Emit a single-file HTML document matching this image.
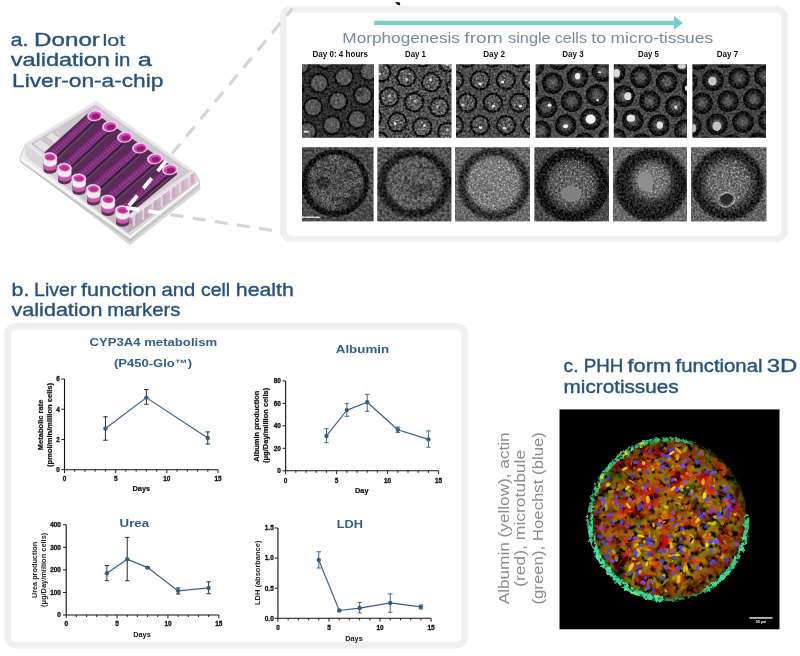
<!DOCTYPE html>
<html lang="en"><head><meta charset="utf-8"><title>Liver-on-a-chip donor lot validation</title>
<style>
html,body{margin:0;padding:0;background:#fff;}
svg{display:block;font-family:'Liberation Sans', sans-serif;}
</style></head><body>
<svg width="800" height="656" viewBox="0 0 800 656">
<rect width="800" height="656" fill="#fff"/>
<defs><filter id="bl05" x="-0.05" y="-0.05" width="1.1" height="1.1"><feGaussianBlur stdDeviation="0.5"/></filter>
<radialGradient id="wg4"><stop offset="0" stop-color="#646464"/><stop offset="0.4" stop-color="#4a4a4a"/><stop offset="0.68" stop-color="#1e1e1e"/><stop offset="0.92" stop-color="#0a0a0a"/><stop offset="1" stop-color="#1a1a1a"/></radialGradient>
<radialGradient id="wg5"><stop offset="0" stop-color="#6a6a6a"/><stop offset="0.4" stop-color="#484848"/><stop offset="0.68" stop-color="#1c1c1c"/><stop offset="0.92" stop-color="#080808"/><stop offset="1" stop-color="#181818"/></radialGradient>
<radialGradient id="wg6"><stop offset="0" stop-color="#666"/><stop offset="0.4" stop-color="#464646"/><stop offset="0.68" stop-color="#1c1c1c"/><stop offset="0.92" stop-color="#0a0a0a"/><stop offset="1" stop-color="#181818"/></radialGradient>
<filter id="nA" x="0" y="0" width="1" height="1" color-interpolation-filters="sRGB"><feTurbulence type="fractalNoise" baseFrequency="0.45" numOctaves="2" seed="3" result="t"/><feColorMatrix in="t" type="matrix" values="1 0 0 0 0 1 0 0 0 0 1 0 0 0 0 0 0 0 0 1" result="g"/><feComposite in="SourceGraphic" in2="g" operator="arithmetic" k1="0" k2="1" k3="0.42" k4="-0.210" result="c"/><feGaussianBlur in="c" stdDeviation="0.55"/></filter>
<filter id="nB" x="0" y="0" width="1" height="1" color-interpolation-filters="sRGB"><feTurbulence type="fractalNoise" baseFrequency="0.45" numOctaves="2" seed="8" result="t"/><feColorMatrix in="t" type="matrix" values="1 0 0 0 0 1 0 0 0 0 1 0 0 0 0 0 0 0 0 1" result="g"/><feComposite in="SourceGraphic" in2="g" operator="arithmetic" k1="0" k2="1" k3="0.7" k4="-0.350" result="c"/><feGaussianBlur in="c" stdDeviation="0.55"/></filter>
<filter id="nC" x="0" y="0" width="1" height="1" color-interpolation-filters="sRGB"><feTurbulence type="fractalNoise" baseFrequency="0.45" numOctaves="2" seed="13" result="t"/><feColorMatrix in="t" type="matrix" values="1 0 0 0 0 1 0 0 0 0 1 0 0 0 0 0 0 0 0 1" result="g"/><feComposite in="SourceGraphic" in2="g" operator="arithmetic" k1="0" k2="1" k3="0.6" k4="-0.300" result="c"/><feGaussianBlur in="c" stdDeviation="0.55"/></filter>
<filter id="nD" x="0" y="0" width="1" height="1" color-interpolation-filters="sRGB"><feTurbulence type="fractalNoise" baseFrequency="0.45" numOctaves="2" seed="21" result="t"/><feColorMatrix in="t" type="matrix" values="1 0 0 0 0 1 0 0 0 0 1 0 0 0 0 0 0 0 0 1" result="g"/><feComposite in="SourceGraphic" in2="g" operator="arithmetic" k1="0" k2="1" k3="0.45" k4="-0.225" result="c"/><feGaussianBlur in="c" stdDeviation="0.55"/></filter>
<filter id="nE" x="0" y="0" width="1" height="1" color-interpolation-filters="sRGB"><feTurbulence type="fractalNoise" baseFrequency="0.45" numOctaves="2" seed="34" result="t"/><feColorMatrix in="t" type="matrix" values="1 0 0 0 0 1 0 0 0 0 1 0 0 0 0 0 0 0 0 1" result="g"/><feComposite in="SourceGraphic" in2="g" operator="arithmetic" k1="0" k2="1" k3="0.45" k4="-0.225" result="c"/><feGaussianBlur in="c" stdDeviation="0.55"/></filter>
<filter id="nF" x="0" y="0" width="1" height="1" color-interpolation-filters="sRGB"><feTurbulence type="fractalNoise" baseFrequency="0.45" numOctaves="2" seed="55" result="t"/><feColorMatrix in="t" type="matrix" values="1 0 0 0 0 1 0 0 0 0 1 0 0 0 0 0 0 0 0 1" result="g"/><feComposite in="SourceGraphic" in2="g" operator="arithmetic" k1="0" k2="1" k3="0.42" k4="-0.210" result="c"/><feGaussianBlur in="c" stdDeviation="0.55"/></filter>
<filter id="sp1" x="0" y="0" width="1" height="1" color-interpolation-filters="sRGB"><feTurbulence type="fractalNoise" baseFrequency="0.45" numOctaves="2" seed="4" result="t"/><feColorMatrix in="t" type="matrix" values="0 0 0 0 1 0 0 0 0 1 0 0 0 0 1 6 0 0 0 -3.720" result="g"/><feComposite in="g" in2="SourceGraphic" operator="in"/></filter>
<filter id="sp2" x="0" y="0" width="1" height="1" color-interpolation-filters="sRGB"><feTurbulence type="fractalNoise" baseFrequency="0.5" numOctaves="2" seed="9" result="t"/><feColorMatrix in="t" type="matrix" values="0 0 0 0 1 0 0 0 0 1 0 0 0 0 1 6 0 0 0 -3.600" result="g"/><feComposite in="g" in2="SourceGraphic" operator="in"/></filter>
<clipPath id="mc1"><rect x="0" y="0" width="72" height="73.6"/></clipPath>
<clipPath id="mc2"><rect x="0" y="0" width="72.8" height="73.6"/></clipPath>
<clipPath id="mc3"><rect x="0" y="0" width="74" height="73.6"/></clipPath>
<clipPath id="mc4"><rect x="0" y="0" width="73.2" height="73.6"/></clipPath>
<clipPath id="mc5"><rect x="0" y="0" width="73.2" height="73.6"/></clipPath>
<clipPath id="mc6"><rect x="0" y="0" width="73.6" height="73.6"/></clipPath>
<filter id="nG" x="0" y="0" width="1" height="1" color-interpolation-filters="sRGB"><feTurbulence type="fractalNoise" baseFrequency="0.4" numOctaves="2" seed="5" result="t"/><feColorMatrix in="t" type="matrix" values="1 0 0 0 0 1 0 0 0 0 1 0 0 0 0 0 0 0 0 1" result="g"/><feComposite in="SourceGraphic" in2="g" operator="arithmetic" k1="0" k2="1" k3="0.45" k4="-0.225" result="c"/><feGaussianBlur in="c" stdDeviation="0.5"/></filter>
<filter id="nH" x="0" y="0" width="1" height="1" color-interpolation-filters="sRGB"><feTurbulence type="fractalNoise" baseFrequency="0.4" numOctaves="2" seed="15" result="t"/><feColorMatrix in="t" type="matrix" values="1 0 0 0 0 1 0 0 0 0 1 0 0 0 0 0 0 0 0 1" result="g"/><feComposite in="SourceGraphic" in2="g" operator="arithmetic" k1="0" k2="1" k3="0.5" k4="-0.250" result="c"/><feGaussianBlur in="c" stdDeviation="0.55"/></filter>
<filter id="nI" x="0" y="0" width="1" height="1" color-interpolation-filters="sRGB"><feTurbulence type="fractalNoise" baseFrequency="0.45" numOctaves="2" seed="25" result="t"/><feColorMatrix in="t" type="matrix" values="1 0 0 0 0 1 0 0 0 0 1 0 0 0 0 0 0 0 0 1" result="g"/><feComposite in="SourceGraphic" in2="g" operator="arithmetic" k1="0" k2="1" k3="0.55" k4="-0.275" result="c"/><feGaussianBlur in="c" stdDeviation="0.6"/></filter>
<filter id="nJ" x="0" y="0" width="1" height="1" color-interpolation-filters="sRGB"><feTurbulence type="fractalNoise" baseFrequency="0.45" numOctaves="2" seed="35" result="t"/><feColorMatrix in="t" type="matrix" values="1 0 0 0 0 1 0 0 0 0 1 0 0 0 0 0 0 0 0 1" result="g"/><feComposite in="SourceGraphic" in2="g" operator="arithmetic" k1="0" k2="1" k3="0.55" k4="-0.275" result="c"/><feGaussianBlur in="c" stdDeviation="0.6"/></filter>
<filter id="nK" x="0" y="0" width="1" height="1" color-interpolation-filters="sRGB"><feTurbulence type="fractalNoise" baseFrequency="0.45" numOctaves="2" seed="45" result="t"/><feColorMatrix in="t" type="matrix" values="1 0 0 0 0 1 0 0 0 0 1 0 0 0 0 0 0 0 0 1" result="g"/><feComposite in="SourceGraphic" in2="g" operator="arithmetic" k1="0" k2="1" k3="0.55" k4="-0.275" result="c"/><feGaussianBlur in="c" stdDeviation="0.6"/></filter>
<filter id="nL" x="0" y="0" width="1" height="1" color-interpolation-filters="sRGB"><feTurbulence type="fractalNoise" baseFrequency="0.45" numOctaves="2" seed="65" result="t"/><feColorMatrix in="t" type="matrix" values="1 0 0 0 0 1 0 0 0 0 1 0 0 0 0 0 0 0 0 1" result="g"/><feComposite in="SourceGraphic" in2="g" operator="arithmetic" k1="0" k2="1" k3="0.55" k4="-0.275" result="c"/><feGaussianBlur in="c" stdDeviation="0.6"/></filter>
<filter id="sp3" x="0" y="0" width="1" height="1" color-interpolation-filters="sRGB"><feTurbulence type="fractalNoise" baseFrequency="0.5" numOctaves="2" seed="14" result="t"/><feColorMatrix in="t" type="matrix" values="0 0 0 0 1 0 0 0 0 1 0 0 0 0 1 5 0 0 0 -2.900" result="g"/><feComposite in="g" in2="SourceGraphic" operator="in"/></filter>
<filter id="sp4" x="0" y="0" width="1" height="1" color-interpolation-filters="sRGB"><feTurbulence type="fractalNoise" baseFrequency="0.55" numOctaves="2" seed="24" result="t"/><feColorMatrix in="t" type="matrix" values="0 0 0 0 1 0 0 0 0 1 0 0 0 0 1 5 0 0 0 -2.800" result="g"/><feComposite in="g" in2="SourceGraphic" operator="in"/></filter>
<filter id="bl1" x="-0.2" y="-0.2" width="1.4" height="1.4"><feGaussianBlur stdDeviation="1"/></filter>
<filter id="bl2" x="-0.2" y="-0.2" width="1.4" height="1.4"><feGaussianBlur stdDeviation="2"/></filter>
<filter id="bl3" x="-0.3" y="-0.3" width="1.6" height="1.6"><feGaussianBlur stdDeviation="3"/></filter>
<clipPath id="mc7"><rect x="0" y="0" width="71.6" height="74.2"/></clipPath>
<clipPath id="mc8"><rect x="0" y="0" width="74.2" height="74.2"/></clipPath>
<radialGradient id="rg3"><stop offset="0" stop-color="#7c7c7c"/><stop offset="0.7" stop-color="#767676"/><stop offset="0.8" stop-color="#323232"/><stop offset="0.95" stop-color="#262626"/><stop offset="1" stop-color="#444"/></radialGradient>
<clipPath id="mc9"><rect x="0" y="0" width="75" height="74.2"/></clipPath>
<radialGradient id="rg4"><stop offset="0" stop-color="#5e5e5e"/><stop offset="0.5" stop-color="#585858"/><stop offset="0.66" stop-color="#3c3c3c"/><stop offset="0.78" stop-color="#181818"/><stop offset="0.96" stop-color="#151515"/><stop offset="1" stop-color="#303030"/></radialGradient>
<clipPath id="mc10"><rect x="0" y="0" width="74.6" height="74.2"/></clipPath>
<radialGradient id="rg5"><stop offset="0" stop-color="#464646"/><stop offset="0.55" stop-color="#303030"/><stop offset="0.75" stop-color="#1e1e1e"/><stop offset="0.93" stop-color="#1e1e1e"/><stop offset="1" stop-color="#3c3c3c"/></radialGradient>
<radialGradient id="rg5b"><stop offset="0" stop-color="#787878"/><stop offset="0.6" stop-color="#6e6e6e"/><stop offset="1" stop-color="#6e6e6e" stop-opacity="0"/></radialGradient>
<clipPath id="mc11"><rect x="0" y="0" width="74" height="74.2"/></clipPath>
<radialGradient id="rg6"><stop offset="0" stop-color="#6c6c6c"/><stop offset="0.5" stop-color="#646464"/><stop offset="0.7" stop-color="#3c3c3c"/><stop offset="0.82" stop-color="#202020"/><stop offset="0.95" stop-color="#1e1e1e"/><stop offset="1" stop-color="#3c3c3c"/></radialGradient>
<clipPath id="mc12"><rect x="0" y="0" width="75.5" height="74.2"/></clipPath>
<filter id="chipbl" x="-0.05" y="-0.05" width="1.1" height="1.1"><feGaussianBlur stdDeviation="0.55"/></filter>
<linearGradient id="chipbase" x1="0" y1="0" x2="1" y2="1"><stop offset="0" stop-color="#f2f2f2"/><stop offset="0.5" stop-color="#e2e2e2"/><stop offset="1" stop-color="#cfcfcf"/></linearGradient>
<linearGradient id="chipwallL" x1="0" y1="0" x2="0" y2="1"><stop offset="0" stop-color="#dedade"/><stop offset="1" stop-color="#bdb9bd"/></linearGradient>
<linearGradient id="chipwallR" x1="0" y1="0" x2="0" y2="1"><stop offset="0" stop-color="#d6c3d3"/><stop offset="1" stop-color="#bba8b8"/></linearGradient>
<clipPath id="chipclip"><path d="M96 101 L26 143 L20 157 L21 163 L130 242 L199.500 187 L199.500 181 L194.500 172 Z"/></clipPath>
<clipPath id="dgR"><rect x="168" y="0" width="140" height="250"/></clipPath>
<clipPath id="dgL"><rect x="100" y="140" width="68" height="100"/></clipPath>
<clipPath id="flclip"><rect x="559.3" y="409.2" width="220.4" height="220.4"/></clipPath>
<clipPath id="tisclip"><ellipse cx="668.0" cy="519.4" rx="78.5" ry="80.5"/></clipPath>
<filter id="flb1" x="-0.1" y="-0.1" width="1.2" height="1.2" color-interpolation-filters="sRGB"><feGaussianBlur stdDeviation="0.7"/></filter>
<filter id="flb2" x="-0.1" y="-0.1" width="1.2" height="1.2" color-interpolation-filters="sRGB"><feGaussianBlur stdDeviation="1.6"/></filter>
<filter id="flb3" x="-0.2" y="-0.2" width="1.4" height="1.4" color-interpolation-filters="sRGB"><feGaussianBlur stdDeviation="4"/></filter>
<radialGradient id="tisbg" gradientUnits="userSpaceOnUse" cx="668.0" cy="519.4" r="80.5"><stop offset="0" stop-color="#6a2a10"/><stop offset="0.8" stop-color="#5a200c"/><stop offset="1" stop-color="#2a1006"/></radialGradient>
<filter id="tistex" x="0" y="0" width="1" height="1" color-interpolation-filters="sRGB"><feTurbulence type="fractalNoise" baseFrequency="0.07" numOctaves="2" seed="12" result="t"/><feColorMatrix in="t" type="matrix" values="2.2 0 0 0 -0.56  0.85 1.8 0 0 -1.1  0 0 0 0 0  0 0 0 0 1" result="c"/><feComposite in="c" in2="SourceGraphic" operator="in"/></filter>
<filter id="tistex2" x="0" y="0" width="1" height="1" color-interpolation-filters="sRGB"><feTurbulence type="fractalNoise" baseFrequency="0.16" numOctaves="2" seed="31" result="t"/><feColorMatrix in="t" type="matrix" values="0 0 0 0 0  0 0 0 0 0  0 0 0 0 0  0 0 4 0 -2.0" result="c"/><feComposite in="c" in2="SourceGraphic" operator="in"/></filter>
<filter id="tistex3" x="0" y="0" width="1" height="1" color-interpolation-filters="sRGB"><feTurbulence type="fractalNoise" baseFrequency="0.085" numOctaves="3" seed="77" result="t"/><feColorMatrix in="t" type="matrix" values="0 0 0 0 0.62  0 0 0 0 0.54  0 0 0 0 0.07  0 3.4 0 0 -1.25" result="c"/><feComposite in="c" in2="SourceGraphic" operator="in"/></filter>
<radialGradient id="tisvig" gradientUnits="userSpaceOnUse" cx="668.0" cy="519.4" r="80.5"><stop offset="0" stop-color="#000" stop-opacity="0.04"/><stop offset="0.7" stop-color="#000" stop-opacity="0.1"/><stop offset="1" stop-color="#000" stop-opacity="0.42"/></radialGradient>
<filter id="rimf" x="-0.1" y="-0.1" width="1.2" height="1.2" color-interpolation-filters="sRGB"><feTurbulence type="fractalNoise" baseFrequency="0.25" numOctaves="2" seed="7" result="t"/><feDisplacementMap in="SourceGraphic" in2="t" scale="3.5" xChannelSelector="R" yChannelSelector="G" result="d"/><feColorMatrix in="t" type="matrix" values="0 0 0 0 0  0 0 0 0 0  0 0 0 0 0  0 0 0 4 -1.0" result="m"/><feComposite in="d" in2="m" operator="in" result="e"/><feGaussianBlur in="e" stdDeviation="0.6"/></filter></defs>
<rect x="283.45" y="9.1" width="500.95" height="229.95" rx="8" ry="8" fill="#fff" stroke="#eef1f0" stroke-width="6.6"/>
<rect x="7.65" y="326.35" width="456.95" height="318.75" rx="8" ry="8" fill="#fff" stroke="#eef1f0" stroke-width="6.6"/>
<path d="M395 2.100 Q397.200 1.700 399.500 2.600 Q400.700 3.700 400 5 Q398 5.500 396.800 4.100 Q396.200 3 395 2.100 Z" fill="#050505"/>
<text x="10.7" y="45.75" font-size="18.5" fill="#245180" textLength="17.6" lengthAdjust="spacingAndGlyphs" stroke="#245180" stroke-width="0.35">a.</text>
<text x="34.1" y="45.75" font-size="18.5" fill="#245180" textLength="65.8" lengthAdjust="spacingAndGlyphs" stroke="#245180" stroke-width="0.35">Donor</text>
<text x="102.5" y="45.75" font-size="17" fill="#245180" textLength="22.8" lengthAdjust="spacingAndGlyphs" stroke="#245180" stroke-width="0.15">lot</text>
<text x="10.7" y="66.25" font-size="18.5" fill="#245180" textLength="99.2" lengthAdjust="spacingAndGlyphs" stroke="#245180" stroke-width="0.35">validation</text>
<text x="114.5" y="66.25" font-size="18.5" fill="#245180" textLength="15.8" lengthAdjust="spacingAndGlyphs" stroke="#245180" stroke-width="0.35">in</text>
<text x="137.7" y="66.25" font-size="18.5" fill="#245180" textLength="14.2" lengthAdjust="spacingAndGlyphs" stroke="#245180" stroke-width="0.35">a</text>
<text x="12.1" y="87" font-size="18.5" fill="#245180" textLength="151.3" lengthAdjust="spacingAndGlyphs" stroke="#245180" stroke-width="0.35">Liver-on-a-chip</text>
<text x="11.6" y="295.5" font-size="18.2" fill="#245180" textLength="17.7" lengthAdjust="spacingAndGlyphs" stroke="#245180" stroke-width="0.35">b.</text>
<text x="34.1" y="295.5" font-size="18.2" fill="#245180" textLength="42.3" lengthAdjust="spacingAndGlyphs" stroke="#245180" stroke-width="0.35">Liver</text>
<text x="81.0" y="295.5" font-size="18.2" fill="#245180" textLength="75.6" lengthAdjust="spacingAndGlyphs" stroke="#245180" stroke-width="0.35">function</text>
<text x="161.6" y="295.5" font-size="18.2" fill="#245180" textLength="33.7" lengthAdjust="spacingAndGlyphs" stroke="#245180" stroke-width="0.35">and</text>
<text x="201.0" y="295.5" font-size="18.2" fill="#245180" textLength="29.1" lengthAdjust="spacingAndGlyphs" stroke="#245180" stroke-width="0.35">cell</text>
<text x="235.8" y="295.5" font-size="18.2" fill="#245180" textLength="58.1" lengthAdjust="spacingAndGlyphs" stroke="#245180" stroke-width="0.35">health</text>
<text x="11.6" y="315.8" font-size="18.2" fill="#245180" textLength="91.0" lengthAdjust="spacingAndGlyphs" stroke="#245180" stroke-width="0.35">validation</text>
<text x="107.2" y="315.8" font-size="18.2" fill="#245180" textLength="73.1" lengthAdjust="spacingAndGlyphs" stroke="#245180" stroke-width="0.35">markers</text>
<text x="563.6" y="372" font-size="17.5" fill="#245180" textLength="14.9" lengthAdjust="spacingAndGlyphs" stroke="#245180" stroke-width="0.35">c.</text>
<text x="583.7" y="372" font-size="17.5" fill="#245180" textLength="39.6" lengthAdjust="spacingAndGlyphs" stroke="#245180" stroke-width="0.35">PHH</text>
<text x="627.5" y="372" font-size="17.5" fill="#245180" textLength="43.8" lengthAdjust="spacingAndGlyphs" stroke="#245180" stroke-width="0.35">form</text>
<text x="675.5" y="372" font-size="17.5" fill="#245180" textLength="87.0" lengthAdjust="spacingAndGlyphs" stroke="#245180" stroke-width="0.35">functional</text>
<text x="766.7" y="372" font-size="17.5" fill="#245180" textLength="30.6" lengthAdjust="spacingAndGlyphs" stroke="#245180" stroke-width="0.35">3D</text>
<text x="563.6" y="392.8" font-size="17.5" fill="#245180" textLength="114.9" lengthAdjust="spacingAndGlyphs" stroke="#245180" stroke-width="0.35">microtissues</text>
<path d="M374.200 20.800 H674 V16 L682.700 22.900 L674 29.800 V25.100 H374.200 Z" fill="#7ac9cb"/>
<text x="342.3" y="43.4" font-size="14.6" fill="#788a9f" textLength="117.65" lengthAdjust="spacingAndGlyphs">Morphogenesis</text>
<text x="464.3" y="43.4" font-size="14.6" fill="#788a9f" textLength="38.4" lengthAdjust="spacingAndGlyphs">from</text>
<text x="508.05" y="43.4" font-size="14.6" fill="#788a9f" textLength="42.65" lengthAdjust="spacingAndGlyphs">single</text>
<text x="554.8" y="43.4" font-size="14.6" fill="#788a9f" textLength="32.15" lengthAdjust="spacingAndGlyphs">cells</text>
<text x="591.3" y="43.4" font-size="14.6" fill="#788a9f" textLength="14.9" lengthAdjust="spacingAndGlyphs">to</text>
<text x="610.55" y="43.4" font-size="14.6" fill="#788a9f" textLength="102.65" lengthAdjust="spacingAndGlyphs">micro-tissues</text>
<text x="312.5" y="57.2" font-size="8.3" fill="#111" font-weight="bold" textLength="55.4" lengthAdjust="spacingAndGlyphs">Day 0: 4 hours</text>
<text x="405.0" y="57.2" font-size="8.3" fill="#111" font-weight="bold" textLength="21" lengthAdjust="spacingAndGlyphs">Day 1</text>
<text x="483.25" y="57.2" font-size="8.3" fill="#111" font-weight="bold" textLength="21.7" lengthAdjust="spacingAndGlyphs">Day 2</text>
<text x="562.3" y="57.2" font-size="8.3" fill="#111" font-weight="bold" textLength="21.4" lengthAdjust="spacingAndGlyphs">Day 3</text>
<text x="638.05" y="57.2" font-size="8.3" fill="#111" font-weight="bold" textLength="20.7" lengthAdjust="spacingAndGlyphs">Day 5</text>
<text x="716.8" y="57.2" font-size="8.3" fill="#111" font-weight="bold" textLength="21.4" lengthAdjust="spacingAndGlyphs">Day 7</text>
<text x="508.7" y="604.3" font-size="14.6" fill="#8c8c8c" textLength="172" lengthAdjust="spacingAndGlyphs" transform="rotate(-90 508.7 604.3)">Albumin (yellow), actin</text>
<text x="525.3" y="586.8" font-size="14.6" fill="#8c8c8c" textLength="137" lengthAdjust="spacingAndGlyphs" transform="rotate(-90 525.3 586.8)">(red), microtubule</text>
<text x="543.5" y="604.55" font-size="14.6" fill="#8c8c8c" textLength="172.5" lengthAdjust="spacingAndGlyphs" transform="rotate(-90 543.5 604.55)">(green), Hoechst (blue)</text>
<path d="M64.5 379 V469.7 H218" fill="none" stroke="#111" stroke-width="1.1"/>
<path d="M64.5 469.7v3.4M74.73 469.7v2.0M84.97 469.7v2.0M95.2 469.7v2.0M105.43 469.7v2.0M115.67 469.7v3.4M125.9 469.7v2.0M136.13 469.7v2.0M146.37 469.7v2.0M156.6 469.7v2.0M166.83 469.7v3.4M177.07 469.7v2.0M187.3 469.7v2.0M197.53 469.7v2.0M207.77 469.7v2.0M218.0 469.7v3.4M64.5 469.7h-3.2M64.5 439.47h-3.2M64.5 409.23h-3.2M64.5 379.0h-3.2" fill="none" stroke="#111" stroke-width="0.95"/>
<polyline points="105.43,428.58 146.37,397.59 207.77,437.95" fill="none" stroke="#335f85" stroke-width="1.15"/>
<path d="M105.43 416.79V440.22M103.23 416.79h4.4M103.23 440.22h4.4M146.37 389.58V404.24M144.17000000000002 389.58h4.4M144.17000000000002 404.24h4.4M207.77 431.91V444.0M205.57000000000002 431.91h4.4M205.57000000000002 444.0h4.4" fill="none" stroke="#222" stroke-width="0.95"/>
<circle cx="105.43" cy="428.58" r="2.2" fill="#335f85"/>
<circle cx="146.37" cy="397.59" r="2.2" fill="#335f85"/>
<circle cx="207.77" cy="437.95" r="2.2" fill="#335f85"/>
<text x="64.5" y="480.6" font-size="6.4" fill="#111" font-weight="bold" text-anchor="middle" stroke="#111" stroke-width="0.3">0</text>
<text x="115.67" y="480.6" font-size="6.4" fill="#111" font-weight="bold" text-anchor="middle" stroke="#111" stroke-width="0.3">5</text>
<text x="166.83" y="480.6" font-size="6.4" fill="#111" font-weight="bold" text-anchor="middle" stroke="#111" stroke-width="0.3">10</text>
<text x="218.0" y="480.6" font-size="6.4" fill="#111" font-weight="bold" text-anchor="middle" stroke="#111" stroke-width="0.3">15</text>
<text x="59.8" y="472.0" font-size="6.4" fill="#111" font-weight="bold" text-anchor="end" stroke="#111" stroke-width="0.3">0</text>
<text x="59.8" y="441.77" font-size="6.4" fill="#111" font-weight="bold" text-anchor="end" stroke="#111" stroke-width="0.3">2</text>
<text x="59.8" y="411.54" font-size="6.4" fill="#111" font-weight="bold" text-anchor="end" stroke="#111" stroke-width="0.3">4</text>
<text x="59.8" y="381.3" font-size="6.4" fill="#111" font-weight="bold" text-anchor="end" stroke="#111" stroke-width="0.3">6</text>
<text x="89.4" y="346.4" font-size="10.6" fill="#2f5f8c" font-weight="bold" textLength="127.8" lengthAdjust="spacingAndGlyphs">CYP3A4 metabolism</text>
<text x="113.9" y="367.4" font-size="10.6" fill="#2f5f8c" font-weight="bold" textLength="78.3" lengthAdjust="spacingAndGlyphs">(P450-Glo™)</text>
<text x="43.3" y="424.9" font-size="7.1" fill="#111" font-weight="bold" text-anchor="middle" textLength="50.5" lengthAdjust="spacingAndGlyphs" transform="rotate(-90 43.3 424.9)" stroke="#111" stroke-width="0.2">Metabolic rate</text>
<text x="52.2" y="424.9" font-size="7.1" fill="#111" font-weight="bold" text-anchor="middle" textLength="84" lengthAdjust="spacingAndGlyphs" transform="rotate(-90 52.2 424.9)" stroke="#111" stroke-width="0.2">(pmol/min/million cells)</text>
<text x="141.3" y="490.5" font-size="7.2" fill="#111" font-weight="bold" text-anchor="middle" textLength="17.5" lengthAdjust="spacingAndGlyphs" stroke="#111" stroke-width="0.2">Days</text>
<path d="M285.65 380.9 V470.8 H438.6" fill="none" stroke="#111" stroke-width="1.1"/>
<path d="M285.65 470.8v3.4M295.85 470.8v2.0M306.04 470.8v2.0M316.24 470.8v2.0M326.44 470.8v2.0M336.63 470.8v3.4M346.83 470.8v2.0M357.03 470.8v2.0M367.22 470.8v2.0M377.42 470.8v2.0M387.62 470.8v3.4M397.81 470.8v2.0M408.01 470.8v2.0M418.21 470.8v2.0M428.4 470.8v2.0M438.6 470.8v3.4M285.65 470.8h-3.2M285.65 448.32h-3.2M285.65 425.85h-3.2M285.65 403.38h-3.2M285.65 380.9h-3.2" fill="none" stroke="#111" stroke-width="0.95"/>
<polyline points="326.44,435.96 346.83,410.12 367.22,402.25 397.81,429.78 428.4,439.33" fill="none" stroke="#335f85" stroke-width="1.15"/>
<path d="M326.44 428.66V442.71M324.24 428.66h4.4M324.24 442.71h4.4M346.83 403.38V416.3M344.63 403.38h4.4M344.63 416.3h4.4M367.22 394.38V411.24M365.02000000000004 394.38h4.4M365.02000000000004 411.24h4.4M397.81 426.97V432.59M395.61 426.97h4.4M395.61 432.59h4.4M428.4 430.91V447.2M426.2 430.91h4.4M426.2 447.2h4.4" fill="none" stroke="#335f85" stroke-width="0.95"/>
<circle cx="326.44" cy="435.96" r="2.2" fill="#335f85"/>
<circle cx="346.83" cy="410.12" r="2.2" fill="#335f85"/>
<circle cx="367.22" cy="402.25" r="2.2" fill="#335f85"/>
<circle cx="397.81" cy="429.78" r="2.2" fill="#335f85"/>
<circle cx="428.4" cy="439.33" r="2.2" fill="#335f85"/>
<text x="285.65" y="482.8" font-size="6.4" fill="#111" font-weight="bold" text-anchor="middle" stroke="#111" stroke-width="0.3">0</text>
<text x="336.63" y="482.8" font-size="6.4" fill="#111" font-weight="bold" text-anchor="middle" stroke="#111" stroke-width="0.3">5</text>
<text x="387.62" y="482.8" font-size="6.4" fill="#111" font-weight="bold" text-anchor="middle" stroke="#111" stroke-width="0.3">10</text>
<text x="438.6" y="482.8" font-size="6.4" fill="#111" font-weight="bold" text-anchor="middle" stroke="#111" stroke-width="0.3">15</text>
<text x="280.8" y="473.1" font-size="6.4" fill="#111" font-weight="bold" text-anchor="end" stroke="#111" stroke-width="0.3">0</text>
<text x="280.8" y="450.63" font-size="6.4" fill="#111" font-weight="bold" text-anchor="end" stroke="#111" stroke-width="0.3">20</text>
<text x="280.8" y="428.15" font-size="6.4" fill="#111" font-weight="bold" text-anchor="end" stroke="#111" stroke-width="0.3">40</text>
<text x="280.8" y="405.68" font-size="6.4" fill="#111" font-weight="bold" text-anchor="end" stroke="#111" stroke-width="0.3">60</text>
<text x="280.8" y="383.2" font-size="6.4" fill="#111" font-weight="bold" text-anchor="end" stroke="#111" stroke-width="0.3">80</text>
<text x="335.8" y="353.4" font-size="11" fill="#2f5f8c" font-weight="bold" textLength="53.3" lengthAdjust="spacingAndGlyphs">Albumin</text>
<text x="259.3" y="426.2" font-size="7.1" fill="#111" font-weight="bold" text-anchor="middle" textLength="71.3" lengthAdjust="spacingAndGlyphs" transform="rotate(-90 259.3 426.2)" stroke="#111" stroke-width="0.2">Albumin production</text>
<text x="268.2" y="425.4" font-size="7.1" fill="#111" font-weight="bold" text-anchor="middle" textLength="75.2" lengthAdjust="spacingAndGlyphs" transform="rotate(-90 268.2 425.4)" stroke="#111" stroke-width="0.2">(μg/Day/million cells)</text>
<text x="361.8" y="492.6" font-size="7.2" fill="#111" font-weight="bold" text-anchor="middle" textLength="13.5" lengthAdjust="spacingAndGlyphs" stroke="#111" stroke-width="0.2">Day</text>
<path d="M66.2 524.75 V615 H218.8" fill="none" stroke="#111" stroke-width="1.1"/>
<path d="M66.2 615v3.4M76.37 615v2.0M86.55 615v2.0M96.72 615v2.0M106.89 615v2.0M117.07 615v3.4M127.24 615v2.0M137.41 615v2.0M147.59 615v2.0M157.76 615v2.0M167.93 615v3.4M178.11 615v2.0M188.28 615v2.0M198.45 615v2.0M208.63 615v2.0M218.8 615v3.4M66.2 615.0h-3.2M66.2 592.44h-3.2M66.2 569.88h-3.2M66.2 547.31h-3.2M66.2 524.75h-3.2" fill="none" stroke="#111" stroke-width="0.95"/>
<polyline points="106.89,573.26 127.24,559.27 147.59,567.62 178.11,590.86 208.63,587.92" fill="none" stroke="#335f85" stroke-width="1.15"/>
<path d="M106.89 565.59V580.71M104.69 565.59h4.4M104.69 580.71h4.4M127.24 537.38V580.71M125.03999999999999 537.38h4.4M125.03999999999999 580.71h4.4M147.59 566.94V568.3M145.39000000000001 566.94h4.4M145.39000000000001 568.3h4.4M178.11 587.92V594.02M175.91000000000003 587.92h4.4M175.91000000000003 594.02h4.4M208.63 581.83V593.79M206.43 581.83h4.4M206.43 593.79h4.4" fill="none" stroke="#222" stroke-width="0.95"/>
<circle cx="106.89" cy="573.26" r="2.2" fill="#335f85"/>
<circle cx="127.24" cy="559.27" r="2.2" fill="#335f85"/>
<circle cx="147.59" cy="567.62" r="2.2" fill="#335f85"/>
<circle cx="178.11" cy="590.86" r="2.2" fill="#335f85"/>
<circle cx="208.63" cy="587.92" r="2.2" fill="#335f85"/>
<text x="66.2" y="626" font-size="6.4" fill="#111" font-weight="bold" text-anchor="middle" stroke="#111" stroke-width="0.3">0</text>
<text x="117.07" y="626" font-size="6.4" fill="#111" font-weight="bold" text-anchor="middle" stroke="#111" stroke-width="0.3">5</text>
<text x="167.93" y="626" font-size="6.4" fill="#111" font-weight="bold" text-anchor="middle" stroke="#111" stroke-width="0.3">10</text>
<text x="218.8" y="626" font-size="6.4" fill="#111" font-weight="bold" text-anchor="middle" stroke="#111" stroke-width="0.3">15</text>
<text x="60.8" y="617.3" font-size="6.4" fill="#111" font-weight="bold" text-anchor="end" stroke="#111" stroke-width="0.3">0</text>
<text x="60.8" y="594.74" font-size="6.4" fill="#111" font-weight="bold" text-anchor="end" stroke="#111" stroke-width="0.3">100</text>
<text x="60.8" y="572.18" font-size="6.4" fill="#111" font-weight="bold" text-anchor="end" stroke="#111" stroke-width="0.3">200</text>
<text x="60.8" y="549.62" font-size="6.4" fill="#111" font-weight="bold" text-anchor="end" stroke="#111" stroke-width="0.3">300</text>
<text x="60.8" y="527.05" font-size="6.4" fill="#111" font-weight="bold" text-anchor="end" stroke="#111" stroke-width="0.3">400</text>
<text x="119.6" y="527" font-size="11.6" fill="#2f5f8c" font-weight="bold" textLength="29.4" lengthAdjust="spacingAndGlyphs">Urea</text>
<text x="37.3" y="569.9" font-size="7.1" fill="#222" font-weight="bold" text-anchor="middle" textLength="56.4" lengthAdjust="spacingAndGlyphs" transform="rotate(-90 37.3 569.9)">Urea production</text>
<text x="46.2" y="569.9" font-size="7.1" fill="#222" font-weight="bold" text-anchor="middle" textLength="74.3" lengthAdjust="spacingAndGlyphs" transform="rotate(-90 46.2 569.9)">(μg/Day/million cells)</text>
<text x="142" y="637.2" font-size="7.2" fill="#111" font-weight="bold" text-anchor="middle" textLength="17.5" lengthAdjust="spacingAndGlyphs">Days</text>
<path d="M277.95 528 V618.3 H431.1" fill="none" stroke="#111" stroke-width="1.1"/>
<path d="M277.95 618.3v3.4M288.16 618.3v2.0M298.37 618.3v2.0M308.58 618.3v2.0M318.79 618.3v2.0M329.0 618.3v3.4M339.21 618.3v2.0M349.42 618.3v2.0M359.63 618.3v2.0M369.84 618.3v2.0M380.05 618.3v3.4M390.26 618.3v2.0M400.47 618.3v2.0M410.68 618.3v2.0M420.89 618.3v2.0M431.1 618.3v3.4M277.95 618.3h-3.2M277.95 588.2h-3.2M277.95 558.1h-3.2M277.95 528.0h-3.2" fill="none" stroke="#111" stroke-width="0.95"/>
<polyline points="318.79,559.91 339.21,610.47 359.63,608.07 390.26,602.95 420.89,606.86" fill="none" stroke="#335f85" stroke-width="1.15"/>
<path d="M318.79 551.78V568.03M316.59000000000003 551.78h4.4M316.59000000000003 568.03h4.4M339.21 609.87V611.08M337.01 609.87h4.4M337.01 611.08h4.4M359.63 602.35V612.88M357.43 602.35h4.4M357.43 612.88h4.4M390.26 593.92V612.28M388.06 593.92h4.4M388.06 612.28h4.4M420.89 605.06V608.97M418.69 605.06h4.4M418.69 608.97h4.4" fill="none" stroke="#335f85" stroke-width="0.95"/>
<circle cx="318.79" cy="559.91" r="2.2" fill="#335f85"/>
<circle cx="339.21" cy="610.47" r="2.2" fill="#335f85"/>
<circle cx="359.63" cy="608.07" r="2.2" fill="#335f85"/>
<circle cx="390.26" cy="602.95" r="2.2" fill="#335f85"/>
<circle cx="420.89" cy="606.86" r="2.2" fill="#335f85"/>
<text x="277.95" y="629.5" font-size="6.4" fill="#111" font-weight="bold" text-anchor="middle" stroke="#111" stroke-width="0.3">0</text>
<text x="329.0" y="629.5" font-size="6.4" fill="#111" font-weight="bold" text-anchor="middle" stroke="#111" stroke-width="0.3">5</text>
<text x="380.05" y="629.5" font-size="6.4" fill="#111" font-weight="bold" text-anchor="middle" stroke="#111" stroke-width="0.3">10</text>
<text x="431.1" y="629.5" font-size="6.4" fill="#111" font-weight="bold" text-anchor="middle" stroke="#111" stroke-width="0.3">15</text>
<text x="273.7" y="620.6" font-size="6.4" fill="#111" font-weight="bold" text-anchor="end" stroke="#111" stroke-width="0.3">0.0</text>
<text x="273.7" y="590.5" font-size="6.4" fill="#111" font-weight="bold" text-anchor="end" stroke="#111" stroke-width="0.3">0.5</text>
<text x="273.7" y="560.4" font-size="6.4" fill="#111" font-weight="bold" text-anchor="end" stroke="#111" stroke-width="0.3">1.0</text>
<text x="273.7" y="530.3" font-size="6.4" fill="#111" font-weight="bold" text-anchor="end" stroke="#111" stroke-width="0.3">1.5</text>
<text x="336.8" y="527.5" font-size="11.6" fill="#2f5f8c" font-weight="bold" textLength="26.3" lengthAdjust="spacingAndGlyphs">LDH</text>
<text x="260.2" y="572.8" font-size="7.1" fill="#222" font-weight="bold" text-anchor="middle" textLength="64.4" lengthAdjust="spacingAndGlyphs" transform="rotate(-90 260.2 572.8)">LDH (absorbance)</text>
<text x="354" y="640.6" font-size="7.2" fill="#111" font-weight="bold" text-anchor="middle" textLength="17.5" lengthAdjust="spacingAndGlyphs">Days</text>
<g transform="translate(302 64.2)" clip-path="url(#mc1)"><g filter="url(#nA)">
<rect width="72" height="73.6" fill="#2d2d2d"/>
<path d="M13.5 27.2L49.8 57.6M19.2 26.1L46.5 49.0M-7.2 26.0L21.2 49.8M53.1 -9.4L72.8 7.0M-16.7 53.2L13.4 78.4M-24.8 66.3L12.5 97.6M42.3 41.0L58.0 54.2M-15.2 34.0L-2.1 44.9M1.4 7.5L13.6 17.8M15.6 16.9L49.7 45.5M25.3 39.5L50.2 60.4M41.5 24.9L60.4 40.8M64.8 68.9L98.8 97.5M46.3 12.1L63.9 26.9M0.6 -16.9L32.6 10.0M15.9 60.1L37.8 78.4M72.4 64.5L83.9 74.1M-2.8 65.1L21.3 85.3M73.5 21.6L86.9 32.8M38.5 55.0L57.3 70.7M-20.7 5.5L16.7 36.8M50.7 -6.5L68.8 8.6M-17.1 -18.2L15.7 9.4M-5.4 32.5L18.1 52.2M0.0 52.2L15.0 64.8M37.8 -8.6L60.6 10.5M-9.2 -0.5L28.3 31.0M46.3 3.7L81.5 33.2M-7.8 12.5L26.6 41.3M30.0 -16.6L68.1 15.3M-6.5 0.7L25.7 27.7M13.5 12.1L27.0 23.4M-10.7 37.0L7.3 52.1M33.5 14.9L57.1 34.7M64.8 24.0L91.7 46.6M61.9 0.6L77.5 13.7M64.5 58.9L82.7 74.2M-10.9 43.8L25.8 74.6M-9.5 64.2L25.7 93.7M38.4 23.5L52.7 35.4" stroke="#444" stroke-opacity="0.5" stroke-width="0.8" fill="none"/>
<circle cx="5" cy="67" r="9.1" fill="#585858" stroke="#101010" stroke-width="2.2"/>
<circle cx="-8" cy="25" r="9.1" fill="#585858" stroke="#101010" stroke-width="2.2"/>
<circle cx="11" cy="43" r="9.1" fill="#585858" stroke="#101010" stroke-width="2.2"/>
<circle cx="30" cy="61" r="9.1" fill="#585858" stroke="#101010" stroke-width="2.2"/>
<circle cx="49" cy="79" r="9.1" fill="#585858" stroke="#101010" stroke-width="2.2"/>
<circle cx="-2" cy="1" r="9.1" fill="#585858" stroke="#101010" stroke-width="2.2"/>
<circle cx="17" cy="19" r="9.1" fill="#585858" stroke="#101010" stroke-width="2.2"/>
<circle cx="36" cy="37" r="9.1" fill="#585858" stroke="#101010" stroke-width="2.2"/>
<circle cx="55" cy="55" r="9.1" fill="#585858" stroke="#101010" stroke-width="2.2"/>
<circle cx="74" cy="73" r="9.1" fill="#585858" stroke="#101010" stroke-width="2.2"/>
<circle cx="23" cy="-5" r="9.1" fill="#585858" stroke="#101010" stroke-width="2.2"/>
<circle cx="42" cy="13" r="9.1" fill="#585858" stroke="#101010" stroke-width="2.2"/>
<circle cx="61" cy="31" r="9.1" fill="#585858" stroke="#101010" stroke-width="2.2"/>
<circle cx="80" cy="49" r="9.1" fill="#585858" stroke="#101010" stroke-width="2.2"/>
<circle cx="67" cy="7" r="9.1" fill="#585858" stroke="#101010" stroke-width="2.2"/>
<ellipse cx="58" cy="29" rx="4" ry="3" fill="#3a3a3a"/>
<rect x="2" y="66.6" width="4.4" height="1.8" fill="#eee"/>
</g></g>
<g transform="translate(378.7 64.2)" clip-path="url(#mc2)"><g filter="url(#nB)">
<rect width="72.8" height="73.6" fill="#505050"/>
<circle cx="-6.5" cy="53" r="9.2" fill="#585858" stroke="#121212" stroke-width="2.3"/>
<circle cx="1.5" cy="78" r="9.2" fill="#585858" stroke="#121212" stroke-width="2.3"/>
<circle cx="2.5" cy="8" r="9.2" fill="#585858" stroke="#121212" stroke-width="2.3"/>
<circle cx="10.5" cy="33" r="9.2" fill="#585858" stroke="#121212" stroke-width="2.3"/>
<circle cx="18.5" cy="58" r="9.2" fill="#585858" stroke="#121212" stroke-width="2.3"/>
<circle cx="26.5" cy="83" r="9.2" fill="#585858" stroke="#121212" stroke-width="2.3"/>
<circle cx="27.5" cy="13" r="9.2" fill="#585858" stroke="#121212" stroke-width="2.3"/>
<circle cx="35.5" cy="38" r="9.2" fill="#585858" stroke="#121212" stroke-width="2.3"/>
<circle cx="43.5" cy="63" r="9.2" fill="#585858" stroke="#121212" stroke-width="2.3"/>
<circle cx="44.5" cy="-7" r="9.2" fill="#585858" stroke="#121212" stroke-width="2.3"/>
<circle cx="52.5" cy="18" r="9.2" fill="#585858" stroke="#121212" stroke-width="2.3"/>
<circle cx="60.5" cy="43" r="9.2" fill="#585858" stroke="#121212" stroke-width="2.3"/>
<circle cx="68.5" cy="68" r="9.2" fill="#585858" stroke="#121212" stroke-width="2.3"/>
<circle cx="69.5" cy="-2" r="9.2" fill="#585858" stroke="#121212" stroke-width="2.3"/>
<circle cx="77.5" cy="23" r="9.2" fill="#585858" stroke="#121212" stroke-width="2.3"/>
<circle cx="-6.5" cy="53" r="7.5" fill="#fff" filter="url(#sp1)" opacity="0.5"/>
<circle cx="-9.3" cy="55.8" r="1.5" fill="#ddd" fill-opacity="0.8"/>
<circle cx="1.5" cy="78" r="7.5" fill="#fff" filter="url(#sp1)" opacity="0.5"/>
<circle cx="-0.1" cy="79.2" r="1.5" fill="#ddd" fill-opacity="0.8"/>
<circle cx="2.5" cy="8" r="7.5" fill="#fff" filter="url(#sp1)" opacity="0.5"/>
<circle cx="1.0" cy="9.9" r="1.5" fill="#ddd" fill-opacity="0.8"/>
<circle cx="10.5" cy="33" r="7.5" fill="#fff" filter="url(#sp1)" opacity="0.5"/>
<circle cx="11.1" cy="31.8" r="1.5" fill="#ddd" fill-opacity="0.8"/>
<circle cx="18.5" cy="58" r="7.5" fill="#fff" filter="url(#sp1)" opacity="0.5"/>
<circle cx="16.6" cy="59.3" r="1.5" fill="#ddd" fill-opacity="0.8"/>
<circle cx="26.5" cy="83" r="7.5" fill="#fff" filter="url(#sp1)" opacity="0.5"/>
<circle cx="23.9" cy="81.4" r="1.5" fill="#ddd" fill-opacity="0.8"/>
<circle cx="27.5" cy="13" r="7.5" fill="#fff" filter="url(#sp1)" opacity="0.5"/>
<circle cx="27.9" cy="15.1" r="1.5" fill="#ddd" fill-opacity="0.8"/>
<circle cx="35.5" cy="38" r="7.5" fill="#fff" filter="url(#sp1)" opacity="0.5"/>
<circle cx="36.2" cy="36.7" r="1.5" fill="#ddd" fill-opacity="0.8"/>
<circle cx="43.5" cy="63" r="7.5" fill="#fff" filter="url(#sp1)" opacity="0.5"/>
<circle cx="46.0" cy="61.2" r="1.5" fill="#ddd" fill-opacity="0.8"/>
<circle cx="44.5" cy="-7" r="7.5" fill="#fff" filter="url(#sp1)" opacity="0.5"/>
<circle cx="41.6" cy="-8.4" r="1.5" fill="#ddd" fill-opacity="0.8"/>
<circle cx="52.5" cy="18" r="7.5" fill="#fff" filter="url(#sp1)" opacity="0.5"/>
<circle cx="52.2" cy="15.4" r="1.5" fill="#ddd" fill-opacity="0.8"/>
<circle cx="60.5" cy="43" r="7.5" fill="#fff" filter="url(#sp1)" opacity="0.5"/>
<circle cx="58.6" cy="42.2" r="1.5" fill="#ddd" fill-opacity="0.8"/>
<circle cx="68.5" cy="68" r="7.5" fill="#fff" filter="url(#sp1)" opacity="0.5"/>
<circle cx="68.9" cy="65.8" r="1.5" fill="#ddd" fill-opacity="0.8"/>
<circle cx="69.5" cy="-2" r="7.5" fill="#fff" filter="url(#sp1)" opacity="0.5"/>
<circle cx="68.7" cy="0.3" r="1.5" fill="#ddd" fill-opacity="0.8"/>
<circle cx="77.5" cy="23" r="7.5" fill="#fff" filter="url(#sp1)" opacity="0.5"/>
<circle cx="80.4" cy="23.9" r="1.5" fill="#ddd" fill-opacity="0.8"/>
</g></g>
<g transform="translate(456 64.2)" clip-path="url(#mc3)"><g filter="url(#nC)">
<rect width="74" height="73.6" fill="#4c4c4c"/>
<circle cx="11" cy="-6.5" r="9.1" fill="#525252" stroke="#101010" stroke-width="2.4"/>
<circle cx="-2" cy="16.0" r="9.1" fill="#525252" stroke="#101010" stroke-width="2.4"/>
<circle cx="37" cy="-6.5" r="9.1" fill="#525252" stroke="#101010" stroke-width="2.4"/>
<circle cx="24" cy="16.0" r="9.1" fill="#525252" stroke="#101010" stroke-width="2.4"/>
<circle cx="11" cy="38.5" r="9.1" fill="#525252" stroke="#101010" stroke-width="2.4"/>
<circle cx="-2" cy="61.0" r="9.1" fill="#525252" stroke="#101010" stroke-width="2.4"/>
<circle cx="63" cy="-6.5" r="9.1" fill="#525252" stroke="#101010" stroke-width="2.4"/>
<circle cx="50" cy="16.0" r="9.1" fill="#525252" stroke="#101010" stroke-width="2.4"/>
<circle cx="37" cy="38.5" r="9.1" fill="#525252" stroke="#101010" stroke-width="2.4"/>
<circle cx="24" cy="61.0" r="9.1" fill="#525252" stroke="#101010" stroke-width="2.4"/>
<circle cx="11" cy="83.5" r="9.1" fill="#525252" stroke="#101010" stroke-width="2.4"/>
<circle cx="76" cy="16.0" r="9.1" fill="#525252" stroke="#101010" stroke-width="2.4"/>
<circle cx="63" cy="38.5" r="9.1" fill="#525252" stroke="#101010" stroke-width="2.4"/>
<circle cx="50" cy="61.0" r="9.1" fill="#525252" stroke="#101010" stroke-width="2.4"/>
<circle cx="37" cy="83.5" r="9.1" fill="#525252" stroke="#101010" stroke-width="2.4"/>
<circle cx="76" cy="61.0" r="9.1" fill="#525252" stroke="#101010" stroke-width="2.4"/>
<circle cx="63" cy="83.5" r="9.1" fill="#525252" stroke="#101010" stroke-width="2.4"/>
<circle cx="11" cy="-6.5" r="7.5" fill="#fff" filter="url(#sp2)" opacity="0.4"/>
<ellipse cx="11.1" cy="-4.6" rx="1.7" ry="1.3" fill="#e6e6e6"/>
<circle cx="-2" cy="16.0" r="7.5" fill="#fff" filter="url(#sp2)" opacity="0.4"/>
<ellipse cx="-5.2" cy="15.2" rx="1.7" ry="1.3" fill="#e6e6e6"/>
<circle cx="37" cy="-6.5" r="7.5" fill="#fff" filter="url(#sp2)" opacity="0.4"/>
<ellipse cx="33.1" cy="-2.9" rx="1.7" ry="1.3" fill="#e6e6e6"/>
<circle cx="24" cy="16.0" r="7.5" fill="#fff" filter="url(#sp2)" opacity="0.4"/>
<ellipse cx="24.2" cy="19.8" rx="1.7" ry="1.3" fill="#e6e6e6"/>
<circle cx="11" cy="38.5" r="7.5" fill="#fff" filter="url(#sp2)" opacity="0.4"/>
<ellipse cx="7.1" cy="40.7" rx="1.7" ry="1.3" fill="#e6e6e6"/>
<circle cx="-2" cy="61.0" r="7.5" fill="#fff" filter="url(#sp2)" opacity="0.4"/>
<ellipse cx="-3.1" cy="63.7" rx="1.7" ry="1.3" fill="#e6e6e6"/>
<circle cx="63" cy="-6.5" r="7.5" fill="#fff" filter="url(#sp2)" opacity="0.4"/>
<ellipse cx="60.9" cy="-2.5" rx="1.7" ry="1.3" fill="#e6e6e6"/>
<circle cx="50" cy="16.0" r="7.5" fill="#fff" filter="url(#sp2)" opacity="0.4"/>
<ellipse cx="46.5" cy="17.7" rx="1.7" ry="1.3" fill="#e6e6e6"/>
<circle cx="37" cy="38.5" r="7.5" fill="#fff" filter="url(#sp2)" opacity="0.4"/>
<ellipse cx="37.4" cy="42.0" rx="1.7" ry="1.3" fill="#e6e6e6"/>
<circle cx="24" cy="61.0" r="7.5" fill="#fff" filter="url(#sp2)" opacity="0.4"/>
<ellipse cx="24.4" cy="63.5" rx="1.7" ry="1.3" fill="#e6e6e6"/>
<circle cx="11" cy="83.5" r="7.5" fill="#fff" filter="url(#sp2)" opacity="0.4"/>
<ellipse cx="11.8" cy="87.1" rx="1.7" ry="1.3" fill="#e6e6e6"/>
<circle cx="76" cy="16.0" r="7.5" fill="#fff" filter="url(#sp2)" opacity="0.4"/>
<ellipse cx="74.1" cy="18.4" rx="1.7" ry="1.3" fill="#e6e6e6"/>
<circle cx="63" cy="38.5" r="7.5" fill="#fff" filter="url(#sp2)" opacity="0.4"/>
<ellipse cx="64.4" cy="41.9" rx="1.7" ry="1.3" fill="#e6e6e6"/>
<circle cx="50" cy="61.0" r="7.5" fill="#fff" filter="url(#sp2)" opacity="0.4"/>
<ellipse cx="48.5" cy="64.0" rx="1.7" ry="1.3" fill="#e6e6e6"/>
<circle cx="37" cy="83.5" r="7.5" fill="#fff" filter="url(#sp2)" opacity="0.4"/>
<ellipse cx="38.2" cy="85.4" rx="1.7" ry="1.3" fill="#e6e6e6"/>
<circle cx="76" cy="61.0" r="7.5" fill="#fff" filter="url(#sp2)" opacity="0.4"/>
<ellipse cx="75.7" cy="61.9" rx="1.7" ry="1.3" fill="#e6e6e6"/>
<circle cx="63" cy="83.5" r="7.5" fill="#fff" filter="url(#sp2)" opacity="0.4"/>
<ellipse cx="62.5" cy="85.5" rx="1.7" ry="1.3" fill="#e6e6e6"/>
</g></g>
<g transform="translate(535.6 64.2)" clip-path="url(#mc4)"><g filter="url(#nD)">
<rect width="73.2" height="73.6" fill="#4c4c4c"/>
<circle cx="5" cy="67" r="10.9" fill="url(#wg4)"/>
<circle cx="-8" cy="25" r="10.9" fill="url(#wg4)"/>
<circle cx="11" cy="43" r="10.9" fill="url(#wg4)"/>
<circle cx="30" cy="61" r="10.9" fill="url(#wg4)"/>
<circle cx="49" cy="79" r="10.9" fill="url(#wg4)"/>
<circle cx="-2" cy="1" r="10.9" fill="url(#wg4)"/>
<circle cx="17" cy="19" r="10.9" fill="url(#wg4)"/>
<circle cx="36" cy="37" r="10.9" fill="url(#wg4)"/>
<circle cx="55" cy="55" r="10.9" fill="url(#wg4)"/>
<circle cx="74" cy="73" r="10.9" fill="url(#wg4)"/>
<circle cx="23" cy="-5" r="10.9" fill="url(#wg4)"/>
<circle cx="42" cy="13" r="10.9" fill="url(#wg4)"/>
<circle cx="61" cy="31" r="10.9" fill="url(#wg4)"/>
<circle cx="80" cy="49" r="10.9" fill="url(#wg4)"/>
<circle cx="67" cy="7" r="10.9" fill="url(#wg4)"/>
</g><g filter="url(#bl05)"><ellipse cx="42" cy="12" rx="2.6" ry="3.2" fill="#eee"/><ellipse cx="55" cy="55" rx="5" ry="4.6" fill="#f0f0f0"/><ellipse cx="30" cy="62" rx="2.6" ry="2" fill="#f4f4f4"/><ellipse cx="14" cy="41" rx="2" ry="1.6" fill="#f4f4f4"/><ellipse cx="62" cy="36" rx="1.2" ry="1.2" fill="#ddd"/><ellipse cx="64" cy="8" rx="1.8" ry="1" fill="#ddd"/></g></g>
<g transform="translate(613.8 64.2)" clip-path="url(#mc5)"><g filter="url(#nE)">
<rect width="73.2" height="73.6" fill="#484848"/>
<path d="M-21.0 66.5L16.0 33.2M61.4 67.7L82.6 48.6M47.2 54.6L69.8 34.2M52.8 11.6L83.5 -16.0M-19.1 56.9L4.6 35.6M-0.6 66.2L23.5 44.5M38.4 84.2L56.2 68.1M-23.3 31.1L5.4 5.2M-8.5 21.5L26.2 -9.7M34.3 46.8L68.7 15.9M12.3 59.7L28.6 45.0M12.7 81.2L47.6 49.7M58.9 37.8L85.2 14.1M7.5 13.6L31.5 -8.1M53.2 82.8L82.8 56.1M70.8 22.9L86.3 8.9M23.6 23.3L40.4 8.2M16.6 59.4L40.6 37.8M1.0 85.1L37.7 52.0M26.2 2.4L38.2 -8.4M56.6 7.2L86.1 -19.4M27.3 33.2L59.0 4.6M-19.7 13.1L3.3 -7.6M-16.4 75.5L1.0 59.9M-10.6 6.8L16.9 -18.0M17.5 61.7L45.7 36.3M50.8 92.7L79.7 66.7M0.7 41.6L16.5 27.4M-23.9 47.6L5.9 20.8M-3.4 24.6L16.8 6.4M41.4 50.9L68.6 26.5M44.6 41.1L76.4 12.5M56.8 14.1L92.2 -17.8M45.9 12.5L68.8 -8.2M37.8 84.6L58.8 65.7M27.1 86.7L58.9 58.0M64.0 46.0L92.0 20.8M-7.1 72.2L25.3 43.0M41.5 64.7L58.1 49.7M55.6 98.2L92.2 65.3M30.3 72.8L49.8 55.2M64.7 79.2L84.9 61.0M-15.0 42.7L10.4 19.8M55.7 41.0L67.5 30.3M49.4 10.4L81.4 -18.4" stroke="#6a6a6a" stroke-opacity="0.5" stroke-width="0.8" fill="none"/>
<circle cx="1" cy="8" r="10.9" fill="url(#wg5)"/>
<circle cx="44" cy="-6" r="10.9" fill="url(#wg5)"/>
<circle cx="27" cy="13" r="10.9" fill="url(#wg5)"/>
<circle cx="10" cy="32" r="10.9" fill="url(#wg5)"/>
<circle cx="-7" cy="51" r="10.9" fill="url(#wg5)"/>
<circle cx="70" cy="-1" r="10.9" fill="url(#wg5)"/>
<circle cx="53" cy="18" r="10.9" fill="url(#wg5)"/>
<circle cx="36" cy="37" r="10.9" fill="url(#wg5)"/>
<circle cx="19" cy="56" r="10.9" fill="url(#wg5)"/>
<circle cx="2" cy="75" r="10.9" fill="url(#wg5)"/>
<circle cx="79" cy="23" r="10.9" fill="url(#wg5)"/>
<circle cx="62" cy="42" r="10.9" fill="url(#wg5)"/>
<circle cx="45" cy="61" r="10.9" fill="url(#wg5)"/>
<circle cx="28" cy="80" r="10.9" fill="url(#wg5)"/>
<circle cx="71" cy="66" r="10.9" fill="url(#wg5)"/>
</g><g filter="url(#bl05)"><ellipse cx="3" cy="9" rx="3.2" ry="4.2" fill="#d8d8d8"/><ellipse cx="14" cy="32" rx="3.6" ry="4" fill="#dcdcdc"/><ellipse cx="17" cy="54" rx="4.2" ry="3.6" fill="#e2e2e2"/><ellipse cx="46" cy="61" rx="3.2" ry="3.6" fill="#dedede"/><ellipse cx="68" cy="2" rx="4" ry="2.6" fill="#d0d0d0"/><ellipse cx="62" cy="43" rx="1.6" ry="2" fill="#ccc"/><ellipse cx="72.5" cy="24" rx="1.2" ry="2.6" fill="#eee"/></g></g>
<g transform="translate(692.4 64.2)" clip-path="url(#mc6)"><g filter="url(#nF)">
<rect width="73.6" height="73.6" fill="#424242"/>
<path d="M-10.1 35.0L22.5 7.7M-9.5 14.5L15.8 -6.7M42.7 81.2L72.7 56.0M60.1 51.6L97.0 20.6M-14.8 21.5L10.9 -0.0M2.8 70.2L31.5 46.2M25.7 80.1L52.2 57.8M2.1 40.0L36.3 11.4M57.1 23.9L91.4 -4.9M67.2 50.3L94.1 27.8M-3.7 50.6L21.3 29.7M27.9 8.3L65.4 -23.1M21.8 41.3L54.8 13.7M27.7 48.6L57.7 23.4M-15.1 49.9L7.5 30.9M70.2 84.3L88.9 68.6M22.7 11.6L45.8 -7.8M54.2 84.5L78.5 64.1M5.7 19.7L33.7 -3.9M60.4 15.7L92.8 -11.5M-16.7 15.5L0.9 0.8M43.8 29.0L64.8 11.3M32.5 12.9L63.6 -13.2M-7.6 45.4L10.6 30.1M-3.1 49.4L20.1 29.9M12.3 39.5L38.0 17.9M-9.3 21.0L19.2 -2.8M32.6 54.0L66.9 25.2M38.4 77.6L56.1 62.8M41.5 80.8L77.2 50.9" stroke="#5a5a5a" stroke-opacity="0.4" stroke-width="0.8" fill="none"/>
<circle cx="5.6" cy="-5" r="10.9" fill="url(#wg6)"/>
<circle cx="-5.4" cy="18" r="10.9" fill="url(#wg6)"/>
<circle cx="31.6" cy="-7" r="10.9" fill="url(#wg6)"/>
<circle cx="20.6" cy="16" r="10.9" fill="url(#wg6)"/>
<circle cx="9.6" cy="39" r="10.9" fill="url(#wg6)"/>
<circle cx="-1.4" cy="62" r="10.9" fill="url(#wg6)"/>
<circle cx="57.6" cy="-9" r="10.9" fill="url(#wg6)"/>
<circle cx="46.6" cy="14" r="10.9" fill="url(#wg6)"/>
<circle cx="35.6" cy="37" r="10.9" fill="url(#wg6)"/>
<circle cx="24.6" cy="60" r="10.9" fill="url(#wg6)"/>
<circle cx="13.6" cy="83" r="10.9" fill="url(#wg6)"/>
<circle cx="72.6" cy="12" r="10.9" fill="url(#wg6)"/>
<circle cx="61.6" cy="35" r="10.9" fill="url(#wg6)"/>
<circle cx="50.6" cy="58" r="10.9" fill="url(#wg6)"/>
<circle cx="39.6" cy="81" r="10.9" fill="url(#wg6)"/>
<circle cx="76.6" cy="56" r="10.9" fill="url(#wg6)"/>
<circle cx="65.6" cy="79" r="10.9" fill="url(#wg6)"/>
</g><g filter="url(#bl05)"><ellipse cx="20" cy="17" rx="4.2" ry="4.4" fill="#c6c6c6"/><ellipse cx="24.5" cy="62" rx="4.4" ry="4.8" fill="#c0c0c0"/><ellipse cx="1.5" cy="64" rx="2.2" ry="4" fill="#c0c0c0"/></g></g>
<g transform="translate(302 147.2)" clip-path="url(#mc7)"><g filter="url(#nG)">
<rect width="71.6" height="74.2" fill="#484848"/>
<path d="M3.1 2.1L34.8 37.2M-5.4 66.9L25.4 101.2M-11.3 -2.5L15.8 27.6M-1.0 -17.3L28.5 15.5M22.1 57.2L35.1 71.6M21.7 48.7L32.1 60.4M-7.3 36.9L24.1 71.7M67.8 -11.3L89.6 13.0M46.4 22.9L72.5 51.9M1.1 -10.3L13.6 3.6M-17.6 29.7L4.5 54.2M34.9 -4.2L49.3 11.8M-7.9 50.7L25.3 87.6M69.2 -7.4L80.6 5.4M63.2 18.0L91.1 49.0M8.9 21.7L31.0 46.3M24.2 40.9L34.6 52.4M47.1 61.6L61.4 77.5M21.8 48.8L41.3 70.5M-3.1 -6.7L18.9 17.8M-23.0 58.1L5.8 90.1M42.2 57.3L66.9 84.8M16.1 34.4L38.0 58.6M72.0 56.9L88.1 74.7M59.3 44.4L87.6 75.8M49.1 11.0L80.1 45.4M56.6 39.9L84.6 71.0M46.6 13.2L73.6 43.2M-14.0 10.5L7.0 33.9M-21.5 9.6L3.5 37.4M31.1 -6.0L63.2 29.7M38.3 7.7L63.8 36.0M32.6 29.6L51.8 50.9M68.4 35.8L94.8 65.2M54.5 76.5L65.1 88.2M38.3 50.7L54.4 68.5M19.5 -13.4L34.1 2.9M16.5 -9.6L32.4 8.1M62.0 29.6L83.9 54.0M61.9 25.0L95.3 62.0M42.5 59.7L54.4 72.8M39.2 55.4L50.3 67.7M64.7 -6.6L85.7 16.8M-6.7 23.2L17.7 50.2M-14.6 68.0L5.3 90.1M29.0 36.0L47.6 56.6M4.6 38.8L27.8 64.6M7.5 48.1L24.5 66.9M-14.2 7.0L-3.2 19.2M-5.2 50.4L13.9 71.7M66.6 54.3L77.8 66.7M74.7 72.4L86.5 85.5M62.3 18.7L83.6 42.2M68.0 0.6L90.3 25.3M65.4 46.4L86.4 69.7M67.6 53.5L91.7 80.4M-9.8 37.3L10.9 60.3M-2.5 -17.5L19.9 7.3M-11.5 17.5L14.2 46.0M19.9 1.5L43.6 27.8" stroke="#707070" stroke-opacity="0.45" stroke-width="0.8" fill="none"/>
<circle cx="33" cy="36" r="33.8" fill="#151515"/>
<circle cx="33.5" cy="35.5" r="28.2" fill="#3c3c3c"/>
<path d="M12 34 q6 -10 16 -6 q4 8 -4 12 q-8 4 -12 -6z M40 50 q10 -4 16 2 q-2 8 -12 6z M28 56 q4 -3 8 0 q-2 5 -8 0z" fill="#303030"/>
<g fill="#404040" stroke="#8c8c8c" stroke-width="0.5"><circle cx="13.1" cy="46.8" r="1.6"/><circle cx="59.4" cy="35.1" r="1.7"/><circle cx="34.2" cy="44.4" r="1.8"/><circle cx="38.0" cy="15.0" r="1.5"/><circle cx="30.5" cy="57.2" r="1.6"/><circle cx="15.8" cy="24.0" r="1.8"/><circle cx="38.4" cy="47.8" r="1.9"/><circle cx="54.9" cy="23.0" r="1.3"/><circle cx="46.3" cy="40.6" r="1.6"/><circle cx="27.4" cy="29.6" r="1.6"/><circle cx="40.5" cy="38.9" r="1.7"/><circle cx="13.5" cy="28.9" r="1.5"/><circle cx="20.8" cy="54.5" r="1.8"/><circle cx="41.7" cy="39.6" r="1.8"/><circle cx="16.9" cy="19.2" r="1.4"/><circle cx="39.4" cy="20.5" r="1.7"/><circle cx="48.6" cy="34.5" r="1.6"/><circle cx="32.9" cy="10.1" r="1.6"/><circle cx="27.9" cy="41.5" r="1.8"/><circle cx="40.2" cy="39.1" r="1.6"/><circle cx="11.7" cy="37.6" r="1.5"/><circle cx="34.7" cy="28.3" r="1.4"/><circle cx="29.5" cy="29.1" r="1.5"/><circle cx="30.0" cy="13.7" r="1.5"/><circle cx="43.4" cy="47.9" r="1.7"/><circle cx="27.4" cy="42.3" r="1.7"/><circle cx="10.5" cy="24.8" r="1.9"/><circle cx="48.5" cy="26.4" r="1.8"/><circle cx="28.5" cy="49.6" r="1.5"/><circle cx="56.5" cy="25.5" r="1.4"/><circle cx="23.2" cy="47.7" r="1.5"/><circle cx="20.4" cy="45.6" r="1.4"/><circle cx="11.7" cy="26.3" r="1.6"/><circle cx="43.8" cy="18.5" r="1.4"/><circle cx="34.9" cy="10.7" r="1.5"/><circle cx="52.3" cy="38.1" r="1.6"/><circle cx="9.8" cy="24.8" r="1.7"/><circle cx="35.7" cy="29.2" r="1.6"/><circle cx="35.3" cy="28.0" r="1.3"/><circle cx="31.5" cy="10.5" r="1.4"/><circle cx="26.8" cy="28.0" r="1.7"/><circle cx="25.7" cy="24.9" r="1.4"/><circle cx="35.3" cy="16.5" r="1.8"/><circle cx="21.4" cy="45.0" r="1.9"/><circle cx="24.8" cy="19.1" r="1.6"/><circle cx="29.5" cy="13.6" r="1.8"/><circle cx="13.1" cy="48.3" r="1.7"/><circle cx="47.9" cy="16.6" r="1.8"/><circle cx="53.3" cy="18.8" r="1.7"/><circle cx="11.4" cy="32.2" r="1.8"/><circle cx="18.4" cy="43.6" r="1.4"/><circle cx="32.0" cy="9.2" r="1.5"/><circle cx="39.4" cy="45.9" r="1.6"/><circle cx="26.7" cy="60.7" r="1.3"/><circle cx="30.3" cy="43.9" r="1.7"/><circle cx="35.3" cy="24.4" r="1.3"/><circle cx="13.9" cy="40.7" r="1.8"/><circle cx="42.0" cy="37.5" r="1.4"/><circle cx="36.1" cy="48.1" r="1.7"/><circle cx="23.1" cy="28.5" r="1.4"/><circle cx="31.4" cy="46.3" r="1.8"/><circle cx="26.1" cy="53.7" r="1.8"/><circle cx="52.8" cy="19.0" r="1.5"/><circle cx="8.7" cy="27.9" r="1.6"/><circle cx="34.6" cy="41.3" r="1.9"/><circle cx="38.7" cy="19.9" r="1.6"/><circle cx="54.9" cy="34.2" r="1.4"/><circle cx="51.7" cy="36.7" r="1.5"/><circle cx="40.0" cy="14.1" r="1.7"/><circle cx="39.3" cy="44.3" r="1.5"/><circle cx="32.0" cy="60.2" r="1.6"/><circle cx="16.3" cy="15.5" r="1.5"/><circle cx="33.6" cy="34.5" r="1.8"/><circle cx="47.2" cy="15.7" r="1.3"/><circle cx="30.7" cy="57.8" r="1.4"/><circle cx="53.0" cy="29.9" r="1.8"/><circle cx="25.7" cy="57.7" r="1.6"/><circle cx="40.4" cy="31.5" r="1.8"/><circle cx="38.5" cy="54.4" r="1.6"/><circle cx="27.9" cy="49.2" r="1.3"/><circle cx="27.3" cy="52.5" r="1.7"/><circle cx="19.5" cy="52.5" r="1.4"/><circle cx="19.3" cy="46.6" r="1.9"/><circle cx="43.8" cy="16.7" r="1.3"/><circle cx="17.5" cy="51.1" r="1.4"/><circle cx="17.0" cy="28.5" r="1.3"/><circle cx="57.2" cy="34.3" r="1.4"/><circle cx="22.9" cy="26.0" r="1.5"/><circle cx="24.8" cy="49.7" r="1.7"/><circle cx="33.0" cy="47.3" r="1.7"/><circle cx="21.2" cy="58.1" r="1.6"/><circle cx="31.0" cy="20.4" r="1.8"/><circle cx="41.8" cy="40.9" r="1.4"/><circle cx="23.7" cy="15.5" r="1.4"/><circle cx="13.7" cy="49.5" r="1.7"/><circle cx="44.1" cy="42.3" r="1.4"/><circle cx="45.5" cy="47.4" r="1.3"/><circle cx="48.7" cy="27.2" r="1.6"/><circle cx="19.5" cy="17.0" r="1.8"/><circle cx="22.0" cy="45.5" r="1.5"/><circle cx="50.2" cy="37.1" r="1.7"/><circle cx="56.9" cy="32.8" r="1.7"/><circle cx="30.7" cy="33.2" r="1.5"/><circle cx="21.8" cy="53.4" r="1.4"/><circle cx="19.9" cy="48.7" r="1.8"/><circle cx="42.9" cy="17.0" r="1.4"/><circle cx="36.1" cy="10.5" r="1.6"/><circle cx="22.2" cy="50.5" r="1.4"/><circle cx="27.5" cy="9.9" r="1.6"/><circle cx="28.3" cy="11.8" r="1.4"/><circle cx="53.2" cy="28.4" r="1.4"/><circle cx="44.9" cy="42.0" r="1.6"/><circle cx="28.5" cy="21.1" r="1.9"/><circle cx="21.9" cy="49.3" r="1.4"/><circle cx="43.1" cy="33.9" r="1.8"/><circle cx="14.4" cy="30.2" r="1.6"/><circle cx="31.2" cy="60.7" r="1.9"/><circle cx="42.0" cy="16.8" r="1.4"/><circle cx="39.9" cy="22.8" r="1.8"/><circle cx="34.7" cy="55.5" r="1.8"/><circle cx="37.7" cy="37.7" r="1.4"/><circle cx="59.1" cy="33.4" r="1.7"/><circle cx="25.8" cy="55.8" r="1.7"/><circle cx="18.5" cy="49.3" r="1.8"/><circle cx="45.3" cy="36.7" r="1.6"/><circle cx="43.8" cy="48.4" r="1.6"/><circle cx="31.8" cy="55.4" r="1.5"/><circle cx="30.3" cy="31.5" r="1.7"/><circle cx="18.8" cy="24.8" r="1.5"/><circle cx="17.8" cy="20.1" r="1.8"/><circle cx="33.7" cy="17.0" r="1.9"/><circle cx="46.4" cy="14.7" r="1.5"/><circle cx="15.3" cy="43.5" r="1.8"/><circle cx="10.6" cy="45.9" r="1.5"/><circle cx="54.8" cy="43.1" r="1.8"/><circle cx="31.2" cy="15.1" r="1.8"/><circle cx="26.6" cy="54.7" r="1.3"/><circle cx="46.1" cy="48.0" r="1.6"/><circle cx="28.7" cy="39.2" r="1.7"/><circle cx="27.7" cy="51.1" r="1.4"/></g>
<rect x="0" y="69.4" width="17.6" height="1.2" fill="#fff"/>
</g></g>
<g transform="translate(377.3 147.2)" clip-path="url(#mc8)"><g filter="url(#nH)">
<rect width="74.2" height="74.2" fill="#505050"/>
<path d="M-17.6 55.8L10.4 95.8M44.2 59.4L61.2 83.8M54.1 -6.0L77.7 27.7M38.1 67.5L48.7 82.7M54.9 -12.2L74.3 15.5M72.8 -19.6L86.3 -0.3M13.3 13.6L23.1 27.6M66.0 55.0L82.6 78.7M18.8 38.4L28.3 52.0M-14.5 64.1L0.3 85.2M22.8 57.8L51.1 98.1M27.3 -0.9L41.8 19.8M70.6 65.5L83.2 83.4M59.9 10.4L78.0 36.3M-8.1 52.5L20.5 93.3M2.8 40.7L15.3 58.5M67.5 -13.0L78.3 2.4M45.0 0.4L71.7 38.5M66.3 49.1L77.6 65.3M46.8 65.8L64.3 90.9M-9.9 0.5L4.8 21.6M50.8 -0.2L63.1 17.2M-0.1 35.1L24.4 70.1M11.9 33.5L38.3 71.2M38.2 1.1L52.9 22.0M70.2 42.7L84.4 62.9M36.1 -21.8L64.5 18.7M21.9 26.0L41.1 53.5M-12.9 36.3L1.4 56.7M8.5 58.3L18.8 73.1M10.1 51.5L23.6 70.9M10.1 32.8L22.5 50.4M69.9 76.4L79.1 89.7M25.3 49.0L41.6 72.4M71.4 28.4L83.6 45.8M34.5 39.5L50.3 62.1M42.5 50.2L61.5 77.3M26.5 53.7L48.8 85.6M33.0 71.0L45.1 88.3M53.0 -9.3L73.8 20.4M0.1 14.3L24.2 48.7M57.4 55.0L70.8 74.1M26.0 -3.6L46.2 25.3M26.7 -21.4L47.3 8.0M44.3 25.3L70.4 62.6M2.5 -2.1L11.4 10.7M28.0 18.5L45.5 43.4M9.7 58.0L19.8 72.4M65.7 29.7L85.2 57.5M58.8 4.2L70.3 20.7M11.8 -16.7L26.8 4.6M41.6 29.6L55.5 49.4M32.9 -19.6L58.0 16.2M0.3 5.6L12.1 22.4M42.9 50.9L67.3 85.7M-12.2 17.3L3.7 40.0M5.7 74.7L15.1 88.2M21.9 41.4L50.3 82.0M-8.2 16.1L15.4 49.7M-19.5 -6.2L6.9 31.6" stroke="#7a7a7a" stroke-opacity="0.45" stroke-width="0.8" fill="none"/>
<ellipse cx="37.5" cy="36.5" rx="36.8" ry="34" fill="#1c1c1c" filter="url(#bl1)"/>
<ellipse cx="37" cy="36" rx="29" ry="26.5" fill="#4c4c4c" filter="url(#bl1)"/>
<g fill="#4e4e4e" stroke="#909090" stroke-width="0.4"><circle cx="47.5" cy="48.9" r="1.0"/><circle cx="30.5" cy="39.4" r="0.9"/><circle cx="60.1" cy="35.4" r="1.3"/><circle cx="24.7" cy="31.8" r="1.1"/><circle cx="51.6" cy="29.4" r="1.1"/><circle cx="57.6" cy="33.6" r="0.9"/><circle cx="19.5" cy="48.2" r="0.9"/><circle cx="24.8" cy="54.4" r="1.3"/><circle cx="16.0" cy="22.5" r="1.1"/><circle cx="18.0" cy="51.2" r="1.1"/><circle cx="39.4" cy="23.9" r="1.1"/><circle cx="45.0" cy="54.0" r="1.0"/><circle cx="22.6" cy="39.0" r="1.1"/><circle cx="58.8" cy="35.1" r="1.3"/><circle cx="41.6" cy="51.7" r="0.9"/><circle cx="31.3" cy="21.1" r="1.0"/><circle cx="35.7" cy="52.6" r="1.4"/><circle cx="34.0" cy="22.6" r="1.1"/><circle cx="51.6" cy="57.1" r="1.1"/><circle cx="39.2" cy="13.6" r="1.4"/><circle cx="31.3" cy="41.1" r="1.3"/><circle cx="26.4" cy="56.7" r="1.2"/><circle cx="48.9" cy="52.6" r="0.9"/><circle cx="30.4" cy="52.0" r="1.2"/><circle cx="51.6" cy="52.8" r="1.0"/><circle cx="33.7" cy="14.6" r="1.0"/><circle cx="33.1" cy="19.6" r="1.1"/><circle cx="45.4" cy="26.6" r="1.0"/><circle cx="30.1" cy="46.2" r="0.9"/><circle cx="57.8" cy="39.2" r="1.2"/><circle cx="46.4" cy="11.6" r="1.0"/><circle cx="24.8" cy="13.7" r="1.0"/><circle cx="28.9" cy="15.9" r="1.4"/><circle cx="45.7" cy="26.6" r="1.2"/><circle cx="51.6" cy="45.3" r="1.1"/><circle cx="28.2" cy="52.5" r="1.0"/><circle cx="46.1" cy="50.1" r="1.1"/><circle cx="47.8" cy="54.7" r="1.0"/><circle cx="27.9" cy="40.8" r="1.2"/><circle cx="31.1" cy="17.2" r="1.3"/><circle cx="32.6" cy="41.0" r="1.1"/><circle cx="21.4" cy="26.7" r="1.1"/><circle cx="22.7" cy="56.5" r="1.2"/><circle cx="35.4" cy="57.6" r="1.0"/><circle cx="16.6" cy="40.0" r="1.4"/><circle cx="23.9" cy="51.3" r="1.4"/><circle cx="39.8" cy="15.2" r="1.2"/><circle cx="22.5" cy="45.1" r="1.0"/><circle cx="48.9" cy="14.2" r="1.1"/><circle cx="41.4" cy="33.2" r="1.0"/><circle cx="22.3" cy="35.3" r="1.1"/><circle cx="47.2" cy="34.5" r="1.0"/><circle cx="39.9" cy="57.7" r="1.0"/><circle cx="56.5" cy="36.1" r="1.1"/><circle cx="38.2" cy="54.6" r="1.2"/><circle cx="17.0" cy="29.8" r="1.2"/><circle cx="49.7" cy="13.2" r="1.1"/><circle cx="22.8" cy="56.5" r="1.1"/><circle cx="32.3" cy="14.4" r="1.2"/><circle cx="60.4" cy="30.6" r="1.0"/><circle cx="23.6" cy="23.2" r="1.2"/><circle cx="27.3" cy="46.4" r="1.3"/><circle cx="24.4" cy="33.3" r="1.0"/><circle cx="31.9" cy="46.0" r="1.2"/><circle cx="34.5" cy="27.5" r="1.1"/><circle cx="39.5" cy="17.8" r="1.0"/><circle cx="53.5" cy="17.6" r="0.9"/><circle cx="36.5" cy="54.9" r="1.3"/><circle cx="19.5" cy="50.0" r="1.0"/><circle cx="33.8" cy="21.2" r="1.1"/><circle cx="38.4" cy="11.7" r="1.3"/><circle cx="21.3" cy="28.9" r="1.3"/><circle cx="19.7" cy="19.1" r="1.3"/><circle cx="48.5" cy="47.5" r="1.2"/><circle cx="57.2" cy="37.7" r="1.4"/><circle cx="46.5" cy="34.2" r="1.2"/><circle cx="18.6" cy="46.2" r="1.1"/><circle cx="61.1" cy="25.3" r="0.9"/><circle cx="34.9" cy="27.1" r="0.9"/><circle cx="31.9" cy="58.1" r="1.4"/><circle cx="48.1" cy="46.4" r="0.9"/><circle cx="19.2" cy="31.1" r="1.1"/><circle cx="28.4" cy="58.1" r="1.3"/><circle cx="33.5" cy="52.2" r="1.2"/><circle cx="39.5" cy="9.9" r="1.1"/><circle cx="30.3" cy="17.6" r="1.3"/><circle cx="57.0" cy="52.0" r="1.0"/><circle cx="27.8" cy="36.7" r="1.1"/><circle cx="56.8" cy="38.4" r="1.0"/><circle cx="27.2" cy="26.2" r="1.0"/><circle cx="21.1" cy="37.8" r="1.0"/><circle cx="48.5" cy="26.8" r="0.9"/><circle cx="44.6" cy="52.8" r="1.4"/><circle cx="44.3" cy="59.6" r="1.1"/><circle cx="16.5" cy="48.2" r="1.1"/><circle cx="25.4" cy="18.6" r="1.0"/><circle cx="59.8" cy="26.8" r="1.4"/><circle cx="14.3" cy="44.5" r="1.3"/><circle cx="37.3" cy="21.2" r="1.2"/><circle cx="39.7" cy="35.3" r="1.2"/><circle cx="45.7" cy="14.1" r="1.3"/><circle cx="17.9" cy="50.0" r="1.3"/><circle cx="39.9" cy="9.8" r="1.0"/><circle cx="53.0" cy="30.8" r="1.3"/><circle cx="36.9" cy="61.3" r="0.9"/><circle cx="25.8" cy="30.1" r="1.1"/><circle cx="22.4" cy="51.7" r="1.3"/><circle cx="23.0" cy="51.9" r="1.1"/><circle cx="32.4" cy="60.8" r="1.1"/><circle cx="36.4" cy="23.8" r="1.3"/><circle cx="16.1" cy="29.7" r="1.0"/><circle cx="26.7" cy="50.0" r="0.9"/><circle cx="20.2" cy="35.7" r="1.1"/><circle cx="11.8" cy="30.0" r="1.0"/><circle cx="48.0" cy="25.8" r="1.3"/><circle cx="57.5" cy="52.6" r="1.1"/><circle cx="49.1" cy="33.1" r="1.1"/><circle cx="34.0" cy="25.2" r="1.0"/><circle cx="25.6" cy="12.9" r="1.1"/><circle cx="43.4" cy="50.5" r="1.4"/><circle cx="49.6" cy="52.9" r="1.1"/><circle cx="29.4" cy="26.4" r="1.2"/><circle cx="24.0" cy="22.4" r="1.2"/><circle cx="55.3" cy="51.9" r="1.2"/><circle cx="16.3" cy="42.3" r="1.1"/><circle cx="27.5" cy="44.4" r="1.2"/><circle cx="19.9" cy="27.6" r="0.9"/><circle cx="24.7" cy="23.3" r="1.2"/><circle cx="15.8" cy="21.7" r="1.0"/><circle cx="11.1" cy="41.2" r="1.3"/><circle cx="28.2" cy="57.0" r="1.4"/><circle cx="16.8" cy="50.2" r="1.0"/><circle cx="55.5" cy="34.8" r="1.0"/><circle cx="48.5" cy="18.0" r="1.4"/><circle cx="48.3" cy="15.2" r="1.2"/><circle cx="43.7" cy="35.7" r="1.3"/><circle cx="33.8" cy="23.1" r="1.3"/><circle cx="18.4" cy="41.5" r="1.3"/><circle cx="32.5" cy="30.4" r="1.2"/><circle cx="41.3" cy="17.9" r="1.0"/><circle cx="44.6" cy="12.7" r="1.3"/><circle cx="13.0" cy="28.3" r="1.3"/><circle cx="46.3" cy="49.1" r="1.0"/><circle cx="53.0" cy="17.8" r="1.0"/><circle cx="43.9" cy="51.0" r="1.3"/><circle cx="18.3" cy="19.1" r="0.9"/><circle cx="49.0" cy="35.1" r="1.2"/><circle cx="44.1" cy="56.5" r="1.1"/><circle cx="28.6" cy="55.3" r="1.0"/><circle cx="19.4" cy="22.7" r="1.0"/><circle cx="52.3" cy="51.9" r="1.1"/><circle cx="56.3" cy="28.5" r="1.1"/><circle cx="45.8" cy="60.9" r="1.2"/><circle cx="35.6" cy="20.2" r="1.1"/><circle cx="28.5" cy="41.5" r="1.2"/><circle cx="15.6" cy="46.9" r="1.1"/><circle cx="18.8" cy="41.1" r="1.4"/><circle cx="24.3" cy="54.3" r="1.0"/><circle cx="24.6" cy="29.2" r="1.3"/><circle cx="31.4" cy="59.9" r="1.2"/><circle cx="12.4" cy="43.2" r="1.1"/><circle cx="36.1" cy="15.5" r="1.1"/><circle cx="33.6" cy="53.3" r="1.4"/><circle cx="31.1" cy="57.3" r="1.2"/><circle cx="37.6" cy="53.0" r="1.0"/><circle cx="47.5" cy="27.9" r="1.1"/><circle cx="23.9" cy="56.1" r="1.3"/><circle cx="20.5" cy="25.4" r="0.9"/><circle cx="43.3" cy="31.2" r="1.1"/><circle cx="21.1" cy="52.0" r="1.2"/><circle cx="23.0" cy="56.9" r="1.4"/><circle cx="57.9" cy="39.1" r="1.1"/><circle cx="25.3" cy="49.8" r="1.1"/><circle cx="27.2" cy="17.9" r="1.4"/><circle cx="63.1" cy="32.1" r="1.1"/><circle cx="47.1" cy="17.2" r="1.3"/><circle cx="43.8" cy="35.9" r="1.1"/><circle cx="19.5" cy="48.5" r="1.0"/><circle cx="49.1" cy="35.2" r="1.1"/><circle cx="47.4" cy="49.0" r="1.3"/><circle cx="24.6" cy="19.2" r="1.3"/><circle cx="36.5" cy="59.9" r="1.3"/><circle cx="38.5" cy="27.0" r="1.1"/><circle cx="61.4" cy="38.4" r="1.4"/><circle cx="40.3" cy="33.5" r="1.1"/><circle cx="18.1" cy="31.7" r="1.0"/><circle cx="40.6" cy="21.9" r="1.2"/><circle cx="51.2" cy="50.1" r="1.0"/><circle cx="53.1" cy="46.0" r="1.0"/><circle cx="39.3" cy="23.0" r="1.1"/><circle cx="18.1" cy="41.9" r="1.1"/><circle cx="42.1" cy="29.1" r="1.3"/><circle cx="51.7" cy="57.6" r="1.2"/><circle cx="19.7" cy="47.5" r="1.3"/><circle cx="53.6" cy="32.2" r="0.9"/><circle cx="50.6" cy="55.7" r="1.3"/><circle cx="34.6" cy="25.8" r="1.2"/><circle cx="28.8" cy="60.7" r="1.2"/><circle cx="40.3" cy="31.3" r="1.1"/><circle cx="56.4" cy="52.4" r="1.1"/><circle cx="15.6" cy="37.5" r="1.3"/><circle cx="55.9" cy="29.4" r="1.2"/><circle cx="50.7" cy="26.5" r="1.0"/><circle cx="36.1" cy="22.6" r="1.1"/><circle cx="20.5" cy="43.9" r="1.1"/><circle cx="20.9" cy="43.5" r="0.9"/><circle cx="40.4" cy="30.3" r="1.2"/><circle cx="21.0" cy="31.1" r="1.0"/><circle cx="50.1" cy="45.4" r="1.1"/><circle cx="24.3" cy="37.3" r="1.3"/><circle cx="34.5" cy="36.2" r="1.1"/><circle cx="39.2" cy="35.5" r="1.2"/><circle cx="52.5" cy="32.1" r="1.2"/><circle cx="27.1" cy="46.7" r="1.2"/><circle cx="24.4" cy="28.1" r="1.1"/><circle cx="14.1" cy="33.7" r="0.9"/><circle cx="34.0" cy="59.4" r="1.1"/><circle cx="47.7" cy="23.1" r="1.0"/><circle cx="33.7" cy="29.0" r="1.4"/><circle cx="44.4" cy="22.8" r="1.1"/><circle cx="46.9" cy="14.7" r="1.2"/><circle cx="58.7" cy="44.1" r="0.9"/><circle cx="23.1" cy="22.1" r="1.4"/><circle cx="34.4" cy="33.0" r="1.4"/><circle cx="37.3" cy="15.8" r="0.9"/><circle cx="35.6" cy="18.9" r="1.2"/><circle cx="62.2" cy="33.4" r="0.9"/><circle cx="40.4" cy="18.8" r="1.3"/><circle cx="24.2" cy="48.3" r="1.1"/><circle cx="48.1" cy="46.1" r="1.3"/><circle cx="47.9" cy="17.3" r="1.2"/><circle cx="27.5" cy="60.1" r="1.2"/><circle cx="47.8" cy="30.3" r="1.1"/><circle cx="13.4" cy="30.5" r="1.0"/><circle cx="49.8" cy="23.0" r="0.9"/><circle cx="22.2" cy="42.8" r="1.2"/><circle cx="53.8" cy="27.9" r="1.2"/><circle cx="19.2" cy="51.1" r="1.0"/><circle cx="36.5" cy="25.2" r="1.2"/><circle cx="41.6" cy="50.9" r="1.0"/></g>
<path d="M35 38 q10 -3 20 0 q2 5 -6 6 q-4 0 -6 6 q-6 -2 -4 -7 q-4 -1 -4 -5z" fill="#3e3e3e"/>
</g></g>
<g transform="translate(455 147.2)" clip-path="url(#mc9)"><g filter="url(#nI)">
<rect width="75" height="74.2" fill="#696969"/>
<path d="M20.3 29.4L26.1 62.1M23.1 22.2L30.8 66.0M21.3 29.3L26.8 60.7M79.7 1.5L86.6 40.3M8.7 -5.4L15.7 34.6M43.1 5.7L46.1 22.7M64.9 5.8L71.8 45.3M28.1 31.2L34.1 65.2M80.0 60.4L85.4 90.9M32.7 -8.6L39.8 32.2M-4.2 -3.1L3.6 40.9M-9.7 38.6L-3.6 73.0M40.6 11.4L44.2 31.4M76.6 40.8L84.1 83.3M-2.7 52.7L1.2 75.0M5.8 22.5L12.1 58.3M-1.6 44.6L4.5 79.5M72.0 57.8L78.8 96.3M21.1 59.8L28.1 99.4M14.1 50.9L21.1 90.7M13.8 5.7L16.5 21.2M38.8 1.4L43.2 26.3M11.2 -13.3L16.8 18.1M13.8 4.7L18.0 29.0M36.6 62.2L40.2 82.5M68.5 52.6L74.8 88.4M38.7 42.5L44.6 75.7M49.0 55.8L56.4 97.3M10.5 -28.4L18.8 18.6M22.4 52.8L26.5 75.6" stroke="#858585" stroke-opacity="0.4" stroke-width="0.8" fill="none"/>
<circle cx="39" cy="36.5" r="36.5" fill="url(#rg3)" filter="url(#bl1)"/>
<circle cx="39" cy="36.5" r="26" fill="#fff" filter="url(#sp4)" opacity="0.45"/>
<ellipse cx="30" cy="40" rx="8" ry="7" fill="#747474" opacity="0.8" filter="url(#bl1)"/>
</g></g>
<g transform="translate(534.4 147.2)" clip-path="url(#mc10)"><g filter="url(#nJ)">
<rect width="74.6" height="74.2" fill="#494949"/>
<path d="M22.7 7.4L43.0 42.4M70.6 22.6L88.0 52.7M10.9 -9.0L35.1 32.8M-9.1 62.1L9.9 95.0M-7.9 66.9L1.4 83.0M31.1 -20.2L55.9 22.8M15.0 64.7L23.5 79.6M49.0 -10.6L57.0 3.3M34.3 65.7L53.8 99.5M62.6 49.5L79.2 78.3M-8.1 30.4L2.7 48.9M31.7 9.3L47.9 37.4M1.3 43.6L16.1 69.2M28.0 -16.5L44.0 11.3M34.1 66.6L51.4 96.6M-3.9 6.7L9.4 29.9M44.1 57.2L68.7 99.7M68.6 57.7L91.1 96.7M70.4 -22.0L86.5 5.8M36.8 38.8L55.0 70.4M43.5 70.1L52.5 85.7M35.1 73.4L43.1 87.4M-11.6 50.9L12.7 92.9M-18.7 -26.1L3.3 12.1M46.3 23.7L64.0 54.2M57.9 59.6L65.4 72.6M-15.9 43.5L8.7 86.1M62.2 16.8L75.5 40.0M12.3 -26.8L33.3 9.6M6.5 30.7L23.2 59.6M14.0 40.2L29.5 67.0M6.9 63.9L17.5 82.2M-3.8 0.1L12.1 27.6M58.3 11.3L70.0 31.5M43.6 0.1L60.2 28.9M8.8 63.3L19.5 81.9M5.3 6.9L18.6 29.9M48.1 35.0L69.4 72.0M30.7 -20.7L51.5 15.5M5.7 -2.3L20.5 23.3" stroke="#6c6c6c" stroke-opacity="0.4" stroke-width="0.8" fill="none"/>
<circle cx="37.6" cy="38" r="37" fill="url(#rg4)" filter="url(#bl1)"/>
<circle cx="37.6" cy="36" r="24" fill="#fff" filter="url(#sp4)" opacity="0.38"/>
</g><g filter="url(#bl05)"><ellipse cx="37" cy="46.6" rx="10" ry="7.4" fill="#808080" stroke="#9a9a9a" stroke-width="0.5"/></g></g>
<g transform="translate(613 147.2)" clip-path="url(#mc11)"><g filter="url(#nK)">
<rect width="74" height="74.2" fill="#6b6b6b"/>
<circle cx="38" cy="37.5" r="37" fill="url(#rg5)" filter="url(#bl1)"/>
<circle cx="39" cy="33" r="23" fill="url(#rg5b)"/>
<circle cx="39" cy="33" r="18" fill="#fff" filter="url(#sp4)" opacity="0.38"/>
</g><g filter="url(#bl05)"><path d="M31 25 q7 0 8.5 8 q1 8 -4 12 q-6 -3 -10 -7 q-3 -11 5.500 -13z" fill="#8e8e8e" stroke="#a4a4a4" stroke-width="0.5"/></g></g>
<g transform="translate(691 147.2)" clip-path="url(#mc12)"><g filter="url(#nL)">
<rect width="75.5" height="74.2" fill="#646464"/>
<circle cx="37" cy="36.5" r="36.5" fill="url(#rg6)" filter="url(#bl1)"/>
<circle cx="37" cy="34" r="22" fill="#fff" filter="url(#sp4)" opacity="0.38"/>
<ellipse cx="35.5" cy="52.5" rx="8.6" ry="7" fill="none" stroke="#a8a8a8" stroke-width="1.2" transform="rotate(-15 35.5 52.5)"/>
</g><g filter="url(#bl05)"><path d="M29.500 51 q2 -5 8 -4.500 q5 1 4.500 5.500 q-2 5 -8 5 q-5 -1 -4.500 -6z" fill="#2c2c2c"/></g></g>
<g filter="url(#chipbl)"><path d="M24 164 L130 245 L201 189 L199 186 L130 240 Z" fill="#c8c8c8" opacity="0.7"/><path d="M96 101.500 L26 143.500 L20 157 L20.500 162 L130 241 L199.500 186 L199.500 181 L194.500 172 Z" fill="url(#chipbase)" stroke="#bdbdbd" stroke-width="0.8"/><path d="M20.500 158 L130 237 L199 182" fill="none" stroke="#fafafa" stroke-width="1.6"/><path d="M20.500 161.500 L130 240.500 L199.500 185.500" fill="none" stroke="#b4b4b4" stroke-width="0.9"/><path d="M26 144 L128 219.500 L128 233 L26 156 Z" fill="url(#chipwallL)" stroke="#c4c0c4" stroke-width="0.5"/><path d="M128 219.500 L194 172 L194.500 183 L128 233 Z" fill="url(#chipwallR)" stroke="#b8b4b8" stroke-width="0.5"/><path d="M96 102 L26 144 L128 219.500 L194 172 Z" fill="#e2dee2" stroke="#f4f4f4" stroke-width="1"/><path d="M95.500 105.500 L32 144 L127.500 214.500 L188.500 171.500 Z" fill="#cfc8cf" stroke="#b8b1b8" stroke-width="0.6"/><path d="M40 139 L33 144 L44 152 L51 147 Z M52 132 L45 136.500 L56 144.500 L63 140 Z" fill="#e4e2e4" stroke="#aeabb0" stroke-width="0.6"/><path d="M91.0 110.5 L176.0 169.0 L177.0 174.5 L129.5 214.0 L120.5 215.0 L44.0 158.0 L45.0 152.0 Z" fill="#5b2a58"/><path d="M51.9 153.6 L91.2 117.3" stroke="#7f2c7a" stroke-width="6.200" stroke-linecap="round" fill="none"/><path d="M51.9 153.6 L91.2 117.3" stroke="#b25aab" stroke-width="3" stroke-dasharray="1 2.200" fill="none" opacity="0.6"/><path d="M56.5 156.7 L92.9 122.1" stroke="#43243f" stroke-width="3.400" stroke-linecap="round" fill="none"/><path d="M55.2 155.3 L91.6 120.7 M57.8 158.1 L94.2 123.5" stroke="#a58ea6" stroke-width="0.550" fill="none" opacity="0.9"/><path d="M66.4 164.2 L106.2 128.1" stroke="#7f2c7a" stroke-width="6.200" stroke-linecap="round" fill="none"/><path d="M66.4 164.2 L106.2 128.1" stroke="#b25aab" stroke-width="3" stroke-dasharray="1 2.200" fill="none" opacity="0.6"/><path d="M71.0 167.3 L107.9 132.9" stroke="#43243f" stroke-width="3.400" stroke-linecap="round" fill="none"/><path d="M69.7 165.9 L106.6 131.5 M72.3 168.7 L109.2 134.3" stroke="#a58ea6" stroke-width="0.550" fill="none" opacity="0.9"/><path d="M80.9 174.8 L121.2 138.9" stroke="#7f2c7a" stroke-width="6.200" stroke-linecap="round" fill="none"/><path d="M80.9 174.8 L121.2 138.9" stroke="#b25aab" stroke-width="3" stroke-dasharray="1 2.200" fill="none" opacity="0.6"/><path d="M85.5 177.9 L122.9 143.7" stroke="#43243f" stroke-width="3.400" stroke-linecap="round" fill="none"/><path d="M84.2 176.5 L121.6 142.3 M86.8 179.3 L124.2 145.1" stroke="#a58ea6" stroke-width="0.550" fill="none" opacity="0.9"/><path d="M95.4 185.4 L136.2 149.7" stroke="#7f2c7a" stroke-width="6.200" stroke-linecap="round" fill="none"/><path d="M95.4 185.4 L136.2 149.7" stroke="#b25aab" stroke-width="3" stroke-dasharray="1 2.200" fill="none" opacity="0.6"/><path d="M100.0 188.5 L137.9 154.5" stroke="#43243f" stroke-width="3.400" stroke-linecap="round" fill="none"/><path d="M98.7 187.1 L136.6 153.1 M101.3 189.9 L139.2 155.9" stroke="#a58ea6" stroke-width="0.550" fill="none" opacity="0.9"/><path d="M109.9 196.0 L151.2 160.5" stroke="#7f2c7a" stroke-width="6.200" stroke-linecap="round" fill="none"/><path d="M109.9 196.0 L151.2 160.5" stroke="#b25aab" stroke-width="3" stroke-dasharray="1 2.200" fill="none" opacity="0.6"/><path d="M114.5 199.1 L152.9 165.3" stroke="#43243f" stroke-width="3.400" stroke-linecap="round" fill="none"/><path d="M113.2 197.7 L151.6 163.9 M115.8 200.5 L154.2 166.7" stroke="#a58ea6" stroke-width="0.550" fill="none" opacity="0.9"/><path d="M124.4 206.6 L166.2 171.3" stroke="#7f2c7a" stroke-width="6.200" stroke-linecap="round" fill="none"/><path d="M124.4 206.6 L166.2 171.3" stroke="#b25aab" stroke-width="3" stroke-dasharray="1 2.200" fill="none" opacity="0.6"/><path d="M129.0 209.7 L167.9 176.1" stroke="#43243f" stroke-width="3.400" stroke-linecap="round" fill="none"/><path d="M127.7 208.3 L166.6 174.7 M130.3 211.1 L169.2 177.5" stroke="#a58ea6" stroke-width="0.550" fill="none" opacity="0.9"/><path d="M56.5 164.0 l2.500 1.800 v6 l-2.500 -1.800 Z" fill="#8d868d" opacity="0.8"/><path d="M71.0 174.6 l2.500 1.800 v6 l-2.500 -1.800 Z" fill="#8d868d" opacity="0.8"/><path d="M85.5 185.2 l2.500 1.800 v6 l-2.500 -1.800 Z" fill="#8d868d" opacity="0.8"/><path d="M100.0 195.8 l2.500 1.800 v6 l-2.500 -1.800 Z" fill="#8d868d" opacity="0.8"/><path d="M114.5 206.4 l2.500 1.800 v6 l-2.500 -1.800 Z" fill="#8d868d" opacity="0.8"/><path d="M129.0 217.0 l2.500 1.800 v6 l-2.500 -1.800 Z" fill="#8d868d" opacity="0.8"/><path d="M43.5 158.0 v12 a6.500 3.800 0 0 0 13 0 v-12 Z" fill="#5e3355"/><path d="M43.5 158.0 v9 a6.500 3.800 0 0 0 13 0 v-9 Z" fill="#cf55b4"/><path d="M43.2 157.5 v5 a6.800 4 0 0 0 13.600 0 v-5 Z" fill="#ededed" stroke="#cfcfcf" stroke-width="0.4"/><path d="M58.0 168.6 v12 a6.500 3.800 0 0 0 13 0 v-12 Z" fill="#5e3355"/><path d="M58.0 168.6 v9 a6.500 3.800 0 0 0 13 0 v-9 Z" fill="#cf55b4"/><path d="M57.7 168.1 v5 a6.800 4 0 0 0 13.600 0 v-5 Z" fill="#ededed" stroke="#cfcfcf" stroke-width="0.4"/><path d="M72.5 179.2 v12 a6.500 3.800 0 0 0 13 0 v-12 Z" fill="#5e3355"/><path d="M72.5 179.2 v9 a6.500 3.800 0 0 0 13 0 v-9 Z" fill="#cf55b4"/><path d="M72.2 178.7 v5 a6.800 4 0 0 0 13.600 0 v-5 Z" fill="#ededed" stroke="#cfcfcf" stroke-width="0.4"/><path d="M87.0 189.8 v12 a6.500 3.800 0 0 0 13 0 v-12 Z" fill="#5e3355"/><path d="M87.0 189.8 v9 a6.500 3.800 0 0 0 13 0 v-9 Z" fill="#cf55b4"/><path d="M86.7 189.3 v5 a6.800 4 0 0 0 13.600 0 v-5 Z" fill="#ededed" stroke="#cfcfcf" stroke-width="0.4"/><path d="M101.5 200.4 v12 a6.500 3.800 0 0 0 13 0 v-12 Z" fill="#5e3355"/><path d="M101.5 200.4 v9 a6.500 3.800 0 0 0 13 0 v-9 Z" fill="#cf55b4"/><path d="M101.2 199.9 v5 a6.800 4 0 0 0 13.600 0 v-5 Z" fill="#ededed" stroke="#cfcfcf" stroke-width="0.4"/><path d="M116.0 211.0 v12 a6.500 3.800 0 0 0 13 0 v-12 Z" fill="#5e3355"/><path d="M116.0 211.0 v9 a6.500 3.800 0 0 0 13 0 v-9 Z" fill="#cf55b4"/><path d="M115.7 210.5 v5 a6.800 4 0 0 0 13.600 0 v-5 Z" fill="#ededed" stroke="#cfcfcf" stroke-width="0.4"/><g transform="rotate(-8 95.0 115.5)"><ellipse cx="95.0" cy="115.5" rx="8" ry="5.600" fill="#e6d3e4" opacity="0.95"/><ellipse cx="95.0" cy="115.8" rx="6.300" ry="4.300" fill="#e040c4"/><ellipse cx="95.6" cy="116.5" rx="4.200" ry="2.600" fill="#8f2162"/></g><g transform="rotate(6 50.0 157.0)"><ellipse cx="50.0" cy="157.0" rx="7" ry="4.400" fill="#f1e4f0" stroke="#d8cfd8" stroke-width="0.5"/><ellipse cx="50.0" cy="157.2" rx="5.600" ry="3.400" fill="#e047bd"/><ellipse cx="50.3" cy="157.6" rx="3.800" ry="2.100" fill="#b7307f"/></g><g transform="rotate(-8 110.0 126.3)"><ellipse cx="110.0" cy="126.3" rx="8" ry="5.600" fill="#e6d3e4" opacity="0.95"/><ellipse cx="110.0" cy="126.6" rx="6.300" ry="4.300" fill="#e040c4"/><ellipse cx="110.6" cy="127.3" rx="4.200" ry="2.600" fill="#8f2162"/></g><g transform="rotate(6 64.5 167.6)"><ellipse cx="64.5" cy="167.6" rx="7" ry="4.400" fill="#f1e4f0" stroke="#d8cfd8" stroke-width="0.5"/><ellipse cx="64.5" cy="167.79999999999998" rx="5.600" ry="3.400" fill="#e047bd"/><ellipse cx="64.8" cy="168.2" rx="3.800" ry="2.100" fill="#b7307f"/></g><g transform="rotate(-8 125.0 137.1)"><ellipse cx="125.0" cy="137.1" rx="8" ry="5.600" fill="#e6d3e4" opacity="0.95"/><ellipse cx="125.0" cy="137.4" rx="6.300" ry="4.300" fill="#e040c4"/><ellipse cx="125.6" cy="138.1" rx="4.200" ry="2.600" fill="#8f2162"/></g><g transform="rotate(6 79.0 178.2)"><ellipse cx="79.0" cy="178.2" rx="7" ry="4.400" fill="#f1e4f0" stroke="#d8cfd8" stroke-width="0.5"/><ellipse cx="79.0" cy="178.39999999999998" rx="5.600" ry="3.400" fill="#e047bd"/><ellipse cx="79.3" cy="178.79999999999998" rx="3.800" ry="2.100" fill="#b7307f"/></g><g transform="rotate(-8 140.0 147.9)"><ellipse cx="140.0" cy="147.9" rx="8" ry="5.600" fill="#e6d3e4" opacity="0.95"/><ellipse cx="140.0" cy="148.20000000000002" rx="6.300" ry="4.300" fill="#e040c4"/><ellipse cx="140.6" cy="148.9" rx="4.200" ry="2.600" fill="#8f2162"/></g><g transform="rotate(6 93.5 188.8)"><ellipse cx="93.5" cy="188.8" rx="7" ry="4.400" fill="#f1e4f0" stroke="#d8cfd8" stroke-width="0.5"/><ellipse cx="93.5" cy="189.0" rx="5.600" ry="3.400" fill="#e047bd"/><ellipse cx="93.8" cy="189.4" rx="3.800" ry="2.100" fill="#b7307f"/></g><g transform="rotate(-8 155.0 158.7)"><ellipse cx="155.0" cy="158.7" rx="8" ry="5.600" fill="#e6d3e4" opacity="0.95"/><ellipse cx="155.0" cy="159.0" rx="6.300" ry="4.300" fill="#e040c4"/><ellipse cx="155.6" cy="159.7" rx="4.200" ry="2.600" fill="#8f2162"/></g><g transform="rotate(6 108.0 199.4)"><ellipse cx="108.0" cy="199.4" rx="7" ry="4.400" fill="#f1e4f0" stroke="#d8cfd8" stroke-width="0.5"/><ellipse cx="108.0" cy="199.6" rx="5.600" ry="3.400" fill="#e047bd"/><ellipse cx="108.3" cy="200.0" rx="3.800" ry="2.100" fill="#b7307f"/></g><g transform="rotate(-8 170.0 169.5)"><ellipse cx="170.0" cy="169.5" rx="8" ry="5.600" fill="#e6d3e4" opacity="0.95"/><ellipse cx="170.0" cy="169.8" rx="6.300" ry="4.300" fill="#e040c4"/><ellipse cx="170.6" cy="170.5" rx="4.200" ry="2.600" fill="#8f2162"/></g><g transform="rotate(6 122.5 210.0)"><ellipse cx="122.5" cy="210.0" rx="7" ry="4.400" fill="#f1e4f0" stroke="#d8cfd8" stroke-width="0.5"/><ellipse cx="122.5" cy="210.2" rx="5.600" ry="3.400" fill="#e047bd"/><ellipse cx="122.8" cy="210.6" rx="3.800" ry="2.100" fill="#b7307f"/></g><path d="M134.0 215.5 v11" stroke="#e9e6e9" stroke-width="1.600" opacity="0.8"/><path d="M137.0 213.5 v10" stroke="#d987c6" stroke-width="2.200" opacity="0.45"/><path d="M143.2 208.9 v11" stroke="#e9e6e9" stroke-width="1.600" opacity="0.8"/><path d="M146.2 206.9 v10" stroke="#d987c6" stroke-width="2.200" opacity="0.45"/><path d="M152.4 202.3 v11" stroke="#e9e6e9" stroke-width="1.600" opacity="0.8"/><path d="M155.4 200.3 v10" stroke="#d987c6" stroke-width="2.200" opacity="0.45"/><path d="M161.6 195.7 v11" stroke="#e9e6e9" stroke-width="1.600" opacity="0.8"/><path d="M164.6 193.7 v10" stroke="#d987c6" stroke-width="2.200" opacity="0.45"/><path d="M170.8 189.1 v11" stroke="#e9e6e9" stroke-width="1.600" opacity="0.8"/><path d="M173.8 187.1 v10" stroke="#d987c6" stroke-width="2.200" opacity="0.45"/><path d="M180.0 182.5 v11" stroke="#e9e6e9" stroke-width="1.600" opacity="0.8"/><path d="M183.0 180.5 v10" stroke="#d987c6" stroke-width="2.200" opacity="0.45"/><path d="M189.2 175.9 v11" stroke="#e9e6e9" stroke-width="1.600" opacity="0.8"/><path d="M192.2 173.9 v10" stroke="#d987c6" stroke-width="2.200" opacity="0.45"/></g>
<g clip-path="url(#dgR)" stroke="#d6d6d6" stroke-width="3.200" fill="none" stroke-dasharray="13 9.4"><path d="M292.500 8.500 L127.200 207.800" stroke-dashoffset="3.400"/><path d="M126.200 207.700 L281.500 231.900"/></g>
<g clip-path="url(#dgL)" stroke="#fff" stroke-width="3.700" fill="none" stroke-dasharray="13 9.4"><path d="M292.500 8.500 L127.200 207.800" stroke-dashoffset="3.400"/><path d="M126.200 207.700 L281.500 231.900"/></g>
<g clip-path="url(#flclip)"><rect x="559.3" y="409.2" width="220.4" height="220.4" fill="#000"/><ellipse cx="668.0" cy="519.4" rx="78.5" ry="80.5" fill="url(#tisbg)" filter="url(#flb2)"/><ellipse cx="668.0" cy="519.4" rx="77.5" ry="79.5" fill="#fff" filter="url(#tistex)"/><ellipse cx="668.0" cy="519.4" rx="77.5" ry="79.5" fill="#fff" filter="url(#tistex3)"/><g clip-path="url(#tisclip)"><g filter="url(#flb3)"><ellipse cx="607.2" cy="531.3" rx="6.4" ry="7.6" fill="#c85a0c" opacity="0.39" transform="rotate(136 607.2 531.3)"/><ellipse cx="611.4" cy="507.1" rx="7.5" ry="6.6" fill="#d84a10" opacity="0.25" transform="rotate(111 611.4 507.1)"/><ellipse cx="627.9" cy="507.8" rx="10.1" ry="9.0" fill="#d02810" opacity="0.39" transform="rotate(37 627.9 507.8)"/><ellipse cx="608.1" cy="531.7" rx="8.7" ry="8.3" fill="#a8780a" opacity="0.39" transform="rotate(176 608.1 531.7)"/><ellipse cx="633.8" cy="482.7" rx="10.3" ry="6.0" fill="#a8780a" opacity="0.25" transform="rotate(62 633.8 482.7)"/><ellipse cx="631.5" cy="538.0" rx="11.3" ry="6.0" fill="#b89010" opacity="0.39" transform="rotate(37 631.5 538.0)"/><ellipse cx="673.3" cy="446.3" rx="10.9" ry="5.6" fill="#c85a0c" opacity="0.40" transform="rotate(173 673.3 446.3)"/><ellipse cx="646.7" cy="531.2" rx="6.7" ry="6.3" fill="#b89010" opacity="0.29" transform="rotate(24 646.7 531.2)"/><ellipse cx="620.6" cy="486.1" rx="7.7" ry="5.7" fill="#c85a0c" opacity="0.45" transform="rotate(169 620.6 486.1)"/><ellipse cx="638.8" cy="526.1" rx="7.3" ry="5.0" fill="#a8780a" opacity="0.22" transform="rotate(124 638.8 526.1)"/><ellipse cx="670.6" cy="515.3" rx="8.1" ry="5.2" fill="#a8780a" opacity="0.25" transform="rotate(41 670.6 515.3)"/><ellipse cx="655.1" cy="580.0" rx="8.4" ry="8.4" fill="#c85a0c" opacity="0.30" transform="rotate(119 655.1 580.0)"/><ellipse cx="689.9" cy="485.3" rx="6.0" ry="7.3" fill="#c85a0c" opacity="0.23" transform="rotate(45 689.9 485.3)"/><ellipse cx="674.3" cy="551.6" rx="6.2" ry="8.3" fill="#b01a14" opacity="0.39" transform="rotate(58 674.3 551.6)"/><ellipse cx="680.0" cy="509.4" rx="11.6" ry="7.6" fill="#b01a14" opacity="0.23" transform="rotate(114 680.0 509.4)"/><ellipse cx="692.1" cy="528.4" rx="11.3" ry="7.1" fill="#b89010" opacity="0.33" transform="rotate(16 692.1 528.4)"/><ellipse cx="672.8" cy="576.0" rx="6.1" ry="4.6" fill="#a8780a" opacity="0.44" transform="rotate(19 672.8 576.0)"/><ellipse cx="601.1" cy="491.4" rx="9.2" ry="6.8" fill="#c81e10" opacity="0.28" transform="rotate(98 601.1 491.4)"/><ellipse cx="676.8" cy="528.2" rx="5.7" ry="8.3" fill="#c81e10" opacity="0.38" transform="rotate(121 676.8 528.2)"/><ellipse cx="616.8" cy="490.9" rx="6.3" ry="5.6" fill="#d84a10" opacity="0.36" transform="rotate(132 616.8 490.9)"/><ellipse cx="701.0" cy="461.9" rx="7.8" ry="8.3" fill="#b89010" opacity="0.35" transform="rotate(155 701.0 461.9)"/><ellipse cx="690.1" cy="544.8" rx="7.8" ry="7.8" fill="#c85a0c" opacity="0.37" transform="rotate(64 690.1 544.8)"/><ellipse cx="711.6" cy="561.0" rx="10.3" ry="6.1" fill="#b89010" opacity="0.25" transform="rotate(176 711.6 561.0)"/><ellipse cx="618.2" cy="530.9" rx="8.0" ry="4.1" fill="#c81e10" opacity="0.44" transform="rotate(61 618.2 530.9)"/><ellipse cx="701.9" cy="505.2" rx="6.6" ry="8.8" fill="#a8780a" opacity="0.41" transform="rotate(149 701.9 505.2)"/><ellipse cx="730.1" cy="548.2" rx="5.2" ry="5.7" fill="#a8780a" opacity="0.26" transform="rotate(171 730.1 548.2)"/><ellipse cx="703.0" cy="577.0" rx="11.6" ry="7.1" fill="#b01a14" opacity="0.39" transform="rotate(29 703.0 577.0)"/><ellipse cx="702.6" cy="552.4" rx="8.5" ry="4.5" fill="#a8780a" opacity="0.42" transform="rotate(119 702.6 552.4)"/><ellipse cx="693.3" cy="454.2" rx="6.6" ry="5.6" fill="#c85a0c" opacity="0.23" transform="rotate(157 693.3 454.2)"/><ellipse cx="646.4" cy="509.0" rx="11.6" ry="7.5" fill="#d02810" opacity="0.34" transform="rotate(48 646.4 509.0)"/><ellipse cx="674.1" cy="447.6" rx="6.4" ry="6.7" fill="#d02810" opacity="0.34" transform="rotate(73 674.1 447.6)"/><ellipse cx="695.1" cy="572.2" rx="8.9" ry="7.8" fill="#b89010" opacity="0.27" transform="rotate(162 695.1 572.2)"/><ellipse cx="632.0" cy="565.9" rx="7.8" ry="5.4" fill="#b01a14" opacity="0.26" transform="rotate(90 632.0 565.9)"/><ellipse cx="696.7" cy="459.5" rx="7.9" ry="6.3" fill="#b89010" opacity="0.44" transform="rotate(56 696.7 459.5)"/><ellipse cx="655.4" cy="489.3" rx="6.8" ry="8.1" fill="#c81e10" opacity="0.30" transform="rotate(38 655.4 489.3)"/><ellipse cx="695.0" cy="550.7" rx="10.3" ry="6.5" fill="#a8780a" opacity="0.27" transform="rotate(83 695.0 550.7)"/><ellipse cx="668.9" cy="572.9" rx="11.7" ry="8.8" fill="#c85a0c" opacity="0.32" transform="rotate(164 668.9 572.9)"/><ellipse cx="659.6" cy="529.2" rx="9.9" ry="7.8" fill="#b01a14" opacity="0.23" transform="rotate(163 659.6 529.2)"/><ellipse cx="643.9" cy="498.3" rx="10.3" ry="5.3" fill="#d02810" opacity="0.39" transform="rotate(145 643.9 498.3)"/><ellipse cx="643.1" cy="472.3" rx="6.2" ry="7.6" fill="#b01a14" opacity="0.22" transform="rotate(149 643.1 472.3)"/><ellipse cx="707.7" cy="559.7" rx="10.2" ry="7.9" fill="#a8780a" opacity="0.36" transform="rotate(106 707.7 559.7)"/><ellipse cx="677.5" cy="575.4" rx="7.1" ry="8.5" fill="#a8780a" opacity="0.43" transform="rotate(147 677.5 575.4)"/><ellipse cx="650.1" cy="535.5" rx="7.4" ry="5.6" fill="#a8780a" opacity="0.34" transform="rotate(126 650.1 535.5)"/><ellipse cx="668.1" cy="508.9" rx="7.7" ry="6.8" fill="#c85a0c" opacity="0.40" transform="rotate(31 668.1 508.9)"/><ellipse cx="664.8" cy="589.1" rx="9.9" ry="7.7" fill="#a8780a" opacity="0.40" transform="rotate(34 664.8 589.1)"/><ellipse cx="652.1" cy="487.5" rx="9.5" ry="7.4" fill="#c81e10" opacity="0.33" transform="rotate(177 652.1 487.5)"/><ellipse cx="696.0" cy="525.6" rx="8.2" ry="5.5" fill="#8a7a10" opacity="0.35" transform="rotate(160 696.0 525.6)"/><ellipse cx="716.6" cy="486.4" rx="6.3" ry="7.3" fill="#c85a0c" opacity="0.29" transform="rotate(89 716.6 486.4)"/><ellipse cx="598.0" cy="525.6" rx="8.6" ry="8.9" fill="#d02810" opacity="0.25" transform="rotate(99 598.0 525.6)"/><ellipse cx="629.5" cy="535.1" rx="6.0" ry="4.6" fill="#c81e10" opacity="0.39" transform="rotate(9 629.5 535.1)"/><ellipse cx="667.0" cy="456.8" rx="9.7" ry="6.3" fill="#d02810" opacity="0.33" transform="rotate(38 667.0 456.8)"/><ellipse cx="667.9" cy="483.5" rx="9.6" ry="7.2" fill="#8a7a10" opacity="0.34" transform="rotate(88 667.9 483.5)"/><ellipse cx="641.6" cy="464.7" rx="10.0" ry="5.5" fill="#d84a10" opacity="0.26" transform="rotate(180 641.6 464.7)"/><ellipse cx="723.5" cy="533.7" rx="7.4" ry="4.8" fill="#c85a0c" opacity="0.36" transform="rotate(63 723.5 533.7)"/><ellipse cx="668.1" cy="486.5" rx="10.6" ry="6.7" fill="#c85a0c" opacity="0.22" transform="rotate(177 668.1 486.5)"/><ellipse cx="631.0" cy="523.4" rx="7.9" ry="7.4" fill="#c81e10" opacity="0.20" transform="rotate(24 631.0 523.4)"/><ellipse cx="638.2" cy="556.2" rx="5.9" ry="8.3" fill="#b89010" opacity="0.20" transform="rotate(81 638.2 556.2)"/><ellipse cx="637.4" cy="459.4" rx="10.0" ry="7.9" fill="#b01a14" opacity="0.41" transform="rotate(36 637.4 459.4)"/><ellipse cx="608.3" cy="516.1" rx="8.5" ry="6.0" fill="#b01a14" opacity="0.26" transform="rotate(82 608.3 516.1)"/><ellipse cx="726.3" cy="536.4" rx="10.9" ry="7.2" fill="#d84a10" opacity="0.44" transform="rotate(147 726.3 536.4)"/><ellipse cx="718.7" cy="480.7" rx="9.4" ry="6.7" fill="#8a7a10" opacity="0.28" transform="rotate(65 718.7 480.7)"/><ellipse cx="683.0" cy="463.4" rx="11.0" ry="7.9" fill="#d84a10" opacity="0.43" transform="rotate(170 683.0 463.4)"/><ellipse cx="629.6" cy="469.9" rx="8.5" ry="5.3" fill="#b01a14" opacity="0.26" transform="rotate(20 629.6 469.9)"/><ellipse cx="599.0" cy="508.4" rx="6.1" ry="4.8" fill="#b01a14" opacity="0.20" transform="rotate(3 599.0 508.4)"/><ellipse cx="706.9" cy="535.3" rx="6.7" ry="6.6" fill="#b89010" opacity="0.24" transform="rotate(140 706.9 535.3)"/><ellipse cx="675.4" cy="506.3" rx="5.6" ry="5.9" fill="#8a7a10" opacity="0.29" transform="rotate(31 675.4 506.3)"/><ellipse cx="681.9" cy="454.1" rx="8.1" ry="7.8" fill="#b01a14" opacity="0.37" transform="rotate(141 681.9 454.1)"/><ellipse cx="710.4" cy="573.3" rx="8.8" ry="6.3" fill="#c85a0c" opacity="0.29" transform="rotate(163 710.4 573.3)"/><ellipse cx="699.0" cy="531.5" rx="9.1" ry="4.6" fill="#d02810" opacity="0.38" transform="rotate(14 699.0 531.5)"/><ellipse cx="676.2" cy="583.5" rx="9.4" ry="5.0" fill="#a8780a" opacity="0.26" transform="rotate(126 676.2 583.5)"/></g></g><ellipse cx="668.0" cy="519.4" rx="77.5" ry="79.5" fill="#fff" filter="url(#tistex2)"/><g clip-path="url(#tisclip)"><g filter="url(#flb1)"><ellipse cx="702.9" cy="452.9" rx="3.3" ry="1.6" fill="#c8b818" opacity="0.88" transform="rotate(94 702.9 452.9)"/><ellipse cx="714.1" cy="480.0" rx="2.2" ry="0.9" fill="#f0d820" opacity="0.83" transform="rotate(86 714.1 480.0)"/><ellipse cx="695.1" cy="518.9" rx="3.1" ry="1.2" fill="#f03018" opacity="0.70" transform="rotate(123 695.1 518.9)"/><ellipse cx="614.3" cy="539.3" rx="2.7" ry="1.4" fill="#d81818" opacity="0.80" transform="rotate(59 614.3 539.3)"/><ellipse cx="639.4" cy="554.3" rx="1.6" ry="0.9" fill="#f03018" opacity="0.79" transform="rotate(83 639.4 554.3)"/><ellipse cx="616.4" cy="558.4" rx="3.3" ry="1.9" fill="#c8b818" opacity="0.92" transform="rotate(88 616.4 558.4)"/><ellipse cx="642.8" cy="574.4" rx="3.9" ry="1.4" fill="#f03018" opacity="0.72" transform="rotate(171 642.8 574.4)"/><ellipse cx="603.0" cy="515.4" rx="3.3" ry="0.9" fill="#d8a810" opacity="0.78" transform="rotate(164 603.0 515.4)"/><ellipse cx="675.0" cy="577.3" rx="3.9" ry="1.8" fill="#c8b818" opacity="0.69" transform="rotate(143 675.0 577.3)"/><ellipse cx="686.6" cy="507.0" rx="2.1" ry="0.7" fill="#d8a810" opacity="0.85" transform="rotate(111 686.6 507.0)"/><ellipse cx="726.7" cy="504.2" rx="3.9" ry="0.9" fill="#c81410" opacity="0.72" transform="rotate(117 726.7 504.2)"/><ellipse cx="660.0" cy="584.6" rx="1.7" ry="1.3" fill="#f0d820" opacity="0.56" transform="rotate(114 660.0 584.6)"/><ellipse cx="642.5" cy="461.5" rx="3.3" ry="0.9" fill="#d86010" opacity="0.61" transform="rotate(46 642.5 461.5)"/><ellipse cx="721.4" cy="505.1" rx="3.0" ry="1.1" fill="#d81818" opacity="0.73" transform="rotate(174 721.4 505.1)"/><ellipse cx="672.1" cy="467.6" rx="1.3" ry="1.0" fill="#e8c814" opacity="0.89" transform="rotate(123 672.1 467.6)"/><ellipse cx="680.2" cy="497.2" rx="3.8" ry="1.7" fill="#f03018" opacity="0.60" transform="rotate(34 680.2 497.2)"/><ellipse cx="634.1" cy="575.4" rx="3.6" ry="1.7" fill="#f0d820" opacity="0.73" transform="rotate(109 634.1 575.4)"/><ellipse cx="659.9" cy="520.6" rx="2.3" ry="1.9" fill="#d8a810" opacity="0.89" transform="rotate(5 659.9 520.6)"/><ellipse cx="665.3" cy="448.7" rx="2.1" ry="1.8" fill="#d8a810" opacity="0.73" transform="rotate(36 665.3 448.7)"/><ellipse cx="722.4" cy="556.2" rx="3.1" ry="1.7" fill="#f0d820" opacity="0.92" transform="rotate(112 722.4 556.2)"/><ellipse cx="631.1" cy="512.6" rx="3.3" ry="0.9" fill="#d81818" opacity="0.58" transform="rotate(120 631.1 512.6)"/><ellipse cx="669.1" cy="588.9" rx="3.2" ry="1.5" fill="#e82010" opacity="0.69" transform="rotate(45 669.1 588.9)"/><ellipse cx="634.2" cy="454.6" rx="2.0" ry="1.6" fill="#e82010" opacity="0.87" transform="rotate(80 634.2 454.6)"/><ellipse cx="681.9" cy="588.5" rx="2.7" ry="1.3" fill="#e8c814" opacity="0.76" transform="rotate(136 681.9 588.5)"/><ellipse cx="728.1" cy="519.1" rx="3.4" ry="1.2" fill="#c81410" opacity="0.72" transform="rotate(74 728.1 519.1)"/><ellipse cx="697.0" cy="531.7" rx="3.2" ry="1.0" fill="#d86010" opacity="0.60" transform="rotate(159 697.0 531.7)"/><ellipse cx="639.2" cy="466.8" rx="3.7" ry="1.8" fill="#c81410" opacity="0.64" transform="rotate(90 639.2 466.8)"/><ellipse cx="644.5" cy="541.9" rx="1.4" ry="1.8" fill="#f0d820" opacity="0.89" transform="rotate(161 644.5 541.9)"/><ellipse cx="715.4" cy="484.2" rx="1.8" ry="1.5" fill="#e87010" opacity="0.66" transform="rotate(166 715.4 484.2)"/><ellipse cx="665.8" cy="525.5" rx="2.2" ry="0.8" fill="#ff4020" opacity="0.75" transform="rotate(50 665.8 525.5)"/><ellipse cx="741.9" cy="509.1" rx="1.7" ry="1.0" fill="#d86010" opacity="0.78" transform="rotate(85 741.9 509.1)"/><ellipse cx="659.1" cy="519.2" rx="1.3" ry="1.3" fill="#e87010" opacity="0.79" transform="rotate(9 659.1 519.2)"/><ellipse cx="652.6" cy="557.8" rx="3.7" ry="1.6" fill="#c81410" opacity="0.57" transform="rotate(90 652.6 557.8)"/><ellipse cx="710.1" cy="558.9" rx="1.4" ry="1.1" fill="#e87010" opacity="0.56" transform="rotate(15 710.1 558.9)"/><ellipse cx="666.1" cy="580.6" rx="3.5" ry="1.2" fill="#e0b010" opacity="0.86" transform="rotate(143 666.1 580.6)"/><ellipse cx="679.6" cy="443.6" rx="2.5" ry="1.3" fill="#ff4020" opacity="0.76" transform="rotate(69 679.6 443.6)"/><ellipse cx="685.4" cy="563.7" rx="1.6" ry="1.8" fill="#e0b010" opacity="0.75" transform="rotate(9 685.4 563.7)"/><ellipse cx="648.7" cy="582.1" rx="3.3" ry="1.8" fill="#f08818" opacity="0.88" transform="rotate(109 648.7 582.1)"/><ellipse cx="739.0" cy="545.5" rx="3.6" ry="1.1" fill="#f08818" opacity="0.60" transform="rotate(79 739.0 545.5)"/><ellipse cx="650.0" cy="466.5" rx="2.0" ry="1.8" fill="#ff4020" opacity="0.89" transform="rotate(80 650.0 466.5)"/><ellipse cx="679.8" cy="585.2" rx="1.5" ry="1.4" fill="#e82010" opacity="0.55" transform="rotate(10 679.8 585.2)"/><ellipse cx="705.1" cy="518.5" rx="2.6" ry="1.2" fill="#c81410" opacity="0.83" transform="rotate(9 705.1 518.5)"/><ellipse cx="698.1" cy="527.8" rx="3.5" ry="1.4" fill="#c8b818" opacity="0.72" transform="rotate(90 698.1 527.8)"/><ellipse cx="680.2" cy="444.3" rx="2.3" ry="0.8" fill="#d86010" opacity="0.77" transform="rotate(175 680.2 444.3)"/><ellipse cx="736.2" cy="507.3" rx="3.2" ry="1.8" fill="#c81410" opacity="0.67" transform="rotate(168 736.2 507.3)"/><ellipse cx="594.8" cy="534.0" rx="2.6" ry="1.0" fill="#c8b818" opacity="0.69" transform="rotate(120 594.8 534.0)"/><ellipse cx="681.7" cy="524.6" rx="2.2" ry="1.6" fill="#e0b010" opacity="0.58" transform="rotate(2 681.7 524.6)"/><ellipse cx="730.3" cy="533.4" rx="2.7" ry="1.5" fill="#d8a810" opacity="0.56" transform="rotate(43 730.3 533.4)"/><ellipse cx="688.9" cy="519.8" rx="1.3" ry="0.8" fill="#d81818" opacity="0.93" transform="rotate(106 688.9 519.8)"/><ellipse cx="657.6" cy="585.1" rx="3.0" ry="1.4" fill="#e8c814" opacity="0.84" transform="rotate(85 657.6 585.1)"/><ellipse cx="633.9" cy="558.7" rx="2.4" ry="1.6" fill="#e8c814" opacity="0.87" transform="rotate(9 633.9 558.7)"/><ellipse cx="639.2" cy="531.6" rx="3.7" ry="0.9" fill="#f0d820" opacity="0.57" transform="rotate(14 639.2 531.6)"/><ellipse cx="724.6" cy="472.9" rx="2.4" ry="0.7" fill="#e82010" opacity="0.70" transform="rotate(10 724.6 472.9)"/><ellipse cx="663.4" cy="584.1" rx="3.0" ry="0.9" fill="#c8b818" opacity="0.81" transform="rotate(144 663.4 584.1)"/><ellipse cx="714.7" cy="575.9" rx="2.0" ry="1.1" fill="#d86010" opacity="0.76" transform="rotate(127 714.7 575.9)"/><ellipse cx="614.2" cy="553.3" rx="1.9" ry="0.9" fill="#d8a810" opacity="0.56" transform="rotate(95 614.2 553.3)"/><ellipse cx="653.1" cy="573.6" rx="3.8" ry="1.2" fill="#e87010" opacity="0.71" transform="rotate(8 653.1 573.6)"/><ellipse cx="705.7" cy="491.1" rx="1.5" ry="1.8" fill="#e87010" opacity="0.87" transform="rotate(43 705.7 491.1)"/><ellipse cx="632.2" cy="583.7" rx="2.2" ry="1.2" fill="#e0b010" opacity="0.69" transform="rotate(26 632.2 583.7)"/><ellipse cx="700.6" cy="452.1" rx="3.4" ry="1.1" fill="#ff4020" opacity="0.84" transform="rotate(150 700.6 452.1)"/><ellipse cx="605.6" cy="550.5" rx="1.7" ry="1.0" fill="#d8a810" opacity="0.87" transform="rotate(61 605.6 550.5)"/><ellipse cx="700.8" cy="568.4" rx="2.2" ry="1.1" fill="#f0d820" opacity="0.83" transform="rotate(113 700.8 568.4)"/><ellipse cx="594.8" cy="537.1" rx="2.4" ry="1.1" fill="#f0d820" opacity="0.77" transform="rotate(81 594.8 537.1)"/><ellipse cx="652.3" cy="473.7" rx="4.0" ry="0.7" fill="#f03018" opacity="0.62" transform="rotate(66 652.3 473.7)"/><ellipse cx="709.8" cy="534.5" rx="1.7" ry="1.1" fill="#d8a810" opacity="0.83" transform="rotate(115 709.8 534.5)"/><ellipse cx="675.5" cy="489.5" rx="1.3" ry="1.4" fill="#e0b010" opacity="0.70" transform="rotate(16 675.5 489.5)"/><ellipse cx="633.0" cy="580.5" rx="3.7" ry="1.1" fill="#e8c814" opacity="0.72" transform="rotate(78 633.0 580.5)"/><ellipse cx="695.9" cy="516.8" rx="1.4" ry="1.5" fill="#e0b010" opacity="0.77" transform="rotate(61 695.9 516.8)"/><ellipse cx="650.0" cy="488.6" rx="1.5" ry="1.2" fill="#e8c814" opacity="0.86" transform="rotate(96 650.0 488.6)"/><ellipse cx="681.0" cy="456.1" rx="3.8" ry="1.0" fill="#d81818" opacity="0.82" transform="rotate(117 681.0 456.1)"/><ellipse cx="644.6" cy="455.7" rx="1.4" ry="0.8" fill="#e8c814" opacity="0.67" transform="rotate(121 644.6 455.7)"/><ellipse cx="682.9" cy="529.3" rx="1.7" ry="0.8" fill="#c8b818" opacity="0.55" transform="rotate(65 682.9 529.3)"/><ellipse cx="709.4" cy="511.9" rx="3.1" ry="1.5" fill="#d81818" opacity="0.79" transform="rotate(136 709.4 511.9)"/><ellipse cx="649.2" cy="508.5" rx="3.1" ry="1.5" fill="#f03018" opacity="0.59" transform="rotate(152 649.2 508.5)"/><ellipse cx="714.3" cy="543.1" rx="3.1" ry="1.9" fill="#d8a810" opacity="0.57" transform="rotate(115 714.3 543.1)"/><ellipse cx="627.6" cy="552.3" rx="4.0" ry="1.4" fill="#ff4020" opacity="0.93" transform="rotate(63 627.6 552.3)"/><ellipse cx="677.7" cy="445.4" rx="3.0" ry="1.7" fill="#d8a810" opacity="0.88" transform="rotate(3 677.7 445.4)"/><ellipse cx="606.0" cy="506.5" rx="3.9" ry="1.4" fill="#f0d820" opacity="0.77" transform="rotate(83 606.0 506.5)"/><ellipse cx="679.8" cy="465.4" rx="3.5" ry="0.9" fill="#d81818" opacity="0.86" transform="rotate(21 679.8 465.4)"/><ellipse cx="627.5" cy="541.9" rx="1.2" ry="0.8" fill="#e8c814" opacity="0.85" transform="rotate(70 627.5 541.9)"/><ellipse cx="638.2" cy="563.3" rx="2.8" ry="1.1" fill="#f0d820" opacity="0.79" transform="rotate(153 638.2 563.3)"/><ellipse cx="659.0" cy="527.7" rx="2.9" ry="1.5" fill="#f0d820" opacity="0.57" transform="rotate(166 659.0 527.7)"/><ellipse cx="682.0" cy="485.2" rx="1.5" ry="1.3" fill="#d81818" opacity="0.95" transform="rotate(50 682.0 485.2)"/><ellipse cx="676.5" cy="555.9" rx="1.8" ry="1.3" fill="#d86010" opacity="0.70" transform="rotate(99 676.5 555.9)"/><ellipse cx="634.3" cy="468.2" rx="1.5" ry="1.4" fill="#e8c814" opacity="0.58" transform="rotate(156 634.3 468.2)"/><ellipse cx="615.0" cy="545.7" rx="1.5" ry="0.8" fill="#f03018" opacity="0.90" transform="rotate(118 615.0 545.7)"/><ellipse cx="690.8" cy="537.2" rx="1.9" ry="1.1" fill="#d81818" opacity="0.68" transform="rotate(156 690.8 537.2)"/><ellipse cx="695.9" cy="590.4" rx="3.1" ry="1.9" fill="#ff4020" opacity="0.65" transform="rotate(42 695.9 590.4)"/><ellipse cx="621.4" cy="469.4" rx="1.3" ry="1.8" fill="#d81818" opacity="0.81" transform="rotate(81 621.4 469.4)"/><ellipse cx="726.7" cy="562.4" rx="2.4" ry="1.7" fill="#f03018" opacity="0.85" transform="rotate(108 726.7 562.4)"/><ellipse cx="663.3" cy="516.4" rx="3.6" ry="1.6" fill="#d8a810" opacity="0.58" transform="rotate(92 663.3 516.4)"/><ellipse cx="655.9" cy="500.3" rx="2.4" ry="1.8" fill="#e82010" opacity="0.79" transform="rotate(20 655.9 500.3)"/><ellipse cx="601.1" cy="497.8" rx="1.5" ry="0.9" fill="#d8a810" opacity="0.74" transform="rotate(100 601.1 497.8)"/><ellipse cx="632.0" cy="481.5" rx="4.0" ry="0.8" fill="#e8c814" opacity="0.85" transform="rotate(25 632.0 481.5)"/><ellipse cx="604.2" cy="505.8" rx="2.3" ry="1.8" fill="#f0d820" opacity="0.70" transform="rotate(30 604.2 505.8)"/><ellipse cx="727.3" cy="520.9" rx="2.9" ry="1.4" fill="#f03018" opacity="0.61" transform="rotate(22 727.3 520.9)"/><ellipse cx="724.4" cy="541.7" rx="2.5" ry="1.2" fill="#f08818" opacity="0.92" transform="rotate(55 724.4 541.7)"/><ellipse cx="672.2" cy="461.4" rx="1.5" ry="1.3" fill="#c8b818" opacity="0.60" transform="rotate(63 672.2 461.4)"/><ellipse cx="617.6" cy="489.8" rx="1.3" ry="1.5" fill="#e0b010" opacity="0.94" transform="rotate(100 617.6 489.8)"/><ellipse cx="689.6" cy="507.2" rx="3.8" ry="1.5" fill="#d86010" opacity="0.89" transform="rotate(97 689.6 507.2)"/><ellipse cx="637.9" cy="516.3" rx="1.6" ry="1.5" fill="#ff4020" opacity="0.79" transform="rotate(40 637.9 516.3)"/><ellipse cx="649.4" cy="450.8" rx="1.7" ry="1.4" fill="#ff4020" opacity="0.85" transform="rotate(132 649.4 450.8)"/><ellipse cx="641.1" cy="534.9" rx="3.8" ry="0.8" fill="#f08818" opacity="0.88" transform="rotate(155 641.1 534.9)"/><ellipse cx="647.6" cy="585.4" rx="1.5" ry="1.6" fill="#d8a810" opacity="0.57" transform="rotate(104 647.6 585.4)"/><ellipse cx="666.0" cy="507.0" rx="2.5" ry="1.6" fill="#f0d820" opacity="0.86" transform="rotate(21 666.0 507.0)"/><ellipse cx="707.5" cy="511.0" rx="1.8" ry="1.3" fill="#e0b010" opacity="0.62" transform="rotate(83 707.5 511.0)"/><ellipse cx="601.1" cy="486.5" rx="3.5" ry="1.4" fill="#ff4020" opacity="0.62" transform="rotate(139 601.1 486.5)"/><ellipse cx="675.4" cy="591.6" rx="1.5" ry="1.6" fill="#c81410" opacity="0.70" transform="rotate(31 675.4 591.6)"/><ellipse cx="650.1" cy="550.2" rx="3.1" ry="1.1" fill="#e8c814" opacity="0.85" transform="rotate(14 650.1 550.2)"/><ellipse cx="724.4" cy="517.1" rx="2.0" ry="1.6" fill="#e82010" opacity="0.68" transform="rotate(17 724.4 517.1)"/><ellipse cx="670.7" cy="574.3" rx="1.4" ry="1.4" fill="#e82010" opacity="0.81" transform="rotate(83 670.7 574.3)"/><ellipse cx="689.1" cy="553.7" rx="2.4" ry="0.8" fill="#d8a810" opacity="0.68" transform="rotate(77 689.1 553.7)"/><ellipse cx="661.9" cy="548.3" rx="2.9" ry="1.3" fill="#c81410" opacity="0.60" transform="rotate(145 661.9 548.3)"/><ellipse cx="673.4" cy="568.0" rx="3.9" ry="1.3" fill="#ff4020" opacity="0.63" transform="rotate(97 673.4 568.0)"/><ellipse cx="665.9" cy="451.7" rx="2.8" ry="1.4" fill="#c81410" opacity="0.88" transform="rotate(2 665.9 451.7)"/><ellipse cx="677.5" cy="457.3" rx="3.3" ry="1.7" fill="#f0d820" opacity="0.90" transform="rotate(89 677.5 457.3)"/><ellipse cx="596.9" cy="526.6" rx="3.6" ry="1.1" fill="#e87010" opacity="0.76" transform="rotate(17 596.9 526.6)"/><ellipse cx="631.7" cy="462.1" rx="3.7" ry="0.7" fill="#d8a810" opacity="0.80" transform="rotate(102 631.7 462.1)"/><ellipse cx="645.1" cy="533.8" rx="1.9" ry="1.3" fill="#c81410" opacity="0.81" transform="rotate(60 645.1 533.8)"/><ellipse cx="639.1" cy="499.7" rx="3.7" ry="1.9" fill="#c8b818" opacity="0.59" transform="rotate(113 639.1 499.7)"/><ellipse cx="615.3" cy="502.8" rx="3.9" ry="1.8" fill="#c8b818" opacity="0.75" transform="rotate(14 615.3 502.8)"/><ellipse cx="634.9" cy="481.1" rx="1.6" ry="1.5" fill="#e82010" opacity="0.65" transform="rotate(59 634.9 481.1)"/><ellipse cx="623.4" cy="515.6" rx="3.3" ry="1.6" fill="#f08818" opacity="0.59" transform="rotate(148 623.4 515.6)"/><ellipse cx="694.7" cy="478.8" rx="2.5" ry="0.8" fill="#c8b818" opacity="0.77" transform="rotate(119 694.7 478.8)"/><ellipse cx="654.4" cy="579.1" rx="2.3" ry="1.4" fill="#d8a810" opacity="0.72" transform="rotate(97 654.4 579.1)"/><ellipse cx="677.6" cy="503.2" rx="3.8" ry="1.2" fill="#d8a810" opacity="0.83" transform="rotate(24 677.6 503.2)"/><ellipse cx="602.3" cy="522.8" rx="1.3" ry="1.3" fill="#d8a810" opacity="0.78" transform="rotate(22 602.3 522.8)"/><ellipse cx="646.3" cy="579.9" rx="3.3" ry="0.8" fill="#c81410" opacity="0.71" transform="rotate(101 646.3 579.9)"/><ellipse cx="648.0" cy="486.4" rx="1.4" ry="1.3" fill="#f03018" opacity="0.85" transform="rotate(115 648.0 486.4)"/><ellipse cx="603.0" cy="503.5" rx="3.4" ry="0.8" fill="#c8b818" opacity="0.90" transform="rotate(46 603.0 503.5)"/><ellipse cx="706.6" cy="485.3" rx="2.0" ry="1.4" fill="#e82010" opacity="0.83" transform="rotate(176 706.6 485.3)"/><ellipse cx="661.3" cy="457.0" rx="2.3" ry="0.7" fill="#e87010" opacity="0.59" transform="rotate(83 661.3 457.0)"/><ellipse cx="711.3" cy="473.2" rx="2.1" ry="1.0" fill="#c8b818" opacity="0.80" transform="rotate(179 711.3 473.2)"/><ellipse cx="683.8" cy="533.1" rx="2.7" ry="1.2" fill="#e8c814" opacity="0.73" transform="rotate(47 683.8 533.1)"/><ellipse cx="689.2" cy="453.4" rx="2.9" ry="1.2" fill="#c8b818" opacity="0.55" transform="rotate(101 689.2 453.4)"/><ellipse cx="642.2" cy="499.5" rx="1.8" ry="1.8" fill="#d86010" opacity="0.78" transform="rotate(111 642.2 499.5)"/><ellipse cx="670.3" cy="555.6" rx="3.5" ry="1.3" fill="#e8c814" opacity="0.87" transform="rotate(9 670.3 555.6)"/><ellipse cx="730.7" cy="514.0" rx="2.4" ry="1.4" fill="#f08818" opacity="0.64" transform="rotate(147 730.7 514.0)"/><ellipse cx="716.3" cy="506.2" rx="1.4" ry="0.9" fill="#d86010" opacity="0.59" transform="rotate(79 716.3 506.2)"/><ellipse cx="652.8" cy="593.3" rx="3.4" ry="1.1" fill="#e0b010" opacity="0.74" transform="rotate(14 652.8 593.3)"/><ellipse cx="708.6" cy="539.2" rx="3.9" ry="0.9" fill="#ff4020" opacity="0.77" transform="rotate(3 708.6 539.2)"/><ellipse cx="611.1" cy="565.3" rx="3.0" ry="0.9" fill="#c8b818" opacity="0.69" transform="rotate(69 611.1 565.3)"/><ellipse cx="705.6" cy="494.6" rx="1.8" ry="0.9" fill="#d86010" opacity="0.88" transform="rotate(137 705.6 494.6)"/><ellipse cx="710.0" cy="509.6" rx="1.4" ry="1.1" fill="#f03018" opacity="0.86" transform="rotate(180 710.0 509.6)"/><ellipse cx="720.1" cy="511.2" rx="3.8" ry="1.4" fill="#c8b818" opacity="0.65" transform="rotate(104 720.1 511.2)"/><ellipse cx="683.8" cy="549.6" rx="2.9" ry="1.5" fill="#c8b818" opacity="0.90" transform="rotate(29 683.8 549.6)"/><ellipse cx="704.5" cy="535.7" rx="3.1" ry="1.4" fill="#f0d820" opacity="0.61" transform="rotate(128 704.5 535.7)"/><ellipse cx="656.7" cy="565.0" rx="3.5" ry="0.8" fill="#d81818" opacity="0.65" transform="rotate(132 656.7 565.0)"/><ellipse cx="656.9" cy="586.7" rx="2.4" ry="0.8" fill="#e0b010" opacity="0.65" transform="rotate(107 656.9 586.7)"/><ellipse cx="638.7" cy="490.7" rx="2.6" ry="1.6" fill="#f03018" opacity="0.69" transform="rotate(84 638.7 490.7)"/><ellipse cx="738.0" cy="506.9" rx="3.7" ry="1.0" fill="#e82010" opacity="0.66" transform="rotate(19 738.0 506.9)"/><ellipse cx="667.8" cy="480.3" rx="2.4" ry="1.7" fill="#d86010" opacity="0.70" transform="rotate(173 667.8 480.3)"/><ellipse cx="615.2" cy="492.4" rx="2.5" ry="1.8" fill="#c81410" opacity="0.62" transform="rotate(108 615.2 492.4)"/><ellipse cx="653.7" cy="465.5" rx="3.5" ry="1.0" fill="#c8b818" opacity="0.58" transform="rotate(106 653.7 465.5)"/><ellipse cx="612.4" cy="565.6" rx="3.1" ry="1.1" fill="#c8b818" opacity="0.58" transform="rotate(50 612.4 565.6)"/><ellipse cx="726.5" cy="502.1" rx="3.8" ry="1.8" fill="#d8a810" opacity="0.73" transform="rotate(61 726.5 502.1)"/><ellipse cx="684.7" cy="588.1" rx="2.1" ry="0.8" fill="#c8b818" opacity="0.90" transform="rotate(64 684.7 588.1)"/><ellipse cx="682.2" cy="476.7" rx="2.3" ry="1.7" fill="#f08818" opacity="0.76" transform="rotate(32 682.2 476.7)"/><ellipse cx="646.9" cy="448.4" rx="2.6" ry="1.0" fill="#e87010" opacity="0.90" transform="rotate(129 646.9 448.4)"/><ellipse cx="677.4" cy="553.5" rx="1.4" ry="1.5" fill="#f0d820" opacity="0.63" transform="rotate(76 677.4 553.5)"/><ellipse cx="673.3" cy="468.2" rx="3.1" ry="1.5" fill="#d8a810" opacity="0.65" transform="rotate(72 673.3 468.2)"/><ellipse cx="688.0" cy="475.3" rx="3.7" ry="1.7" fill="#e87010" opacity="0.90" transform="rotate(57 688.0 475.3)"/><ellipse cx="700.5" cy="517.9" rx="2.3" ry="1.5" fill="#d86010" opacity="0.88" transform="rotate(94 700.5 517.9)"/><ellipse cx="673.9" cy="532.4" rx="1.4" ry="1.1" fill="#e87010" opacity="0.75" transform="rotate(148 673.9 532.4)"/><ellipse cx="666.1" cy="550.7" rx="1.8" ry="1.1" fill="#e0b010" opacity="0.72" transform="rotate(14 666.1 550.7)"/><ellipse cx="686.9" cy="473.3" rx="1.4" ry="1.4" fill="#f08818" opacity="0.86" transform="rotate(132 686.9 473.3)"/><ellipse cx="683.6" cy="553.7" rx="2.3" ry="1.5" fill="#f03018" opacity="0.83" transform="rotate(173 683.6 553.7)"/><ellipse cx="704.8" cy="505.0" rx="1.9" ry="1.7" fill="#e87010" opacity="0.79" transform="rotate(129 704.8 505.0)"/><ellipse cx="672.9" cy="511.4" rx="1.6" ry="1.3" fill="#e82010" opacity="0.70" transform="rotate(123 672.9 511.4)"/><ellipse cx="685.2" cy="449.3" rx="3.9" ry="1.8" fill="#f0d820" opacity="0.90" transform="rotate(127 685.2 449.3)"/><ellipse cx="717.4" cy="516.5" rx="2.4" ry="1.9" fill="#f08818" opacity="0.94" transform="rotate(146 717.4 516.5)"/><ellipse cx="624.3" cy="534.4" rx="2.9" ry="1.7" fill="#e87010" opacity="0.75" transform="rotate(180 624.3 534.4)"/><ellipse cx="701.1" cy="450.9" rx="1.7" ry="1.5" fill="#f0d820" opacity="0.62" transform="rotate(34 701.1 450.9)"/><ellipse cx="635.2" cy="490.9" rx="3.6" ry="1.6" fill="#d81818" opacity="0.79" transform="rotate(110 635.2 490.9)"/><ellipse cx="680.1" cy="575.3" rx="4.0" ry="1.1" fill="#e8c814" opacity="0.83" transform="rotate(117 680.1 575.3)"/><ellipse cx="725.7" cy="481.0" rx="3.3" ry="1.3" fill="#d86010" opacity="0.72" transform="rotate(70 725.7 481.0)"/><ellipse cx="721.0" cy="474.1" rx="3.6" ry="1.9" fill="#e82010" opacity="0.90" transform="rotate(63 721.0 474.1)"/><ellipse cx="691.7" cy="535.7" rx="3.1" ry="1.3" fill="#e0b010" opacity="0.83" transform="rotate(47 691.7 535.7)"/><ellipse cx="701.3" cy="580.5" rx="2.7" ry="0.9" fill="#d8a810" opacity="0.77" transform="rotate(135 701.3 580.5)"/><ellipse cx="657.0" cy="507.3" rx="3.6" ry="1.9" fill="#f08818" opacity="0.59" transform="rotate(109 657.0 507.3)"/><ellipse cx="639.7" cy="480.5" rx="2.5" ry="1.2" fill="#f08818" opacity="0.62" transform="rotate(145 639.7 480.5)"/><ellipse cx="627.1" cy="455.7" rx="1.3" ry="1.0" fill="#e0b010" opacity="0.94" transform="rotate(17 627.1 455.7)"/><ellipse cx="636.3" cy="557.8" rx="2.2" ry="1.3" fill="#c81410" opacity="0.64" transform="rotate(1 636.3 557.8)"/><ellipse cx="670.2" cy="543.5" rx="2.1" ry="0.9" fill="#c8b818" opacity="0.72" transform="rotate(17 670.2 543.5)"/><ellipse cx="670.7" cy="540.8" rx="3.0" ry="1.7" fill="#f08818" opacity="0.60" transform="rotate(153 670.7 540.8)"/><ellipse cx="714.6" cy="506.3" rx="3.7" ry="1.1" fill="#d86010" opacity="0.92" transform="rotate(10 714.6 506.3)"/><ellipse cx="722.4" cy="523.8" rx="1.6" ry="1.6" fill="#d8a810" opacity="0.88" transform="rotate(95 722.4 523.8)"/><ellipse cx="666.0" cy="594.5" rx="3.0" ry="1.0" fill="#e87010" opacity="0.84" transform="rotate(167 666.0 594.5)"/><ellipse cx="629.0" cy="537.5" rx="2.6" ry="1.1" fill="#f03018" opacity="0.91" transform="rotate(174 629.0 537.5)"/><ellipse cx="672.6" cy="561.1" rx="1.6" ry="0.8" fill="#f0d820" opacity="0.64" transform="rotate(125 672.6 561.1)"/><ellipse cx="726.1" cy="535.7" rx="3.8" ry="0.9" fill="#e87010" opacity="0.70" transform="rotate(25 726.1 535.7)"/><ellipse cx="738.4" cy="514.5" rx="3.5" ry="1.3" fill="#c8b818" opacity="0.60" transform="rotate(55 738.4 514.5)"/><ellipse cx="639.0" cy="554.5" rx="3.3" ry="1.2" fill="#f0d820" opacity="0.84" transform="rotate(125 639.0 554.5)"/><ellipse cx="633.3" cy="477.6" rx="2.8" ry="1.3" fill="#e82010" opacity="0.68" transform="rotate(125 633.3 477.6)"/><ellipse cx="713.8" cy="486.3" rx="1.6" ry="1.3" fill="#f0d820" opacity="0.81" transform="rotate(179 713.8 486.3)"/><ellipse cx="722.2" cy="536.1" rx="2.0" ry="1.1" fill="#d8a810" opacity="0.57" transform="rotate(11 722.2 536.1)"/><ellipse cx="624.5" cy="482.6" rx="1.3" ry="0.9" fill="#e8c814" opacity="0.93" transform="rotate(61 624.5 482.6)"/><ellipse cx="672.4" cy="591.0" rx="2.5" ry="1.7" fill="#ff4020" opacity="0.83" transform="rotate(87 672.4 591.0)"/><ellipse cx="700.0" cy="501.3" rx="1.9" ry="1.7" fill="#d8a810" opacity="0.65" transform="rotate(23 700.0 501.3)"/><ellipse cx="619.4" cy="461.8" rx="2.7" ry="0.9" fill="#f03018" opacity="0.92" transform="rotate(61 619.4 461.8)"/><ellipse cx="733.9" cy="553.5" rx="2.5" ry="1.2" fill="#e82010" opacity="0.84" transform="rotate(114 733.9 553.5)"/><ellipse cx="664.3" cy="504.3" rx="3.1" ry="0.7" fill="#e0b010" opacity="0.63" transform="rotate(135 664.3 504.3)"/><ellipse cx="640.3" cy="567.3" rx="3.1" ry="0.8" fill="#c81410" opacity="0.81" transform="rotate(93 640.3 567.3)"/><ellipse cx="676.3" cy="525.4" rx="2.5" ry="0.9" fill="#c8b818" opacity="0.80" transform="rotate(100 676.3 525.4)"/><ellipse cx="724.2" cy="485.9" rx="2.1" ry="1.1" fill="#e8c814" opacity="0.81" transform="rotate(176 724.2 485.9)"/><ellipse cx="628.4" cy="485.5" rx="2.9" ry="0.7" fill="#e87010" opacity="0.71" transform="rotate(26 628.4 485.5)"/><ellipse cx="626.8" cy="574.6" rx="1.6" ry="0.9" fill="#f08818" opacity="0.91" transform="rotate(21 626.8 574.6)"/><ellipse cx="698.4" cy="520.0" rx="1.9" ry="1.1" fill="#f0d820" opacity="0.69" transform="rotate(66 698.4 520.0)"/><ellipse cx="688.3" cy="487.1" rx="1.6" ry="1.0" fill="#d81818" opacity="0.94" transform="rotate(42 688.3 487.1)"/><ellipse cx="687.7" cy="487.5" rx="1.5" ry="1.0" fill="#e8c814" opacity="0.88" transform="rotate(162 687.7 487.5)"/><ellipse cx="645.1" cy="527.2" rx="2.7" ry="1.2" fill="#d81818" opacity="0.60" transform="rotate(142 645.1 527.2)"/><ellipse cx="651.9" cy="581.3" rx="3.3" ry="0.9" fill="#e8c814" opacity="0.86" transform="rotate(72 651.9 581.3)"/><ellipse cx="661.6" cy="454.6" rx="3.0" ry="0.9" fill="#e82010" opacity="0.57" transform="rotate(86 661.6 454.6)"/><ellipse cx="654.7" cy="540.2" rx="2.7" ry="0.7" fill="#d86010" opacity="0.88" transform="rotate(25 654.7 540.2)"/><ellipse cx="619.0" cy="485.0" rx="1.7" ry="1.4" fill="#e87010" opacity="0.64" transform="rotate(31 619.0 485.0)"/><ellipse cx="593.6" cy="514.9" rx="3.4" ry="1.6" fill="#f03018" opacity="0.91" transform="rotate(154 593.6 514.9)"/><ellipse cx="655.2" cy="537.8" rx="3.7" ry="1.2" fill="#d8a810" opacity="0.75" transform="rotate(72 655.2 537.8)"/><ellipse cx="670.4" cy="548.3" rx="3.8" ry="0.7" fill="#f08818" opacity="0.56" transform="rotate(146 670.4 548.3)"/><ellipse cx="630.1" cy="511.2" rx="3.0" ry="1.0" fill="#d86010" opacity="0.87" transform="rotate(8 630.1 511.2)"/><ellipse cx="690.1" cy="466.5" rx="2.4" ry="1.4" fill="#d86010" opacity="0.83" transform="rotate(61 690.1 466.5)"/><ellipse cx="661.4" cy="591.7" rx="1.8" ry="1.2" fill="#e0b010" opacity="0.82" transform="rotate(134 661.4 591.7)"/><ellipse cx="695.3" cy="459.2" rx="1.3" ry="1.5" fill="#f03018" opacity="0.94" transform="rotate(94 695.3 459.2)"/><ellipse cx="680.8" cy="489.0" rx="3.2" ry="1.7" fill="#c8b818" opacity="0.93" transform="rotate(41 680.8 489.0)"/><ellipse cx="610.9" cy="491.5" rx="3.5" ry="1.6" fill="#f0d820" opacity="0.71" transform="rotate(173 610.9 491.5)"/><ellipse cx="604.1" cy="500.1" rx="3.8" ry="1.6" fill="#e8c814" opacity="0.56" transform="rotate(116 604.1 500.1)"/><ellipse cx="649.6" cy="535.2" rx="4.0" ry="0.8" fill="#e0b010" opacity="0.70" transform="rotate(86 649.6 535.2)"/><ellipse cx="603.7" cy="480.8" rx="2.9" ry="1.5" fill="#f08818" opacity="0.88" transform="rotate(151 603.7 480.8)"/><ellipse cx="600.8" cy="525.6" rx="3.2" ry="1.0" fill="#f08818" opacity="0.94" transform="rotate(119 600.8 525.6)"/><ellipse cx="650.5" cy="558.7" rx="3.5" ry="0.9" fill="#e8c814" opacity="0.75" transform="rotate(162 650.5 558.7)"/><ellipse cx="655.1" cy="581.2" rx="2.2" ry="1.9" fill="#d8a810" opacity="0.65" transform="rotate(28 655.1 581.2)"/><ellipse cx="697.6" cy="549.2" rx="3.6" ry="1.0" fill="#c81410" opacity="0.78" transform="rotate(144 697.6 549.2)"/><ellipse cx="669.2" cy="458.6" rx="2.2" ry="1.9" fill="#c8b818" opacity="0.92" transform="rotate(93 669.2 458.6)"/><ellipse cx="600.4" cy="498.3" rx="3.0" ry="1.8" fill="#f08818" opacity="0.91" transform="rotate(23 600.4 498.3)"/><ellipse cx="684.4" cy="587.1" rx="3.1" ry="0.8" fill="#f08818" opacity="0.78" transform="rotate(136 684.4 587.1)"/><ellipse cx="679.7" cy="466.0" rx="3.7" ry="1.2" fill="#e0b010" opacity="0.72" transform="rotate(13 679.7 466.0)"/><ellipse cx="713.1" cy="475.4" rx="1.8" ry="1.5" fill="#d81818" opacity="0.90" transform="rotate(145 713.1 475.4)"/><ellipse cx="694.8" cy="490.0" rx="1.3" ry="1.4" fill="#d81818" opacity="0.63" transform="rotate(88 694.8 490.0)"/><ellipse cx="607.2" cy="485.5" rx="1.8" ry="1.9" fill="#e8c814" opacity="0.93" transform="rotate(71 607.2 485.5)"/><ellipse cx="710.8" cy="523.4" rx="4.0" ry="1.6" fill="#f0d820" opacity="0.70" transform="rotate(9 710.8 523.4)"/><ellipse cx="702.6" cy="586.4" rx="3.1" ry="1.4" fill="#c81410" opacity="0.87" transform="rotate(30 702.6 586.4)"/><ellipse cx="681.5" cy="589.5" rx="1.3" ry="1.1" fill="#f03018" opacity="0.60" transform="rotate(78 681.5 589.5)"/><ellipse cx="675.4" cy="534.6" rx="1.6" ry="1.3" fill="#d8a810" opacity="0.87" transform="rotate(126 675.4 534.6)"/><ellipse cx="684.4" cy="559.7" rx="3.7" ry="1.7" fill="#e82010" opacity="0.88" transform="rotate(30 684.4 559.7)"/><ellipse cx="645.9" cy="490.4" rx="1.4" ry="1.3" fill="#e0b010" opacity="0.56" transform="rotate(115 645.9 490.4)"/><ellipse cx="728.8" cy="564.0" rx="1.8" ry="1.9" fill="#ff4020" opacity="0.59" transform="rotate(148 728.8 564.0)"/><ellipse cx="629.0" cy="549.6" rx="1.4" ry="1.0" fill="#f08818" opacity="0.93" transform="rotate(110 629.0 549.6)"/><ellipse cx="629.3" cy="580.7" rx="2.7" ry="1.0" fill="#e0b010" opacity="0.68" transform="rotate(171 629.3 580.7)"/><ellipse cx="651.7" cy="551.3" rx="2.8" ry="1.0" fill="#c81410" opacity="0.68" transform="rotate(100 651.7 551.3)"/><ellipse cx="731.5" cy="538.6" rx="2.8" ry="1.4" fill="#f08818" opacity="0.56" transform="rotate(173 731.5 538.6)"/><ellipse cx="641.1" cy="493.1" rx="1.9" ry="1.2" fill="#d81818" opacity="0.90" transform="rotate(14 641.1 493.1)"/><ellipse cx="711.3" cy="497.8" rx="3.6" ry="0.9" fill="#f03018" opacity="0.79" transform="rotate(51 711.3 497.8)"/><ellipse cx="739.9" cy="528.4" rx="3.6" ry="1.8" fill="#e82010" opacity="0.82" transform="rotate(17 739.9 528.4)"/><ellipse cx="629.3" cy="565.8" rx="2.3" ry="1.5" fill="#f08818" opacity="0.61" transform="rotate(142 629.3 565.8)"/><ellipse cx="691.7" cy="492.4" rx="3.1" ry="1.9" fill="#d8a810" opacity="0.92" transform="rotate(99 691.7 492.4)"/><ellipse cx="707.3" cy="470.5" rx="2.2" ry="1.4" fill="#e0b010" opacity="0.65" transform="rotate(138 707.3 470.5)"/><ellipse cx="738.7" cy="507.1" rx="3.0" ry="1.6" fill="#ff4020" opacity="0.56" transform="rotate(38 738.7 507.1)"/><ellipse cx="611.1" cy="539.9" rx="2.7" ry="0.7" fill="#f03018" opacity="0.86" transform="rotate(125 611.1 539.9)"/><ellipse cx="655.3" cy="590.8" rx="2.0" ry="1.7" fill="#d81818" opacity="0.90" transform="rotate(141 655.3 590.8)"/><ellipse cx="680.8" cy="582.8" rx="3.2" ry="1.3" fill="#ff4020" opacity="0.59" transform="rotate(7 680.8 582.8)"/><ellipse cx="702.2" cy="460.3" rx="3.8" ry="1.7" fill="#d86010" opacity="0.65" transform="rotate(170 702.2 460.3)"/><ellipse cx="648.8" cy="460.4" rx="2.3" ry="0.9" fill="#e87010" opacity="0.89" transform="rotate(178 648.8 460.4)"/><ellipse cx="625.4" cy="526.3" rx="1.3" ry="0.9" fill="#ff4020" opacity="0.89" transform="rotate(178 625.4 526.3)"/><ellipse cx="652.4" cy="468.2" rx="3.3" ry="1.3" fill="#f0d820" opacity="0.72" transform="rotate(70 652.4 468.2)"/><ellipse cx="675.3" cy="479.4" rx="1.7" ry="1.2" fill="#e8c814" opacity="0.80" transform="rotate(30 675.3 479.4)"/><ellipse cx="635.2" cy="500.9" rx="2.6" ry="1.9" fill="#d86010" opacity="0.75" transform="rotate(176 635.2 500.9)"/><ellipse cx="703.7" cy="578.8" rx="3.1" ry="1.0" fill="#c81410" opacity="0.85" transform="rotate(120 703.7 578.8)"/><ellipse cx="605.5" cy="530.4" rx="2.6" ry="1.7" fill="#d81818" opacity="0.80" transform="rotate(89 605.5 530.4)"/><ellipse cx="687.5" cy="476.7" rx="3.6" ry="1.4" fill="#d81818" opacity="0.83" transform="rotate(21 687.5 476.7)"/><ellipse cx="642.9" cy="487.8" rx="2.3" ry="1.6" fill="#f08818" opacity="0.94" transform="rotate(44 642.9 487.8)"/><ellipse cx="655.9" cy="472.3" rx="2.9" ry="1.1" fill="#e0b010" opacity="0.60" transform="rotate(96 655.9 472.3)"/><ellipse cx="713.6" cy="461.7" rx="1.7" ry="1.0" fill="#e82010" opacity="0.87" transform="rotate(73 713.6 461.7)"/><ellipse cx="645.7" cy="589.6" rx="1.4" ry="1.7" fill="#e8c814" opacity="0.74" transform="rotate(16 645.7 589.6)"/><ellipse cx="658.3" cy="465.1" rx="2.1" ry="1.7" fill="#e0b010" opacity="0.73" transform="rotate(118 658.3 465.1)"/><ellipse cx="684.6" cy="593.1" rx="3.4" ry="1.2" fill="#ff4020" opacity="0.88" transform="rotate(121 684.6 593.1)"/><ellipse cx="620.7" cy="510.0" rx="2.1" ry="1.0" fill="#e82010" opacity="0.91" transform="rotate(59 620.7 510.0)"/><ellipse cx="736.3" cy="510.0" rx="3.7" ry="1.5" fill="#f03018" opacity="0.81" transform="rotate(158 736.3 510.0)"/><ellipse cx="628.8" cy="572.5" rx="2.3" ry="1.3" fill="#e8c814" opacity="0.83" transform="rotate(49 628.8 572.5)"/><ellipse cx="648.2" cy="463.7" rx="1.8" ry="1.8" fill="#e82010" opacity="0.89" transform="rotate(114 648.2 463.7)"/><ellipse cx="688.7" cy="573.6" rx="2.6" ry="0.9" fill="#e0b010" opacity="0.90" transform="rotate(47 688.7 573.6)"/><ellipse cx="662.1" cy="514.4" rx="3.7" ry="0.9" fill="#e87010" opacity="0.70" transform="rotate(98 662.1 514.4)"/><ellipse cx="613.8" cy="552.4" rx="3.1" ry="1.8" fill="#e8c814" opacity="0.94" transform="rotate(76 613.8 552.4)"/><ellipse cx="722.1" cy="553.2" rx="3.4" ry="1.0" fill="#ff4020" opacity="0.77" transform="rotate(111 722.1 553.2)"/><ellipse cx="688.6" cy="538.1" rx="2.5" ry="1.8" fill="#f0d820" opacity="0.58" transform="rotate(68 688.6 538.1)"/><ellipse cx="602.7" cy="481.4" rx="2.9" ry="0.8" fill="#ff4020" opacity="0.68" transform="rotate(86 602.7 481.4)"/><ellipse cx="650.4" cy="548.2" rx="3.1" ry="0.8" fill="#e82010" opacity="0.83" transform="rotate(28 650.4 548.2)"/><ellipse cx="687.9" cy="538.8" rx="3.7" ry="0.8" fill="#ff4020" opacity="0.55" transform="rotate(73 687.9 538.8)"/><ellipse cx="694.0" cy="447.7" rx="3.3" ry="1.5" fill="#e82010" opacity="0.87" transform="rotate(106 694.0 447.7)"/><ellipse cx="714.3" cy="472.1" rx="3.1" ry="1.4" fill="#e8c814" opacity="0.82" transform="rotate(179 714.3 472.1)"/><ellipse cx="691.4" cy="513.2" rx="1.2" ry="1.6" fill="#f0d820" opacity="0.59" transform="rotate(60 691.4 513.2)"/><ellipse cx="606.4" cy="508.4" rx="3.4" ry="1.0" fill="#e0b010" opacity="0.65" transform="rotate(119 606.4 508.4)"/><ellipse cx="682.9" cy="508.2" rx="1.3" ry="0.8" fill="#f0d820" opacity="0.68" transform="rotate(77 682.9 508.2)"/><ellipse cx="662.8" cy="556.5" rx="1.5" ry="0.9" fill="#c81410" opacity="0.77" transform="rotate(26 662.8 556.5)"/><ellipse cx="608.9" cy="541.4" rx="2.9" ry="1.8" fill="#ff4020" opacity="0.79" transform="rotate(71 608.9 541.4)"/><ellipse cx="664.1" cy="515.3" rx="2.2" ry="1.9" fill="#d86010" opacity="0.72" transform="rotate(101 664.1 515.3)"/><ellipse cx="616.1" cy="501.8" rx="3.4" ry="1.2" fill="#f03018" opacity="0.77" transform="rotate(22 616.1 501.8)"/><ellipse cx="663.6" cy="576.7" rx="3.2" ry="1.9" fill="#e8c814" opacity="0.92" transform="rotate(103 663.6 576.7)"/><ellipse cx="629.3" cy="490.7" rx="1.7" ry="1.9" fill="#c8b818" opacity="0.75" transform="rotate(94 629.3 490.7)"/><ellipse cx="682.8" cy="496.8" rx="3.1" ry="1.0" fill="#c8b818" opacity="0.60" transform="rotate(110 682.8 496.8)"/><ellipse cx="704.8" cy="460.6" rx="1.6" ry="0.9" fill="#e87010" opacity="0.64" transform="rotate(171 704.8 460.6)"/><ellipse cx="625.3" cy="538.7" rx="2.6" ry="1.0" fill="#ff4020" opacity="0.93" transform="rotate(20 625.3 538.7)"/></g></g><g clip-path="url(#tisclip)"><path d="M620.0 531.9Q624.9 537.9 628.1 542.3M674.3 468.2Q665.6 468.0 659.9 468.8M662.4 453.7Q656.2 457.3 649.3 459.8M744.9 542.0Q734.6 547.9 724.8 549.8M624.1 482.5Q615.5 481.0 609.2 483.7M622.1 535.1Q626.3 541.4 625.2 549.6M708.3 497.6Q709.7 507.5 715.2 512.5M627.6 550.0Q628.9 553.0 628.4 560.4M662.0 499.8Q653.8 498.6 650.1 501.7M652.3 449.1Q655.5 453.5 663.0 453.5M626.5 490.7Q629.3 492.4 634.8 499.2M637.6 571.9Q639.8 572.6 645.9 577.3M652.8 566.4Q658.2 576.4 658.0 583.0M630.5 498.8Q625.7 503.8 619.8 503.3M724.8 559.4Q723.2 566.6 721.7 568.5M686.0 469.9Q684.0 479.9 686.6 486.2M664.1 486.4Q655.7 489.6 644.1 496.0M641.2 543.9Q629.7 551.1 623.3 557.9M643.7 467.5Q646.2 480.8 645.7 490.1M719.0 500.4Q730.6 500.7 742.1 505.8M619.6 554.5Q608.4 555.0 602.4 559.5M723.7 476.8Q717.9 482.7 709.0 486.4M655.0 470.3Q656.4 479.9 656.8 485.8M708.9 564.2Q714.0 565.3 719.8 570.2M652.0 482.5Q661.8 486.8 667.5 490.0M620.5 512.6Q613.1 514.2 610.7 519.0M704.2 554.5Q708.5 560.6 715.6 561.2M710.1 566.9Q706.5 576.1 700.6 579.5M648.1 480.6Q649.8 487.1 654.1 497.9M660.6 465.0Q652.5 467.9 643.7 468.7M717.7 564.3Q722.6 564.5 730.4 566.9M635.8 447.3Q642.4 454.0 653.2 456.4M647.3 532.4Q646.2 538.6 645.6 542.5M691.0 500.3Q700.4 502.9 713.5 504.1M646.8 456.4Q645.3 465.4 643.4 470.9M653.2 488.5Q645.8 495.7 644.4 501.1M653.5 549.8Q655.2 556.6 653.8 562.8M649.4 544.5Q642.3 547.1 637.4 545.6M630.4 498.2Q629.1 506.8 623.8 513.8M680.8 524.1Q686.4 531.3 686.6 538.0M684.7 517.3Q684.8 525.0 681.6 527.7M674.0 483.5Q669.3 485.9 660.0 488.5M602.3 520.1Q599.6 523.5 598.1 528.4M649.9 458.5Q657.0 469.3 658.5 478.4M688.2 498.9Q684.4 503.1 683.3 509.4M668.3 586.1Q671.9 593.7 670.9 603.0M603.0 548.1Q610.5 551.7 618.4 557.5M685.5 575.1Q681.6 582.8 675.6 594.6M604.9 526.4Q598.4 530.7 588.5 530.8M664.6 463.4Q667.4 461.3 675.9 464.6M719.8 529.2Q721.9 533.2 721.9 538.8M674.5 484.4Q668.0 489.5 660.5 490.9M624.8 510.5Q621.9 519.8 620.1 529.1M628.0 525.4Q617.6 525.5 611.1 529.7M714.3 493.8Q720.5 493.6 728.4 497.2M639.0 494.9Q627.9 501.3 617.3 503.6M650.2 446.5Q659.4 451.5 671.1 457.3M725.7 498.7Q734.8 504.8 745.8 505.5M603.0 506.0Q601.5 511.2 598.7 515.6M648.5 483.7Q642.3 491.9 637.4 497.7M629.5 548.3Q622.4 557.1 617.8 566.3M602.7 526.6Q597.8 535.4 596.0 543.4M662.6 520.2Q664.6 530.4 661.5 538.0M636.8 460.6Q626.3 463.5 617.7 461.0M706.7 556.7Q710.2 562.9 719.0 570.5M633.5 469.6Q621.4 474.6 613.9 475.3M646.7 542.3Q647.4 548.6 653.0 553.9M624.7 542.2Q634.1 543.2 640.1 542.4M718.2 541.0Q719.1 543.2 725.1 548.9M707.3 484.2Q709.7 492.4 710.6 497.5M678.5 492.7Q673.3 496.3 672.9 505.2M687.2 560.7Q692.7 559.3 702.9 563.1M737.2 536.4Q731.2 537.7 719.4 538.6M644.8 496.4Q632.4 502.9 626.0 511.3M654.4 551.0Q643.4 551.6 633.5 552.0M691.1 508.6Q693.2 511.1 696.6 514.8M620.7 481.5Q630.0 485.3 638.8 486.7M729.3 547.6Q726.7 548.8 720.5 549.2M687.0 469.4Q692.0 476.0 695.5 484.7M623.8 509.1Q617.0 511.3 615.5 513.7M644.4 455.6Q652.6 459.3 660.1 468.4M680.6 450.6Q679.8 453.1 683.9 460.9M689.7 560.3Q691.7 563.5 697.8 561.2M639.3 496.5Q646.5 507.3 649.3 512.3M653.7 585.5Q654.4 591.4 649.6 593.1M606.1 536.6Q606.6 543.2 610.7 545.2M687.3 568.9Q695.7 569.1 707.1 574.3M668.5 526.6Q663.6 535.0 654.0 538.8M710.1 459.6Q706.8 458.2 700.2 461.0M731.5 507.2Q727.1 515.0 722.3 524.6M681.6 484.3Q673.6 492.3 668.4 494.5M690.0 537.2Q695.8 538.1 697.0 544.2M739.7 533.6Q735.3 542.0 734.0 555.3M661.8 585.3Q660.1 592.3 664.3 604.4M643.7 489.9Q653.8 496.5 659.8 507.8M730.1 545.1Q722.9 546.4 718.5 551.1M721.7 508.0Q715.2 514.5 710.6 517.9M616.6 516.7Q607.8 518.8 598.4 518.3M688.8 464.9Q693.4 469.3 692.9 476.5M695.6 542.6Q695.0 550.2 699.4 554.1M656.5 465.3Q647.2 465.1 637.5 465.9M615.1 455.8Q624.2 460.7 638.2 461.9M662.2 576.3Q668.7 581.6 674.2 586.1M629.8 564.4Q633.0 563.7 638.6 565.7M710.4 489.6Q705.5 488.0 698.3 490.9M641.2 552.7Q653.9 557.2 663.6 556.3M704.9 463.1Q710.0 472.2 716.2 480.6M698.0 481.9Q705.8 482.1 712.2 482.6M644.9 513.4Q639.4 518.3 638.5 518.9M703.5 510.1Q697.3 516.7 692.3 523.8M651.7 513.5Q654.2 517.1 654.9 525.4M655.7 521.7Q661.3 524.2 667.9 526.2M687.9 547.8Q685.6 559.4 681.4 569.7M665.5 497.2Q669.6 505.3 674.5 515.8M692.7 477.9Q699.3 478.8 704.0 482.3M690.8 475.9Q696.5 485.4 699.1 495.8M624.3 480.7Q632.3 486.9 636.2 487.9M604.2 501.7Q603.7 507.7 598.2 508.9M617.9 544.6Q627.7 546.8 639.2 550.6M647.0 568.7Q647.9 577.0 650.5 586.7M641.3 494.2Q650.1 498.1 659.3 507.4M681.6 457.0Q680.6 463.8 682.8 467.9M664.5 589.2Q656.0 593.3 644.7 595.7M686.2 467.4Q691.7 472.5 700.4 481.6M615.6 524.5Q608.6 523.7 603.9 528.6M697.5 476.6Q698.0 482.0 702.0 485.3M633.3 540.3Q633.0 546.3 628.9 552.8M670.4 562.8Q677.8 568.7 682.6 578.9M672.8 470.8Q663.4 476.5 657.4 478.3M624.0 542.9Q617.4 543.5 606.4 548.9M717.8 493.2Q709.5 494.7 704.5 494.4M693.8 488.2Q694.2 490.1 691.8 496.5M614.3 550.0Q619.1 550.6 626.6 556.2M685.3 509.5Q684.8 511.9 689.1 518.5M642.9 452.2Q650.1 451.9 659.8 453.1M701.0 467.0Q706.1 473.6 708.2 479.1M716.7 485.1Q723.3 492.4 731.3 497.7M731.4 500.7Q728.3 506.3 727.2 512.6M614.8 554.3Q612.7 560.4 609.5 561.9M644.8 466.4Q635.7 473.8 625.3 478.2M678.9 513.6Q670.5 515.1 658.3 520.3M636.3 488.8Q645.6 492.2 656.6 492.3M717.7 462.1Q707.0 469.8 699.6 477.7M613.4 457.6Q614.8 467.1 613.9 479.4M687.7 446.4Q688.3 454.5 688.5 460.6M690.8 453.9Q703.7 459.4 712.7 461.3M705.2 482.7Q710.1 488.2 713.3 490.7M727.8 540.2Q728.4 549.5 731.0 562.8M671.1 546.1Q668.0 555.6 664.2 560.7M676.6 458.4Q669.6 464.2 659.6 465.9" fill="none" stroke="#f02818" stroke-width="0.9" opacity="0.85" filter="url(#flb1)"/></g><ellipse cx="668.0" cy="519.4" rx="79.5" ry="81.5" fill="url(#tisvig)"/><g filter="url(#flb1)"><ellipse cx="680.1" cy="497.4" rx="2.6" ry="1.2" fill="#eec414" opacity="0.90" transform="rotate(3 680.1 497.4)"/><ellipse cx="735.1" cy="514.3" rx="1.9" ry="1.7" fill="#f4dc18" opacity="0.78" transform="rotate(50 735.1 514.3)"/><ellipse cx="671.2" cy="545.4" rx="3.3" ry="1.6" fill="#f0d010" opacity="0.86" transform="rotate(85 671.2 545.4)"/><ellipse cx="704.5" cy="495.5" rx="3.6" ry="2.0" fill="#ffe820" opacity="0.94" transform="rotate(90 704.5 495.5)"/><ellipse cx="639.3" cy="469.5" rx="2.1" ry="1.5" fill="#f0d010" opacity="0.79" transform="rotate(173 639.3 469.5)"/><ellipse cx="640.0" cy="571.9" rx="2.4" ry="1.8" fill="#f4dc18" opacity="0.72" transform="rotate(126 640.0 571.9)"/><ellipse cx="671.5" cy="453.0" rx="3.5" ry="1.1" fill="#ffe820" opacity="0.91" transform="rotate(144 671.5 453.0)"/><ellipse cx="627.3" cy="488.0" rx="2.8" ry="1.5" fill="#ffe820" opacity="0.80" transform="rotate(137 627.3 488.0)"/><ellipse cx="692.7" cy="541.6" rx="3.4" ry="1.0" fill="#f0d010" opacity="0.94" transform="rotate(120 692.7 541.6)"/><ellipse cx="665.7" cy="590.7" rx="2.0" ry="1.0" fill="#f0d010" opacity="0.80" transform="rotate(68 665.7 590.7)"/><ellipse cx="681.7" cy="486.5" rx="2.0" ry="1.7" fill="#eec414" opacity="0.86" transform="rotate(66 681.7 486.5)"/><ellipse cx="706.9" cy="545.1" rx="2.3" ry="1.7" fill="#ffe820" opacity="0.94" transform="rotate(82 706.9 545.1)"/><ellipse cx="647.0" cy="563.7" rx="2.8" ry="1.2" fill="#f4dc18" opacity="0.87" transform="rotate(111 647.0 563.7)"/><ellipse cx="647.9" cy="499.5" rx="3.8" ry="1.9" fill="#f4dc18" opacity="0.79" transform="rotate(83 647.9 499.5)"/><ellipse cx="631.1" cy="566.8" rx="4.5" ry="1.8" fill="#ffe820" opacity="0.80" transform="rotate(118 631.1 566.8)"/><ellipse cx="608.4" cy="484.4" rx="2.2" ry="1.9" fill="#f0d010" opacity="0.78" transform="rotate(158 608.4 484.4)"/><ellipse cx="640.8" cy="535.9" rx="3.7" ry="1.2" fill="#f4dc18" opacity="0.92" transform="rotate(12 640.8 535.9)"/><ellipse cx="715.7" cy="517.0" rx="2.9" ry="1.7" fill="#f0d010" opacity="0.78" transform="rotate(173 715.7 517.0)"/><ellipse cx="675.9" cy="555.2" rx="4.1" ry="1.1" fill="#ffe820" opacity="0.74" transform="rotate(0 675.9 555.2)"/><ellipse cx="714.4" cy="523.0" rx="2.3" ry="1.8" fill="#f0d010" opacity="0.75" transform="rotate(109 714.4 523.0)"/><ellipse cx="638.3" cy="550.5" rx="2.5" ry="1.4" fill="#ffe820" opacity="0.75" transform="rotate(60 638.3 550.5)"/><ellipse cx="684.4" cy="569.1" rx="3.4" ry="1.2" fill="#f4dc18" opacity="0.72" transform="rotate(94 684.4 569.1)"/><ellipse cx="624.8" cy="468.7" rx="3.2" ry="1.2" fill="#ffe820" opacity="0.83" transform="rotate(153 624.8 468.7)"/><ellipse cx="686.7" cy="568.3" rx="3.4" ry="1.1" fill="#f4dc18" opacity="0.80" transform="rotate(85 686.7 568.3)"/><ellipse cx="673.4" cy="488.3" rx="3.1" ry="1.3" fill="#f4dc18" opacity="0.85" transform="rotate(136 673.4 488.3)"/><ellipse cx="643.6" cy="463.1" rx="1.9" ry="1.7" fill="#ffe820" opacity="0.76" transform="rotate(74 643.6 463.1)"/><ellipse cx="653.5" cy="525.0" rx="2.6" ry="1.1" fill="#f0d010" opacity="0.91" transform="rotate(77 653.5 525.0)"/><ellipse cx="698.2" cy="519.5" rx="4.4" ry="1.6" fill="#f4dc18" opacity="0.75" transform="rotate(127 698.2 519.5)"/><ellipse cx="678.4" cy="450.4" rx="4.5" ry="1.4" fill="#f0d010" opacity="0.75" transform="rotate(42 678.4 450.4)"/><ellipse cx="703.1" cy="481.8" rx="3.5" ry="1.7" fill="#f4dc18" opacity="0.72" transform="rotate(90 703.1 481.8)"/><ellipse cx="678.6" cy="579.2" rx="4.1" ry="1.8" fill="#f4dc18" opacity="0.76" transform="rotate(98 678.6 579.2)"/><ellipse cx="628.4" cy="505.9" rx="3.3" ry="1.6" fill="#ffe820" opacity="0.78" transform="rotate(55 628.4 505.9)"/><ellipse cx="663.9" cy="522.1" rx="2.0" ry="1.1" fill="#f4dc18" opacity="0.72" transform="rotate(152 663.9 522.1)"/><ellipse cx="714.4" cy="541.2" rx="3.9" ry="1.1" fill="#f4dc18" opacity="0.88" transform="rotate(133 714.4 541.2)"/></g><g filter="url(#rimf)"><path d="M661.2 599.1A78.0 80.0 0 0 1 590.3 512.4" fill="none" stroke="#38dc9a" stroke-width="5.500" stroke-linecap="round"/><path d="M590.3 512.4A78.0 80.0 0 0 1 657.1 440.2" fill="none" stroke="#2bb87a" stroke-width="4.600" stroke-linecap="round"/><path d="M657.1 439.7A78.5 80.5 0 0 1 692.3 442.8" fill="none" stroke="#35c27a" stroke-width="3" stroke-linecap="round" opacity="0.9"/><path d="M692.3 442.8A78.5 80.5 0 0 1 745.7 508.2" fill="none" stroke="#3aa860" stroke-width="0.900" opacity="0.4"/><path d="M747.0 516.6A79.0 80.5 0 0 1 705.1 590.5" fill="none" stroke="#2fd08a" stroke-width="4.500" stroke-linecap="round"/><path d="M704.9 590.5A78.5 80.5 0 0 1 661.2 599.6" fill="none" stroke="#38b070" stroke-width="2.500" opacity="0.8"/><circle cx="603.9" cy="562.4" r="1.2" fill="#28c888" opacity="0.85"/><circle cx="598.9" cy="487.0" r="1.7" fill="#46e6a6" opacity="0.85"/><circle cx="615.9" cy="458.0" r="0.9" fill="#46e6a6" opacity="0.85"/><circle cx="656.9" cy="441.2" r="0.8" fill="#5af0b0" opacity="0.85"/><circle cx="618.2" cy="459.7" r="1.3" fill="#30d890" opacity="0.85"/><circle cx="626.0" cy="453.1" r="1.8" fill="#5af0b0" opacity="0.85"/><circle cx="595.3" cy="484.6" r="1.2" fill="#5af0b0" opacity="0.85"/><circle cx="633.7" cy="592.3" r="1.6" fill="#5af0b0" opacity="0.85"/><circle cx="587.6" cy="516.3" r="1.8" fill="#9ae84a" opacity="0.85"/><circle cx="591.6" cy="516.3" r="1.7" fill="#28c888" opacity="0.85"/><circle cx="592.6" cy="511.0" r="1.9" fill="#9ae84a" opacity="0.85"/><circle cx="638.6" cy="443.8" r="0.8" fill="#5af0b0" opacity="0.85"/><circle cx="660.0" cy="598.2" r="1.8" fill="#28c888" opacity="0.85"/><circle cx="600.7" cy="562.7" r="1.3" fill="#46e6a6" opacity="0.85"/><circle cx="587.2" cy="520.3" r="1.3" fill="#28c888" opacity="0.85"/><circle cx="643.4" cy="597.0" r="1.0" fill="#9ae84a" opacity="0.85"/><circle cx="657.9" cy="596.1" r="1.3" fill="#9ae84a" opacity="0.85"/><circle cx="610.7" cy="577.0" r="1.0" fill="#28c888" opacity="0.85"/><circle cx="623.2" cy="457.2" r="1.1" fill="#30d890" opacity="0.85"/><circle cx="638.6" cy="445.5" r="1.7" fill="#9ae84a" opacity="0.85"/><circle cx="656.7" cy="597.2" r="1.3" fill="#9ae84a" opacity="0.85"/><circle cx="626.2" cy="453.8" r="1.3" fill="#30d890" opacity="0.85"/><circle cx="615.9" cy="582.1" r="1.7" fill="#28c888" opacity="0.85"/><circle cx="590.9" cy="519.0" r="0.8" fill="#28c888" opacity="0.85"/><circle cx="648.5" cy="595.5" r="1.8" fill="#30d890" opacity="0.85"/><circle cx="601.2" cy="476.5" r="1.1" fill="#46e6a6" opacity="0.85"/><circle cx="646.6" cy="595.0" r="0.8" fill="#5af0b0" opacity="0.85"/><circle cx="602.5" cy="475.0" r="1.2" fill="#30d890" opacity="0.85"/><circle cx="638.2" cy="593.7" r="1.3" fill="#9ae84a" opacity="0.85"/><circle cx="608.9" cy="466.9" r="1.0" fill="#9ae84a" opacity="0.85"/><circle cx="625.6" cy="589.2" r="1.7" fill="#9ae84a" opacity="0.85"/><circle cx="633.9" cy="593.2" r="1.6" fill="#9ae84a" opacity="0.85"/><circle cx="592.4" cy="528.1" r="0.9" fill="#46e6a6" opacity="0.85"/><circle cx="605.4" cy="473.0" r="1.8" fill="#28c888" opacity="0.85"/><circle cx="597.9" cy="552.7" r="1.0" fill="#30d890" opacity="0.85"/><circle cx="630.2" cy="449.7" r="1.7" fill="#28c888" opacity="0.85"/><circle cx="621.7" cy="452.2" r="1.4" fill="#9ae84a" opacity="0.85"/><circle cx="600.0" cy="561.1" r="1.2" fill="#5af0b0" opacity="0.85"/><circle cx="597.0" cy="556.8" r="1.7" fill="#5af0b0" opacity="0.85"/><circle cx="635.5" cy="591.3" r="1.0" fill="#28c888" opacity="0.85"/><circle cx="655.3" cy="596.3" r="1.9" fill="#9ae84a" opacity="0.85"/><circle cx="645.8" cy="594.4" r="1.0" fill="#5af0b0" opacity="0.85"/><circle cx="626.1" cy="583.5" r="1.6" fill="#5af0b0" opacity="0.85"/><circle cx="612.6" cy="575.6" r="1.6" fill="#9ae84a" opacity="0.85"/><circle cx="596.5" cy="547.6" r="0.8" fill="#9ae84a" opacity="0.85"/><circle cx="620.6" cy="579.5" r="1.6" fill="#28c888" opacity="0.85"/><circle cx="609.3" cy="568.5" r="1.9" fill="#5af0b0" opacity="0.85"/><circle cx="638.5" cy="592.6" r="1.9" fill="#30d890" opacity="0.85"/><circle cx="591.9" cy="538.6" r="2.0" fill="#5af0b0" opacity="0.85"/><circle cx="632.0" cy="449.6" r="1.6" fill="#5af0b0" opacity="0.85"/><circle cx="600.3" cy="556.0" r="1.0" fill="#9ae84a" opacity="0.85"/><circle cx="612.5" cy="574.4" r="1.2" fill="#30d890" opacity="0.85"/><circle cx="605.4" cy="570.7" r="0.9" fill="#5af0b0" opacity="0.85"/><circle cx="646.6" cy="594.0" r="1.6" fill="#30d890" opacity="0.85"/><circle cx="637.5" cy="592.9" r="1.0" fill="#5af0b0" opacity="0.85"/><circle cx="627.5" cy="453.3" r="1.8" fill="#46e6a6" opacity="0.85"/><circle cx="618.4" cy="456.0" r="1.5" fill="#9ae84a" opacity="0.85"/><circle cx="590.3" cy="540.1" r="1.7" fill="#46e6a6" opacity="0.85"/><circle cx="603.6" cy="563.7" r="1.5" fill="#5af0b0" opacity="0.85"/><circle cx="590.6" cy="517.6" r="1.6" fill="#28c888" opacity="0.85"/><circle cx="646.3" cy="593.4" r="1.5" fill="#5af0b0" opacity="0.85"/><circle cx="634.1" cy="446.8" r="1.4" fill="#28c888" opacity="0.85"/><circle cx="591.0" cy="537.9" r="1.8" fill="#28c888" opacity="0.85"/><circle cx="653.5" cy="596.9" r="1.1" fill="#5af0b0" opacity="0.85"/><circle cx="591.7" cy="511.2" r="0.9" fill="#30d890" opacity="0.85"/><circle cx="594.3" cy="551.8" r="1.1" fill="#46e6a6" opacity="0.85"/><circle cx="623.9" cy="451.7" r="1.6" fill="#28c888" opacity="0.85"/><circle cx="613.5" cy="460.0" r="1.5" fill="#30d890" opacity="0.85"/><circle cx="592.7" cy="506.7" r="1.1" fill="#9ae84a" opacity="0.85"/><circle cx="601.7" cy="476.9" r="1.8" fill="#9ae84a" opacity="0.85"/><circle cx="715.4" cy="583.9" r="1.5" fill="#46e6a6" opacity="0.85"/><circle cx="744.7" cy="524.6" r="1.3" fill="#46e6a6" opacity="0.85"/><circle cx="743.9" cy="537.2" r="1.7" fill="#46e6a6" opacity="0.85"/><circle cx="728.7" cy="572.1" r="1.3" fill="#46e6a6" opacity="0.85"/><circle cx="743.9" cy="541.4" r="0.8" fill="#46e6a6" opacity="0.85"/><circle cx="711.0" cy="584.2" r="1.7" fill="#46e6a6" opacity="0.85"/><circle cx="731.1" cy="564.5" r="0.8" fill="#46e6a6" opacity="0.85"/><circle cx="708.0" cy="586.6" r="1.6" fill="#46e6a6" opacity="0.85"/><circle cx="742.6" cy="550.9" r="1.4" fill="#46e6a6" opacity="0.85"/><circle cx="744.2" cy="541.9" r="1.4" fill="#46e6a6" opacity="0.85"/><circle cx="715.2" cy="582.6" r="1.8" fill="#46e6a6" opacity="0.85"/><circle cx="720.6" cy="578.5" r="1.3" fill="#46e6a6" opacity="0.85"/><circle cx="735.5" cy="557.8" r="1.5" fill="#46e6a6" opacity="0.85"/><circle cx="740.3" cy="548.6" r="1.6" fill="#46e6a6" opacity="0.85"/><circle cx="719.0" cy="581.9" r="0.9" fill="#46e6a6" opacity="0.85"/><circle cx="745.0" cy="544.0" r="1.0" fill="#46e6a6" opacity="0.85"/><circle cx="743.4" cy="544.1" r="1.3" fill="#46e6a6" opacity="0.85"/><circle cx="727.8" cy="572.7" r="0.9" fill="#46e6a6" opacity="0.85"/><circle cx="721.9" cy="576.4" r="1.0" fill="#46e6a6" opacity="0.85"/><circle cx="723.6" cy="577.4" r="1.3" fill="#46e6a6" opacity="0.85"/><circle cx="721.3" cy="576.1" r="1.7" fill="#46e6a6" opacity="0.85"/><circle cx="721.8" cy="579.1" r="1.6" fill="#46e6a6" opacity="0.85"/><ellipse cx="597.8" cy="485.8" rx="3" ry="1.800" fill="#c8e020" opacity="0.9" transform="rotate(295 597.8 485.8)"/><ellipse cx="602.3" cy="477.3" rx="3" ry="1.800" fill="#c8e020" opacity="0.9" transform="rotate(302 602.3 477.3)"/><ellipse cx="624.7" cy="453.5" rx="3" ry="1.800" fill="#c8e020" opacity="0.9" transform="rotate(326 624.7 453.5)"/><ellipse cx="641.5" cy="444.7" rx="3" ry="1.800" fill="#c8e020" opacity="0.9" transform="rotate(340 641.5 444.7)"/></g><g filter="url(#flb1)"><ellipse cx="723.3" cy="490.4" rx="1.8" ry="1.8" fill="#3838e0" opacity="0.95" transform="rotate(105 723.3 490.4)"/><ellipse cx="697.6" cy="567.6" rx="2.2" ry="2.0" fill="#5a48ff" opacity="0.87" transform="rotate(18 697.6 567.6)"/><ellipse cx="726.8" cy="515.0" rx="2.3" ry="2.2" fill="#3838e0" opacity="0.83" transform="rotate(60 726.8 515.0)"/><ellipse cx="659.8" cy="550.4" rx="2.7" ry="1.5" fill="#4848ff" opacity="0.91" transform="rotate(152 659.8 550.4)"/><ellipse cx="668.4" cy="485.6" rx="2.0" ry="1.9" fill="#3838e0" opacity="0.99" transform="rotate(35 668.4 485.6)"/><ellipse cx="632.2" cy="476.2" rx="2.8" ry="1.9" fill="#3838e0" opacity="0.78" transform="rotate(105 632.2 476.2)"/><ellipse cx="676.8" cy="489.7" rx="2.6" ry="2.3" fill="#4848ff" opacity="0.96" transform="rotate(143 676.8 489.7)"/><ellipse cx="635.4" cy="462.4" rx="2.6" ry="1.9" fill="#4848ff" opacity="0.83" transform="rotate(180 635.4 462.4)"/><ellipse cx="646.5" cy="471.8" rx="2.9" ry="1.5" fill="#4040f0" opacity="0.80" transform="rotate(80 646.5 471.8)"/><ellipse cx="667.5" cy="456.5" rx="2.5" ry="2.3" fill="#5a48ff" opacity="0.81" transform="rotate(69 667.5 456.5)"/><ellipse cx="609.3" cy="550.5" rx="1.7" ry="1.5" fill="#4040f0" opacity="0.88" transform="rotate(24 609.3 550.5)"/><ellipse cx="627.3" cy="526.5" rx="2.2" ry="2.0" fill="#7a40e8" opacity="0.75" transform="rotate(2 627.3 526.5)"/><ellipse cx="728.8" cy="505.5" rx="2.3" ry="2.3" fill="#9048d8" opacity="0.87" transform="rotate(59 728.8 505.5)"/><ellipse cx="647.9" cy="587.7" rx="2.9" ry="1.6" fill="#7a40e8" opacity="0.78" transform="rotate(135 647.9 587.7)"/><ellipse cx="612.0" cy="561.2" rx="2.6" ry="1.5" fill="#7a40e8" opacity="0.98" transform="rotate(174 612.0 561.2)"/><ellipse cx="694.7" cy="497.5" rx="2.0" ry="1.7" fill="#7a40e8" opacity="0.89" transform="rotate(85 694.7 497.5)"/><ellipse cx="713.1" cy="472.6" rx="2.8" ry="2.2" fill="#5a48ff" opacity="0.76" transform="rotate(12 713.1 472.6)"/><ellipse cx="672.9" cy="573.4" rx="1.8" ry="1.8" fill="#5a48ff" opacity="0.98" transform="rotate(150 672.9 573.4)"/><ellipse cx="653.1" cy="591.8" rx="2.9" ry="1.5" fill="#3838e0" opacity="0.90" transform="rotate(117 653.1 591.8)"/><ellipse cx="711.1" cy="563.0" rx="2.0" ry="1.5" fill="#5a48ff" opacity="0.88" transform="rotate(55 711.1 563.0)"/><ellipse cx="706.9" cy="499.3" rx="2.8" ry="2.1" fill="#4848ff" opacity="0.81" transform="rotate(158 706.9 499.3)"/><ellipse cx="725.9" cy="499.4" rx="2.7" ry="2.1" fill="#9048d8" opacity="0.82" transform="rotate(168 725.9 499.4)"/><ellipse cx="710.5" cy="511.9" rx="2.9" ry="1.5" fill="#5a48ff" opacity="0.76" transform="rotate(66 710.5 511.9)"/><ellipse cx="630.0" cy="538.3" rx="2.2" ry="1.9" fill="#7a40e8" opacity="0.82" transform="rotate(130 630.0 538.3)"/><ellipse cx="680.3" cy="547.2" rx="2.0" ry="2.2" fill="#4848ff" opacity="0.92" transform="rotate(30 680.3 547.2)"/><ellipse cx="649.3" cy="507.1" rx="2.4" ry="1.6" fill="#9048d8" opacity="0.94" transform="rotate(108 649.3 507.1)"/><ellipse cx="717.3" cy="516.7" rx="1.9" ry="1.6" fill="#5a48ff" opacity="0.75" transform="rotate(114 717.3 516.7)"/><ellipse cx="666.0" cy="479.1" rx="2.0" ry="2.1" fill="#3838e0" opacity="0.85" transform="rotate(78 666.0 479.1)"/><ellipse cx="634.7" cy="553.1" rx="2.9" ry="1.7" fill="#5a48ff" opacity="0.87" transform="rotate(90 634.7 553.1)"/><ellipse cx="713.7" cy="561.3" rx="2.8" ry="1.5" fill="#4848ff" opacity="0.91" transform="rotate(45 713.7 561.3)"/><ellipse cx="680.8" cy="551.2" rx="2.1" ry="2.1" fill="#3838e0" opacity="0.78" transform="rotate(170 680.8 551.2)"/><ellipse cx="672.9" cy="479.7" rx="2.8" ry="1.4" fill="#7a40e8" opacity="1.00" transform="rotate(124 672.9 479.7)"/><ellipse cx="639.1" cy="508.2" rx="2.5" ry="2.3" fill="#4848ff" opacity="0.75" transform="rotate(80 639.1 508.2)"/><ellipse cx="641.2" cy="545.6" rx="2.1" ry="1.4" fill="#4848ff" opacity="0.79" transform="rotate(11 641.2 545.6)"/><ellipse cx="710.9" cy="550.5" rx="2.7" ry="2.1" fill="#4848ff" opacity="0.80" transform="rotate(84 710.9 550.5)"/><ellipse cx="672.2" cy="519.2" rx="1.8" ry="2.1" fill="#7a40e8" opacity="0.91" transform="rotate(53 672.2 519.2)"/><ellipse cx="670.6" cy="449.9" rx="2.5" ry="2.3" fill="#4040f0" opacity="0.83" transform="rotate(152 670.6 449.9)"/><ellipse cx="621.5" cy="522.4" rx="2.1" ry="2.2" fill="#5a48ff" opacity="0.85" transform="rotate(154 621.5 522.4)"/><ellipse cx="607.7" cy="478.6" rx="1.9" ry="2.2" fill="#4848ff" opacity="0.81" transform="rotate(62 607.7 478.6)"/><ellipse cx="701.2" cy="516.8" rx="2.8" ry="2.3" fill="#4040f0" opacity="0.91" transform="rotate(103 701.2 516.8)"/><ellipse cx="669.7" cy="536.9" rx="1.9" ry="1.8" fill="#4040f0" opacity="0.80" transform="rotate(4 669.7 536.9)"/><ellipse cx="682.6" cy="518.4" rx="2.5" ry="1.4" fill="#3838e0" opacity="0.81" transform="rotate(69 682.6 518.4)"/><ellipse cx="698.7" cy="473.3" rx="1.9" ry="1.5" fill="#9048d8" opacity="0.77" transform="rotate(86 698.7 473.3)"/><ellipse cx="728.3" cy="495.2" rx="1.9" ry="2.3" fill="#4040f0" opacity="0.97" transform="rotate(156 728.3 495.2)"/><ellipse cx="629.6" cy="499.5" rx="2.0" ry="2.2" fill="#9048d8" opacity="0.94" transform="rotate(113 629.6 499.5)"/><ellipse cx="705.8" cy="526.5" rx="2.5" ry="1.6" fill="#3838e0" opacity="0.82" transform="rotate(142 705.8 526.5)"/><ellipse cx="644.4" cy="485.0" rx="1.7" ry="1.9" fill="#4040f0" opacity="0.85" transform="rotate(132 644.4 485.0)"/><ellipse cx="662.0" cy="561.6" rx="2.2" ry="1.9" fill="#4848ff" opacity="1.00" transform="rotate(76 662.0 561.6)"/><ellipse cx="713.7" cy="540.2" rx="2.0" ry="1.6" fill="#4848ff" opacity="0.79" transform="rotate(170 713.7 540.2)"/><ellipse cx="648.0" cy="542.4" rx="2.0" ry="2.2" fill="#4040f0" opacity="0.99" transform="rotate(179 648.0 542.4)"/><ellipse cx="663.2" cy="578.3" rx="2.3" ry="1.8" fill="#3838e0" opacity="0.86" transform="rotate(135 663.2 578.3)"/><ellipse cx="678.0" cy="568.0" rx="2.5" ry="2.2" fill="#4848ff" opacity="0.81" transform="rotate(43 678.0 568.0)"/><ellipse cx="643.1" cy="582.6" rx="3.0" ry="2.1" fill="#9048d8" opacity="0.86" transform="rotate(28 643.1 582.6)"/><ellipse cx="648.7" cy="538.9" rx="2.9" ry="1.6" fill="#4040f0" opacity="0.95" transform="rotate(17 648.7 538.9)"/><ellipse cx="650.9" cy="582.0" rx="2.1" ry="1.6" fill="#5a48ff" opacity="0.86" transform="rotate(38 650.9 582.0)"/><ellipse cx="671.7" cy="551.9" rx="2.1" ry="1.5" fill="#9048d8" opacity="0.95" transform="rotate(50 671.7 551.9)"/><ellipse cx="698.6" cy="512.9" rx="2.5" ry="1.8" fill="#3838e0" opacity="0.84" transform="rotate(96 698.6 512.9)"/><ellipse cx="733.3" cy="501.0" rx="2.5" ry="1.9" fill="#4848ff" opacity="0.84" transform="rotate(174 733.3 501.0)"/><ellipse cx="704.3" cy="513.7" rx="2.2" ry="1.4" fill="#9048d8" opacity="0.99" transform="rotate(15 704.3 513.7)"/><ellipse cx="716.5" cy="541.2" rx="2.8" ry="1.6" fill="#5a48ff" opacity="0.97" transform="rotate(144 716.5 541.2)"/><ellipse cx="600.0" cy="537.1" rx="2.8" ry="1.5" fill="#4040f0" opacity="0.95" transform="rotate(28 600.0 537.1)"/><ellipse cx="616.3" cy="497.5" rx="2.6" ry="1.5" fill="#5a48ff" opacity="0.85" transform="rotate(99 616.3 497.5)"/><ellipse cx="664.3" cy="550.7" rx="2.4" ry="2.1" fill="#4040f0" opacity="0.81" transform="rotate(170 664.3 550.7)"/><ellipse cx="685.7" cy="460.5" rx="2.5" ry="1.6" fill="#9048d8" opacity="0.78" transform="rotate(82 685.7 460.5)"/><ellipse cx="672.8" cy="512.3" rx="1.7" ry="1.8" fill="#9048d8" opacity="0.94" transform="rotate(47 672.8 512.3)"/><ellipse cx="736.4" cy="544.1" rx="2.6" ry="2.2" fill="#7a40e8" opacity="0.87" transform="rotate(98 736.4 544.1)"/><ellipse cx="724.5" cy="488.7" rx="1.9" ry="2.2" fill="#7a40e8" opacity="0.96" transform="rotate(165 724.5 488.7)"/><ellipse cx="604.1" cy="502.2" rx="2.3" ry="1.6" fill="#7a40e8" opacity="0.98" transform="rotate(95 604.1 502.2)"/><ellipse cx="645.7" cy="577.5" rx="1.8" ry="1.6" fill="#4848ff" opacity="0.83" transform="rotate(109 645.7 577.5)"/><ellipse cx="648.6" cy="553.8" rx="2.9" ry="1.6" fill="#4848ff" opacity="0.92" transform="rotate(104 648.6 553.8)"/><ellipse cx="638.7" cy="566.9" rx="3.0" ry="1.8" fill="#4040f0" opacity="0.77" transform="rotate(151 638.7 566.9)"/><ellipse cx="606.1" cy="556.2" rx="2.7" ry="1.4" fill="#9048d8" opacity="0.95" transform="rotate(82 606.1 556.2)"/><ellipse cx="611.5" cy="522.5" rx="2.7" ry="1.5" fill="#3838e0" opacity="0.99" transform="rotate(42 611.5 522.5)"/><ellipse cx="597.7" cy="511.6" rx="1.7" ry="1.6" fill="#3838e0" opacity="0.87" transform="rotate(122 597.7 511.6)"/><ellipse cx="719.3" cy="517.1" rx="2.7" ry="1.8" fill="#9048d8" opacity="0.88" transform="rotate(28 719.3 517.1)"/><ellipse cx="606.9" cy="555.9" rx="2.1" ry="1.7" fill="#3838e0" opacity="0.81" transform="rotate(23 606.9 555.9)"/><ellipse cx="699.7" cy="453.6" rx="1.8" ry="2.1" fill="#7a40e8" opacity="0.92" transform="rotate(79 699.7 453.6)"/><ellipse cx="615.7" cy="503.0" rx="1.8" ry="2.0" fill="#4040f0" opacity="0.85" transform="rotate(100 615.7 503.0)"/><ellipse cx="621.1" cy="507.0" rx="2.7" ry="1.8" fill="#4040f0" opacity="0.77" transform="rotate(122 621.1 507.0)"/><ellipse cx="726.6" cy="560.0" rx="2.7" ry="1.8" fill="#3838e0" opacity="0.92" transform="rotate(13 726.6 560.0)"/><ellipse cx="661.4" cy="461.2" rx="2.3" ry="1.6" fill="#3838e0" opacity="0.82" transform="rotate(53 661.4 461.2)"/><ellipse cx="689.7" cy="493.8" rx="1.8" ry="1.5" fill="#7a40e8" opacity="0.97" transform="rotate(140 689.7 493.8)"/><ellipse cx="716.2" cy="492.9" rx="2.0" ry="1.4" fill="#9048d8" opacity="0.91" transform="rotate(113 716.2 492.9)"/><ellipse cx="659.3" cy="524.4" rx="2.4" ry="2.1" fill="#5a48ff" opacity="0.94" transform="rotate(57 659.3 524.4)"/><ellipse cx="623.2" cy="492.8" rx="2.0" ry="2.1" fill="#3838e0" opacity="0.75" transform="rotate(101 623.2 492.8)"/><ellipse cx="717.8" cy="542.3" rx="2.3" ry="1.5" fill="#9048d8" opacity="0.94" transform="rotate(79 717.8 542.3)"/><ellipse cx="725.1" cy="510.3" rx="2.7" ry="1.8" fill="#7a40e8" opacity="0.97" transform="rotate(132 725.1 510.3)"/><ellipse cx="663.2" cy="455.1" rx="2.0" ry="2.1" fill="#5a48ff" opacity="0.76" transform="rotate(99 663.2 455.1)"/><ellipse cx="731.1" cy="509.5" rx="2.2" ry="2.2" fill="#3838e0" opacity="0.85" transform="rotate(62 731.1 509.5)"/><ellipse cx="681.2" cy="539.2" rx="1.9" ry="1.6" fill="#9048d8" opacity="0.81" transform="rotate(141 681.2 539.2)"/><ellipse cx="696.9" cy="462.0" rx="2.7" ry="2.0" fill="#4848ff" opacity="0.95" transform="rotate(68 696.9 462.0)"/><ellipse cx="645.5" cy="487.7" rx="1.9" ry="1.8" fill="#7a40e8" opacity="0.97" transform="rotate(83 645.5 487.7)"/><ellipse cx="638.7" cy="526.6" rx="2.0" ry="1.6" fill="#9048d8" opacity="0.81" transform="rotate(95 638.7 526.6)"/><ellipse cx="665.8" cy="567.3" rx="2.6" ry="1.9" fill="#9048d8" opacity="0.86" transform="rotate(41 665.8 567.3)"/><ellipse cx="662.4" cy="466.7" rx="2.9" ry="1.8" fill="#4848ff" opacity="0.97" transform="rotate(157 662.4 466.7)"/><ellipse cx="681.4" cy="464.9" rx="1.8" ry="2.2" fill="#4040f0" opacity="0.83" transform="rotate(175 681.4 464.9)"/><ellipse cx="629.1" cy="573.6" rx="1.9" ry="1.6" fill="#4848ff" opacity="0.85" transform="rotate(68 629.1 573.6)"/><ellipse cx="634.9" cy="553.3" rx="2.5" ry="2.1" fill="#4848ff" opacity="0.98" transform="rotate(144 634.9 553.3)"/><ellipse cx="706.5" cy="472.1" rx="2.7" ry="1.6" fill="#3838e0" opacity="0.95" transform="rotate(24 706.5 472.1)"/><ellipse cx="711.4" cy="487.7" rx="2.0" ry="1.4" fill="#3838e0" opacity="0.80" transform="rotate(135 711.4 487.7)"/><ellipse cx="710.7" cy="541.7" rx="2.5" ry="2.0" fill="#4848ff" opacity="0.97" transform="rotate(179 710.7 541.7)"/><ellipse cx="649.8" cy="554.7" rx="2.3" ry="1.8" fill="#3838e0" opacity="0.95" transform="rotate(178 649.8 554.7)"/><ellipse cx="729.8" cy="497.6" rx="1.7" ry="2.1" fill="#4040f0" opacity="0.75" transform="rotate(76 729.8 497.6)"/><ellipse cx="657.7" cy="490.5" rx="1.9" ry="1.9" fill="#4040f0" opacity="0.86" transform="rotate(169 657.7 490.5)"/><ellipse cx="609.7" cy="514.8" rx="2.9" ry="2.2" fill="#7a40e8" opacity="0.88" transform="rotate(11 609.7 514.8)"/><ellipse cx="726.3" cy="487.8" rx="1.9" ry="1.4" fill="#5a48ff" opacity="0.96" transform="rotate(111 726.3 487.8)"/><ellipse cx="673.8" cy="557.3" rx="2.6" ry="2.0" fill="#4040f0" opacity="0.75" transform="rotate(174 673.8 557.3)"/><ellipse cx="640.9" cy="504.3" rx="2.5" ry="1.9" fill="#3838e0" opacity="0.76" transform="rotate(86 640.9 504.3)"/><ellipse cx="650.0" cy="451.4" rx="2.5" ry="1.4" fill="#4040f0" opacity="0.82" transform="rotate(131 650.0 451.4)"/><ellipse cx="601.1" cy="527.9" rx="2.4" ry="2.2" fill="#7a40e8" opacity="0.92" transform="rotate(117 601.1 527.9)"/><ellipse cx="602.9" cy="507.1" rx="1.8" ry="1.7" fill="#4040f0" opacity="0.97" transform="rotate(148 602.9 507.1)"/><ellipse cx="681.6" cy="528.6" rx="2.9" ry="1.4" fill="#4040f0" opacity="0.93" transform="rotate(91 681.6 528.6)"/><ellipse cx="636.8" cy="567.9" rx="2.4" ry="1.7" fill="#4040f0" opacity="0.81" transform="rotate(146 636.8 567.9)"/><ellipse cx="604.6" cy="543.2" rx="2.3" ry="2.3" fill="#4040f0" opacity="0.89" transform="rotate(172 604.6 543.2)"/><ellipse cx="651.0" cy="544.0" rx="2.9" ry="1.8" fill="#7a40e8" opacity="0.83" transform="rotate(11 651.0 544.0)"/><ellipse cx="712.0" cy="509.8" rx="2.8" ry="2.1" fill="#7a40e8" opacity="0.77" transform="rotate(58 712.0 509.8)"/><ellipse cx="690.2" cy="557.8" rx="1.8" ry="2.0" fill="#3838e0" opacity="0.84" transform="rotate(29 690.2 557.8)"/><ellipse cx="602.0" cy="498.6" rx="2.0" ry="2.3" fill="#5a48ff" opacity="0.91" transform="rotate(61 602.0 498.6)"/><ellipse cx="610.6" cy="538.7" rx="2.8" ry="1.9" fill="#5a48ff" opacity="0.94" transform="rotate(65 610.6 538.7)"/><ellipse cx="683.4" cy="466.2" rx="2.5" ry="1.7" fill="#9048d8" opacity="0.99" transform="rotate(47 683.4 466.2)"/><ellipse cx="718.7" cy="513.6" rx="2.8" ry="2.0" fill="#4040f0" opacity="0.98" transform="rotate(69 718.7 513.6)"/><ellipse cx="674.9" cy="524.7" rx="2.1" ry="1.6" fill="#4848ff" opacity="0.92" transform="rotate(127 674.9 524.7)"/><ellipse cx="685.1" cy="482.1" rx="1.8" ry="1.8" fill="#9048d8" opacity="0.88" transform="rotate(164 685.1 482.1)"/><ellipse cx="636.8" cy="573.6" rx="2.8" ry="2.1" fill="#4040f0" opacity="0.90" transform="rotate(95 636.8 573.6)"/><ellipse cx="634.5" cy="538.7" rx="2.3" ry="1.8" fill="#7a40e8" opacity="0.91" transform="rotate(29 634.5 538.7)"/></g><rect x="749.400" y="617.300" width="23.200" height="1.300" fill="#fff"/></g>
<text x="761" y="623.4" font-size="3.6" fill="#fff" font-weight="bold" text-anchor="middle">50 μm</text>
</svg>
</body></html>
